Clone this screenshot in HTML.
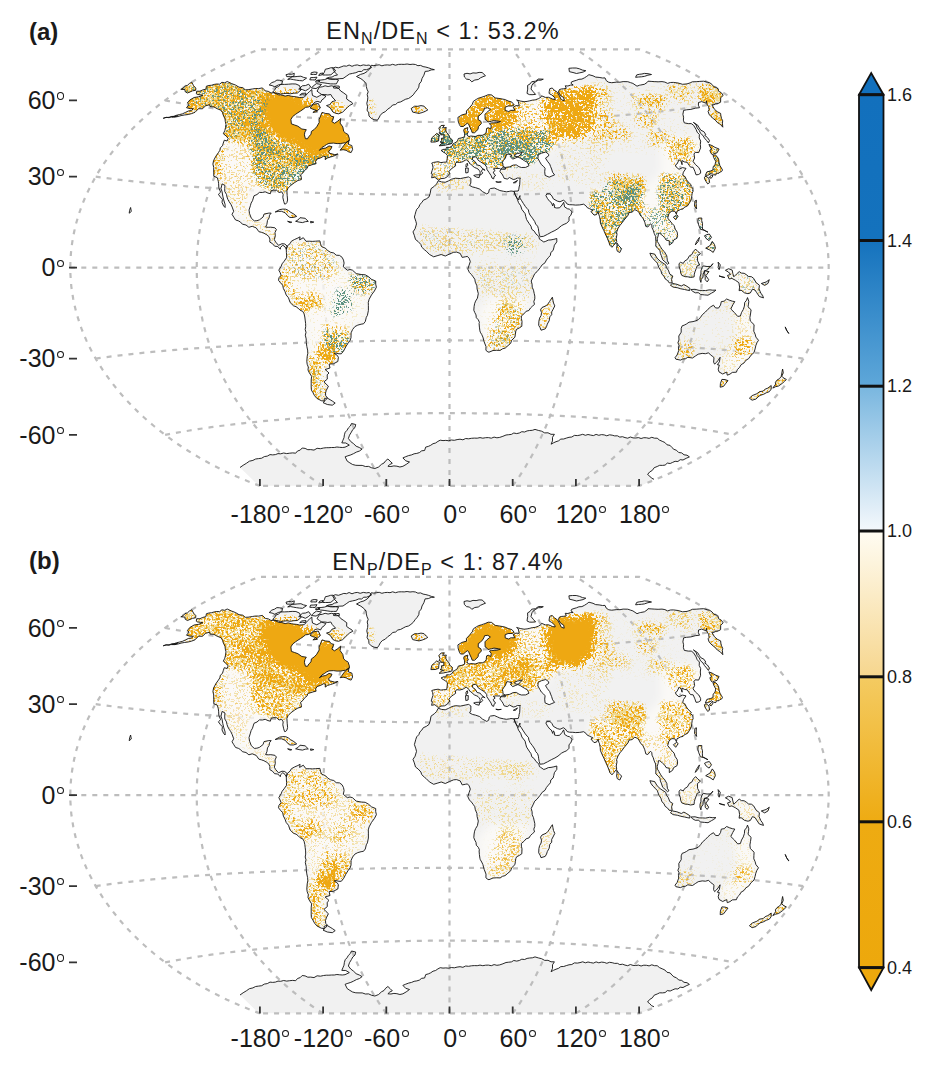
<!DOCTYPE html>
<html><head><meta charset="utf-8"><style>
html,body{margin:0;padding:0;background:#fff;width:933px;height:1066px;overflow:hidden}
body{position:relative;font-family:"Liberation Sans",sans-serif;color:#1a1a1a}
svg{position:absolute;left:0;top:0}
.lab{position:absolute;font-weight:bold;font-size:24px;line-height:30px}
.title{position:absolute;left:0;width:886px;text-align:center;font-size:23.5px;line-height:30px;white-space:nowrap;letter-spacing:1.05px}
.title sub{font-size:16px;vertical-align:-5px;line-height:0}
.lat{position:absolute;right:869px;font-size:25px;line-height:30px;white-space:nowrap}
.lon{position:absolute;width:120px;text-align:center;font-size:25px;line-height:30px;white-space:nowrap}
.dg{display:inline-block;width:5px;height:5.4px;border:1.25px solid #1a1a1a;border-radius:50%;vertical-align:9.5px;margin-left:1.5px}
.cbl{position:absolute;left:887px;font-size:18px;line-height:24px}
</style></head><body>
<svg width="933" height="1066" viewBox="0 0 933 1066">
<defs><filter id="fy" x="0" y="0" width="933" height="1066" filterUnits="userSpaceOnUse" color-interpolation-filters="sRGB"><feGaussianBlur in="SourceAlpha" stdDeviation="3" result="d"/><feTurbulence type="fractalNoise" baseFrequency="0.5" numOctaves="2" seed="11" result="n1"/><feTurbulence type="fractalNoise" baseFrequency="0.06" numOctaves="2" seed="31" result="n2"/><feComposite in="n1" in2="n2" operator="arithmetic" k1="0" k2="0.8" k3="0.2" k4="0" result="n"/><feColorMatrix in="n" type="matrix" values="0 0 0 0 0  0 0 0 0 0  0 0 0 0 0  4.2 0 0 0 -1.6" result="na"/><feComposite in="d" in2="na" operator="arithmetic" k1="0" k2="1.3" k3="1" k4="-1.1" result="s"/><feComponentTransfer in="s" result="th"><feFuncA type="linear" slope="5" intercept="0"/></feComponentTransfer><feFlood flood-color="#efd98f"/><feComposite operator="in" in2="th"/></filter><filter id="fo" x="0" y="0" width="933" height="1066" filterUnits="userSpaceOnUse" color-interpolation-filters="sRGB"><feGaussianBlur in="SourceAlpha" stdDeviation="3" result="d"/><feTurbulence type="fractalNoise" baseFrequency="0.45" numOctaves="2" seed="3" result="n1"/><feTurbulence type="fractalNoise" baseFrequency="0.06" numOctaves="2" seed="23" result="n2"/><feComposite in="n1" in2="n2" operator="arithmetic" k1="0" k2="0.8" k3="0.2" k4="0" result="n"/><feColorMatrix in="n" type="matrix" values="0 0 0 0 0  0 0 0 0 0  0 0 0 0 0  4.2 0 0 0 -1.6" result="na"/><feComposite in="d" in2="na" operator="arithmetic" k1="0" k2="1.3" k3="1" k4="-1.1" result="s"/><feComponentTransfer in="s" result="th"><feFuncA type="linear" slope="5" intercept="0"/></feComponentTransfer><feFlood flood-color="#eea812"/><feComposite operator="in" in2="th"/></filter><filter id="ft" x="0" y="0" width="933" height="1066" filterUnits="userSpaceOnUse" color-interpolation-filters="sRGB"><feGaussianBlur in="SourceAlpha" stdDeviation="3" result="d"/><feTurbulence type="fractalNoise" baseFrequency="0.55" numOctaves="2" seed="7" result="n1"/><feTurbulence type="fractalNoise" baseFrequency="0.06" numOctaves="2" seed="27" result="n2"/><feComposite in="n1" in2="n2" operator="arithmetic" k1="0" k2="0.8" k3="0.2" k4="0" result="n"/><feColorMatrix in="n" type="matrix" values="0 0 0 0 0  0 0 0 0 0  0 0 0 0 0  4.2 0 0 0 -1.6" result="na"/><feComposite in="d" in2="na" operator="arithmetic" k1="0" k2="1.3" k3="1" k4="-1.1" result="s"/><feComponentTransfer in="s" result="th"><feFuncA type="linear" slope="5" intercept="0"/></feComponentTransfer><feFlood flood-color="#5a9080"/><feComposite operator="in" in2="th"/></filter><filter id="bl4" x="0" y="0" width="933" height="1066" filterUnits="userSpaceOnUse"><feGaussianBlur stdDeviation="4"/></filter><filter id="soft" x="0" y="0" width="933" height="1066" filterUnits="userSpaceOnUse"><feGaussianBlur stdDeviation="0.7"/></filter><path id="gratp" d="M323.1,485.9L317.4,482.3L311.9,478.5L306.5,474.6L301.2,470.6L296.1,466.6L291.1,462.5L286.2,458.3L281.4,454.0L276.8,449.6L272.3,445.2L268.0,440.8L263.8,436.2L259.7,431.7L255.8,427.0L252.0,422.3L248.3,417.6L244.7,412.8L241.3,408.0L238.0,403.1L234.9,398.2L231.8,393.2L228.9,388.2L226.2,383.2L223.5,378.2L221.0,373.1L218.6,368.0L216.4,362.8L214.2,357.7L212.2,352.5L210.3,347.3L208.6,342.1L206.9,336.8L205.4,331.6L204.0,326.3L202.7,321.0L201.6,315.7L200.6,310.4L199.7,305.0L198.9,299.7L198.2,294.4L197.7,289.0L197.2,283.7L196.9,278.3L196.8,273.0L196.7,267.6L196.8,262.2L196.9,256.9L197.2,251.5L197.7,246.2L198.2,240.8L198.9,235.5L199.7,230.2L200.6,224.8L201.6,219.5L202.7,214.2L204.0,208.9L205.4,203.6L206.9,198.4L208.6,193.1L210.3,187.9L212.2,182.7L214.2,177.5L216.4,172.4L218.6,167.2L221.0,162.1L223.5,157.0L226.2,152.0L228.9,147.0L231.8,142.0L234.9,137.0L238.0,132.1L241.3,127.2L244.7,122.4L248.3,117.6L252.0,112.9L255.8,108.2L259.7,103.5L263.8,99.0L268.0,94.4L272.3,90.0L276.8,85.6L281.4,81.2L286.2,76.9L291.1,72.7L296.1,68.6L301.2,64.6L306.5,60.6L311.9,56.7L317.4,52.9L323.1,49.3M386.3,485.9L383.1,481.4L379.9,476.8L376.9,472.2L374.0,467.6L371.3,462.9L368.6,458.3L366.0,453.6L363.5,448.8L361.1,444.1L358.9,439.4L356.7,434.6L354.5,429.8L352.5,425.0L350.6,420.2L348.7,415.4L346.9,410.5L345.2,405.7L343.6,400.8L342.0,396.0L340.5,391.1L339.1,386.2L337.7,381.3L336.5,376.4L335.2,371.5L334.1,366.6L333.0,361.7L331.9,356.8L331.0,351.8L330.0,346.9L329.2,342.0L328.4,337.0L327.7,332.1L327.0,327.1L326.4,322.2L325.8,317.2L325.3,312.3L324.8,307.3L324.4,302.4L324.1,297.4L323.8,292.4L323.5,287.5L323.3,282.5L323.2,277.5L323.1,272.6L323.1,267.6L323.1,262.6L323.2,257.7L323.3,252.7L323.5,247.7L323.8,242.8L324.1,237.8L324.4,232.8L324.8,227.9L325.3,222.9L325.8,218.0L326.4,213.0L327.0,208.1L327.7,203.1L328.4,198.2L329.2,193.2L330.0,188.3L331.0,183.4L331.9,178.4L333.0,173.5L334.1,168.6L335.2,163.7L336.5,158.8L337.7,153.9L339.1,149.0L340.5,144.1L342.0,139.2L343.6,134.4L345.2,129.5L346.9,124.7L348.7,119.8L350.6,115.0L352.5,110.2L354.5,105.4L356.7,100.6L358.9,95.8L361.1,91.1L363.5,86.4L366.0,81.6L368.6,76.9L371.3,72.3L374.0,67.6L376.9,63.0L379.9,58.4L383.1,53.8L386.3,49.3M449.5,485.9L449.5,481.1L449.5,476.2L449.5,471.4L449.5,466.5L449.5,461.7L449.5,456.8L449.5,452.0L449.5,447.1L449.5,442.3L449.5,437.4L449.5,432.6L449.5,427.7L449.5,422.9L449.5,418.0L449.5,413.2L449.5,408.3L449.5,403.5L449.5,398.6L449.5,393.8L449.5,388.9L449.5,384.0L449.5,379.2L449.5,374.3L449.5,369.5L449.5,364.6L449.5,359.8L449.5,354.9L449.5,350.1L449.5,345.2L449.5,340.4L449.5,335.5L449.5,330.7L449.5,325.8L449.5,321.0L449.5,316.1L449.5,311.3L449.5,306.4L449.5,301.6L449.5,296.7L449.5,291.9L449.5,287.0L449.5,282.2L449.5,277.3L449.5,272.5L449.5,267.6L449.5,262.7L449.5,257.9L449.5,253.0L449.5,248.2L449.5,243.3L449.5,238.5L449.5,233.6L449.5,228.8L449.5,223.9L449.5,219.1L449.5,214.2L449.5,209.4L449.5,204.5L449.5,199.7L449.5,194.8L449.5,190.0L449.5,185.1L449.5,180.3L449.5,175.4L449.5,170.6L449.5,165.7L449.5,160.9L449.5,156.0L449.5,151.2L449.5,146.3L449.5,141.4L449.5,136.6L449.5,131.7L449.5,126.9L449.5,122.0L449.5,117.2L449.5,112.3L449.5,107.5L449.5,102.6L449.5,97.8L449.5,92.9L449.5,88.1L449.5,83.2L449.5,78.4L449.5,73.5L449.5,68.7L449.5,63.8L449.5,59.0L449.5,54.1L449.5,49.3M512.7,485.9L515.9,481.4L519.1,476.8L522.1,472.2L525.0,467.6L527.7,462.9L530.4,458.3L533.0,453.6L535.5,448.8L537.9,444.1L540.1,439.4L542.3,434.6L544.5,429.8L546.5,425.0L548.4,420.2L550.3,415.4L552.1,410.5L553.8,405.7L555.4,400.8L557.0,396.0L558.5,391.1L559.9,386.2L561.3,381.3L562.5,376.4L563.8,371.5L564.9,366.6L566.0,361.7L567.1,356.8L568.0,351.8L569.0,346.9L569.8,342.0L570.6,337.0L571.3,332.1L572.0,327.1L572.6,322.2L573.2,317.2L573.7,312.3L574.2,307.3L574.6,302.4L574.9,297.4L575.2,292.4L575.5,287.5L575.7,282.5L575.8,277.5L575.9,272.6L575.9,267.6L575.9,262.6L575.8,257.7L575.7,252.7L575.5,247.7L575.2,242.8L574.9,237.8L574.6,232.8L574.2,227.9L573.7,222.9L573.2,218.0L572.6,213.0L572.0,208.1L571.3,203.1L570.6,198.2L569.8,193.2L569.0,188.3L568.0,183.4L567.1,178.4L566.0,173.5L564.9,168.6L563.8,163.7L562.5,158.8L561.3,153.9L559.9,149.0L558.5,144.1L557.0,139.2L555.4,134.4L553.8,129.5L552.1,124.7L550.3,119.8L548.4,115.0L546.5,110.2L544.5,105.4L542.3,100.6L540.1,95.8L537.9,91.1L535.5,86.4L533.0,81.6L530.4,76.9L527.7,72.3L525.0,67.6L522.1,63.0L519.1,58.4L515.9,53.8L512.7,49.3M575.9,485.9L581.6,482.3L587.1,478.5L592.5,474.6L597.8,470.6L602.9,466.6L607.9,462.5L612.8,458.3L617.6,454.0L622.2,449.6L626.7,445.2L631.0,440.8L635.2,436.2L639.3,431.7L643.2,427.0L647.0,422.3L650.7,417.6L654.3,412.8L657.7,408.0L661.0,403.1L664.1,398.2L667.2,393.2L670.1,388.2L672.8,383.2L675.5,378.2L678.0,373.1L680.4,368.0L682.6,362.8L684.8,357.7L686.8,352.5L688.7,347.3L690.4,342.1L692.1,336.8L693.6,331.6L695.0,326.3L696.3,321.0L697.4,315.7L698.4,310.4L699.3,305.0L700.1,299.7L700.8,294.4L701.3,289.0L701.8,283.7L702.1,278.3L702.2,273.0L702.3,267.6L702.2,262.2L702.1,256.9L701.8,251.5L701.3,246.2L700.8,240.8L700.1,235.5L699.3,230.2L698.4,224.8L697.4,219.5L696.3,214.2L695.0,208.9L693.6,203.6L692.1,198.4L690.4,193.1L688.7,187.9L686.8,182.7L684.8,177.5L682.6,172.4L680.4,167.2L678.0,162.1L675.5,157.0L672.8,152.0L670.1,147.0L667.2,142.0L664.1,137.0L661.0,132.1L657.7,127.2L654.3,122.4L650.7,117.6L647.0,112.9L643.2,108.2L639.3,103.5L635.2,99.0L631.0,94.4L626.7,90.0L622.2,85.6L617.6,81.2L612.8,76.9L607.9,72.7L602.9,68.6L597.8,64.6L592.5,60.6L587.1,56.7L581.6,52.9L575.9,49.3M165.1,434.9L169.1,434.1L173.1,433.4L177.2,432.6L181.3,431.9L185.4,431.2L189.6,430.5L193.9,429.8L198.1,429.1L202.4,428.5L206.8,427.8L211.2,427.2L215.6,426.6L220.0,426.0L224.5,425.5L229.0,424.9L233.5,424.4L238.1,423.8L242.7,423.3L247.3,422.8L252.0,422.3L256.6,421.8L261.3,421.4L266.0,420.9L270.7,420.5L275.5,420.1L280.3,419.7L285.1,419.3L289.9,418.9L294.7,418.6L299.5,418.2L304.4,417.9L309.3,417.5L314.1,417.2L319.0,416.9L324.0,416.6L328.9,416.4L333.8,416.1L338.8,415.8L343.7,415.6L348.7,415.4L353.7,415.1L358.7,414.9L363.7,414.7L368.7,414.6L373.7,414.4L378.7,414.2L383.8,414.1L388.8,413.9L393.8,413.8L398.9,413.7L403.9,413.6L409.0,413.5L414.0,413.4L419.1,413.4L424.2,413.3L429.2,413.2L434.3,413.2L439.4,413.2L444.4,413.2L449.5,413.2L454.6,413.2L459.6,413.2L464.7,413.2L469.8,413.2L474.8,413.3L479.9,413.4L485.0,413.4L490.0,413.5L495.1,413.6L500.1,413.7L505.2,413.8L510.2,413.9L515.2,414.1L520.3,414.2L525.3,414.4L530.3,414.6L535.3,414.7L540.3,414.9L545.3,415.1L550.3,415.4L555.3,415.6L560.2,415.8L565.2,416.1L570.1,416.4L575.0,416.6L580.0,416.9L584.9,417.2L589.7,417.5L594.6,417.9L599.5,418.2L604.3,418.6L609.1,418.9L613.9,419.3L618.7,419.7L623.5,420.1L628.3,420.5L633.0,420.9L637.7,421.4L642.4,421.8L647.0,422.3L651.7,422.8L656.3,423.3L660.9,423.8L665.5,424.4L670.0,424.9L674.5,425.5L679.0,426.0L683.4,426.6L687.8,427.2L692.2,427.8L696.6,428.5L700.9,429.1L705.1,429.8L709.4,430.5L713.6,431.2L717.7,431.9L721.8,432.6L725.9,433.4L729.9,434.1L733.9,434.9M95.7,358.6L101.3,357.8L106.8,357.1L112.4,356.3L118.0,355.6L123.7,355.0L129.3,354.3L135.0,353.7L140.7,353.1L146.4,352.5L152.2,351.9L157.9,351.4L163.7,350.9L169.5,350.4L175.3,349.9L181.1,349.4L186.9,348.9L192.8,348.5L198.6,348.1L204.5,347.7L210.3,347.3L216.2,346.9L222.1,346.5L228.0,346.2L233.9,345.8L239.8,345.5L245.7,345.2L251.6,344.9L257.6,344.6L263.5,344.3L269.5,344.1L275.4,343.8L281.4,343.6L287.3,343.3L293.3,343.1L299.3,342.9L305.2,342.7L311.2,342.5L317.2,342.3L323.2,342.1L329.2,342.0L335.2,341.8L341.2,341.7L347.2,341.5L353.2,341.4L359.2,341.3L365.2,341.1L371.2,341.0L377.2,340.9L383.3,340.8L389.3,340.8L395.3,340.7L401.3,340.6L407.3,340.6L413.4,340.5L419.4,340.5L425.4,340.4L431.4,340.4L437.4,340.4L443.5,340.4L449.5,340.4L455.5,340.4L461.6,340.4L467.6,340.4L473.6,340.4L479.6,340.5L485.6,340.5L491.7,340.6L497.7,340.6L503.7,340.7L509.7,340.8L515.7,340.8L521.8,340.9L527.8,341.0L533.8,341.1L539.8,341.3L545.8,341.4L551.8,341.5L557.8,341.7L563.8,341.8L569.8,342.0L575.8,342.1L581.8,342.3L587.8,342.5L593.8,342.7L599.7,342.9L605.7,343.1L611.7,343.3L617.6,343.6L623.6,343.8L629.5,344.1L635.5,344.3L641.4,344.6L647.4,344.9L653.3,345.2L659.2,345.5L665.1,345.8L671.0,346.2L676.9,346.5L682.8,346.9L688.7,347.3L694.5,347.7L700.4,348.1L706.2,348.5L712.1,348.9L717.9,349.4L723.7,349.9L729.5,350.4L735.3,350.9L741.1,351.4L746.8,351.9L752.6,352.5L758.3,353.1L764.0,353.7L769.7,354.3L775.3,355.0L781.0,355.6L786.6,356.3L792.2,357.1L797.7,357.8L803.3,358.6M70.3,267.6L76.6,267.6L82.9,267.6L89.3,267.6L95.6,267.6L101.9,267.6L108.2,267.6L114.5,267.6L120.9,267.6L127.2,267.6L133.5,267.6L139.8,267.6L146.1,267.6L152.5,267.6L158.8,267.6L165.1,267.6L171.4,267.6L177.7,267.6L184.1,267.6L190.4,267.6L196.7,267.6L203.0,267.6L209.3,267.6L215.7,267.6L222.0,267.6L228.3,267.6L234.6,267.6L240.9,267.6L247.3,267.6L253.6,267.6L259.9,267.6L266.2,267.6L272.5,267.6L278.9,267.6L285.2,267.6L291.5,267.6L297.8,267.6L304.1,267.6L310.5,267.6L316.8,267.6L323.1,267.6L329.4,267.6L335.7,267.6L342.1,267.6L348.4,267.6L354.7,267.6L361.0,267.6L367.3,267.6L373.7,267.6L380.0,267.6L386.3,267.6L392.6,267.6L398.9,267.6L405.3,267.6L411.6,267.6L417.9,267.6L424.2,267.6L430.5,267.6L436.9,267.6L443.2,267.6L449.5,267.6L455.8,267.6L462.1,267.6L468.5,267.6L474.8,267.6L481.1,267.6L487.4,267.6L493.7,267.6L500.1,267.6L506.4,267.6L512.7,267.6L519.0,267.6L525.3,267.6L531.7,267.6L538.0,267.6L544.3,267.6L550.6,267.6L556.9,267.6L563.3,267.6L569.6,267.6L575.9,267.6L582.2,267.6L588.5,267.6L594.9,267.6L601.2,267.6L607.5,267.6L613.8,267.6L620.1,267.6L626.5,267.6L632.8,267.6L639.1,267.6L645.4,267.6L651.7,267.6L658.1,267.6L664.4,267.6L670.7,267.6L677.0,267.6L683.3,267.6L689.7,267.6L696.0,267.6L702.3,267.6L708.6,267.6L714.9,267.6L721.3,267.6L727.6,267.6L733.9,267.6L740.2,267.6L746.5,267.6L752.9,267.6L759.2,267.6L765.5,267.6L771.8,267.6L778.1,267.6L784.5,267.6L790.8,267.6L797.1,267.6L803.4,267.6L809.7,267.6L816.1,267.6L822.4,267.6L828.7,267.6M95.7,176.6L101.3,177.4L106.8,178.1L112.4,178.9L118.0,179.6L123.7,180.2L129.3,180.9L135.0,181.5L140.7,182.1L146.4,182.7L152.2,183.3L157.9,183.8L163.7,184.3L169.5,184.8L175.3,185.3L181.1,185.8L186.9,186.3L192.8,186.7L198.6,187.1L204.5,187.5L210.3,187.9L216.2,188.3L222.1,188.7L228.0,189.0L233.9,189.4L239.8,189.7L245.7,190.0L251.6,190.3L257.6,190.6L263.5,190.9L269.5,191.1L275.4,191.4L281.4,191.6L287.3,191.9L293.3,192.1L299.3,192.3L305.2,192.5L311.2,192.7L317.2,192.9L323.2,193.1L329.2,193.2L335.2,193.4L341.2,193.5L347.2,193.7L353.2,193.8L359.2,193.9L365.2,194.1L371.2,194.2L377.2,194.3L383.3,194.4L389.3,194.4L395.3,194.5L401.3,194.6L407.3,194.6L413.4,194.7L419.4,194.7L425.4,194.8L431.4,194.8L437.4,194.8L443.5,194.8L449.5,194.8L455.5,194.8L461.6,194.8L467.6,194.8L473.6,194.8L479.6,194.7L485.6,194.7L491.7,194.6L497.7,194.6L503.7,194.5L509.7,194.4L515.7,194.4L521.8,194.3L527.8,194.2L533.8,194.1L539.8,193.9L545.8,193.8L551.8,193.7L557.8,193.5L563.8,193.4L569.8,193.2L575.8,193.1L581.8,192.9L587.8,192.7L593.8,192.5L599.7,192.3L605.7,192.1L611.7,191.9L617.6,191.6L623.6,191.4L629.5,191.1L635.5,190.9L641.4,190.6L647.4,190.3L653.3,190.0L659.2,189.7L665.1,189.4L671.0,189.0L676.9,188.7L682.8,188.3L688.7,187.9L694.5,187.5L700.4,187.1L706.2,186.7L712.1,186.3L717.9,185.8L723.7,185.3L729.5,184.8L735.3,184.3L741.1,183.8L746.8,183.3L752.6,182.7L758.3,182.1L764.0,181.5L769.7,180.9L775.3,180.2L781.0,179.6L786.6,178.9L792.2,178.1L797.7,177.4L803.3,176.6M165.1,100.3L169.1,101.1L173.1,101.8L177.2,102.6L181.3,103.3L185.4,104.0L189.6,104.7L193.9,105.4L198.1,106.1L202.4,106.7L206.8,107.4L211.2,108.0L215.6,108.6L220.0,109.2L224.5,109.7L229.0,110.3L233.5,110.8L238.1,111.4L242.7,111.9L247.3,112.4L252.0,112.9L256.6,113.4L261.3,113.8L266.0,114.3L270.7,114.7L275.5,115.1L280.3,115.5L285.1,115.9L289.9,116.3L294.7,116.6L299.5,117.0L304.4,117.3L309.3,117.7L314.1,118.0L319.0,118.3L324.0,118.6L328.9,118.8L333.8,119.1L338.8,119.4L343.7,119.6L348.7,119.8L353.7,120.1L358.7,120.3L363.7,120.5L368.7,120.6L373.7,120.8L378.7,121.0L383.8,121.1L388.8,121.3L393.8,121.4L398.9,121.5L403.9,121.6L409.0,121.7L414.0,121.8L419.1,121.8L424.2,121.9L429.2,122.0L434.3,122.0L439.4,122.0L444.4,122.0L449.5,122.0L454.6,122.0L459.6,122.0L464.7,122.0L469.8,122.0L474.8,121.9L479.9,121.8L485.0,121.8L490.0,121.7L495.1,121.6L500.1,121.5L505.2,121.4L510.2,121.3L515.2,121.1L520.3,121.0L525.3,120.8L530.3,120.6L535.3,120.5L540.3,120.3L545.3,120.1L550.3,119.8L555.3,119.6L560.2,119.4L565.2,119.1L570.1,118.8L575.0,118.6L580.0,118.3L584.9,118.0L589.7,117.7L594.6,117.3L599.5,117.0L604.3,116.6L609.1,116.3L613.9,115.9L618.7,115.5L623.5,115.1L628.3,114.7L633.0,114.3L637.7,113.8L642.4,113.4L647.0,112.9L651.7,112.4L656.3,111.9L660.9,111.4L665.5,110.8L670.0,110.3L674.5,109.7L679.0,109.2L683.4,108.6L687.8,108.0L692.2,107.4L696.6,106.7L700.9,106.1L705.1,105.4L709.4,104.7L713.6,104.0L717.7,103.3L721.8,102.6L725.9,101.8L729.9,101.1L733.9,100.3M259.9,485.9L253.3,483.4L246.7,480.8L240.1,478.1L233.5,475.2L227.0,472.2L220.5,469.0L214.0,465.7L207.6,462.3L201.3,458.8L195.1,455.1L188.9,451.3L182.8,447.4L176.8,443.4L170.9,439.2L165.1,434.9L159.4,430.5L153.9,426.0L148.5,421.4L143.2,416.7L138.0,411.9L133.0,407.0L128.2,401.9L123.5,396.8L119.0,391.6L114.7,386.3L110.5,380.9L106.5,375.4L102.7,369.9L99.1,364.3L95.7,358.6L92.5,352.8L89.5,347.0L86.7,341.1L84.1,335.2L81.7,329.2L79.6,323.2L77.7,317.1L75.9,311.0L74.5,304.9L73.2,298.7L72.2,292.5L71.3,286.3L70.8,280.1L70.4,273.8L70.3,267.6L70.4,261.4L70.8,255.1L71.3,248.9L72.2,242.7L73.2,236.5L74.5,230.3L75.9,224.2L77.7,218.1L79.6,212.0L81.7,206.0L84.1,200.0L86.7,194.1L89.5,188.2L92.5,182.4L95.7,176.6L99.1,170.9L102.7,165.3L106.5,159.8L110.5,154.3L114.7,148.9L119.0,143.6L123.5,138.4L128.2,133.3L133.0,128.2L138.0,123.3L143.2,118.5L148.5,113.8L153.9,109.2L159.4,104.7L165.1,100.3L170.9,96.0L176.8,91.8L182.8,87.8L188.9,83.9L195.1,80.1L201.3,76.4L207.6,72.9L214.0,69.5L220.5,66.2L227.0,63.0L233.5,60.0L240.1,57.1L246.7,54.4L253.3,51.8L259.9,49.3L259.9,49.3L266.2,49.3L272.5,49.3L278.9,49.3L285.2,49.3L291.5,49.3L297.8,49.3L304.1,49.3L310.5,49.3L316.8,49.3L323.1,49.3L329.4,49.3L335.7,49.3L342.1,49.3L348.4,49.3L354.7,49.3L361.0,49.3L367.3,49.3L373.7,49.3L380.0,49.3L386.3,49.3L392.6,49.3L398.9,49.3L405.3,49.3L411.6,49.3L417.9,49.3L424.2,49.3L430.5,49.3L436.9,49.3L443.2,49.3L449.5,49.3L455.8,49.3L462.1,49.3L468.5,49.3L474.8,49.3L481.1,49.3L487.4,49.3L493.7,49.3L500.1,49.3L506.4,49.3L512.7,49.3L519.0,49.3L525.3,49.3L531.7,49.3L538.0,49.3L544.3,49.3L550.6,49.3L556.9,49.3L563.3,49.3L569.6,49.3L575.9,49.3L582.2,49.3L588.5,49.3L594.9,49.3L601.2,49.3L607.5,49.3L613.8,49.3L620.1,49.3L626.5,49.3L632.8,49.3L639.1,49.3L639.1,49.3L645.7,51.8L652.3,54.4L658.9,57.1L665.5,60.0L672.0,63.0L678.5,66.2L685.0,69.5L691.4,72.9L697.7,76.4L703.9,80.1L710.1,83.9L716.2,87.8L722.2,91.8L728.1,96.0L733.9,100.3L739.6,104.7L745.1,109.2L750.5,113.8L755.8,118.5L761.0,123.3L766.0,128.2L770.8,133.3L775.5,138.4L780.0,143.6L784.3,148.9L788.5,154.3L792.5,159.8L796.3,165.3L799.9,170.9L803.3,176.6L806.5,182.4L809.5,188.2L812.3,194.1L814.9,200.0L817.3,206.0L819.4,212.0L821.3,218.1L823.1,224.2L824.5,230.3L825.8,236.5L826.8,242.7L827.7,248.9L828.2,255.1L828.6,261.4L828.7,267.6L828.6,273.8L828.2,280.1L827.7,286.3L826.8,292.5L825.8,298.7L824.5,304.9L823.1,311.0L821.3,317.1L819.4,323.2L817.3,329.2L814.9,335.2L812.3,341.1L809.5,347.0L806.5,352.8L803.3,358.6L799.9,364.3L796.3,369.9L792.5,375.4L788.5,380.9L784.3,386.3L780.0,391.6L775.5,396.8L770.8,401.9L766.0,407.0L761.0,411.9L755.8,416.7L750.5,421.4L745.1,426.0L739.6,430.5L733.9,434.9L728.1,439.2L722.2,443.4L716.2,447.4L710.1,451.3L703.9,455.1L697.7,458.8L691.4,462.3L685.0,465.7L678.5,469.0L672.0,472.2L665.5,475.2L658.9,478.1L652.3,480.8L645.7,483.4L639.1,485.9L639.1,485.9L632.8,485.9L626.5,485.9L620.1,485.9L613.8,485.9L607.5,485.9L601.2,485.9L594.9,485.9L588.5,485.9L582.2,485.9L575.9,485.9L569.6,485.9L563.3,485.9L556.9,485.9L550.6,485.9L544.3,485.9L538.0,485.9L531.7,485.9L525.3,485.9L519.0,485.9L512.7,485.9L506.4,485.9L500.1,485.9L493.7,485.9L487.4,485.9L481.1,485.9L474.8,485.9L468.5,485.9L462.1,485.9L455.8,485.9L449.5,485.9L443.2,485.9L436.9,485.9L430.5,485.9L424.2,485.9L417.9,485.9L411.6,485.9L405.3,485.9L398.9,485.9L392.6,485.9L386.3,485.9L380.0,485.9L373.7,485.9L367.3,485.9L361.0,485.9L354.7,485.9L348.4,485.9L342.1,485.9L335.7,485.9L329.4,485.9L323.1,485.9L316.8,485.9L310.5,485.9L304.1,485.9L297.8,485.9L291.5,485.9L285.2,485.9L278.9,485.9L272.5,485.9L266.2,485.9L259.9,485.9Z"/><path id="landp" d="M286.7,76.6L290.2,76.7L293.8,76.4L294.3,73.3L291.6,74.3L288.8,74.0L286.0,74.7ZM309.8,79.8L312.5,79.9L315.2,80.0L317.0,77.2L313.8,77.5L310.6,77.6ZM315.6,82.1L319.4,81.9L319.5,80.1L316.2,80.5ZM299.7,95.1L302.4,94.7L305.3,95.2L306.0,93.1L301.8,93.4ZM322.5,75.0L325.3,75.0L328.1,75.0L330.9,74.8L333.2,72.8L335.6,70.8L333.2,67.7L330.6,67.8L328.0,68.7L325.4,69.2L324.3,72.3ZM310.8,74.5L313.5,74.4L316.4,74.5L317.2,72.3L314.2,72.0L311.3,72.7ZM318.7,75.5L322.0,74.8L323.1,73.0L319.9,73.5ZM333.5,88.0L336.4,88.2L339.4,88.1L339.2,86.1L336.6,86.0L334.0,86.1ZM312.9,112.4L317.4,111.8L315.7,110.3ZM196.7,91.2L199.9,91.2L202.8,89.9L205.9,89.2L206.4,86.2L209.0,85.5L211.7,85.2L214.2,84.4L216.8,84.0L219.6,84.2L221.9,82.3L224.7,82.8L227.2,81.5L231.7,83.6L235.6,85.1L239.0,87.2L242.9,87.7L245.2,89.8L248.1,89.7L252.3,89.0L255.5,88.5L258.7,88.6L262.4,87.9L265.4,90.9L268.4,91.4L271.0,93.0L274.2,92.7L278.6,94.8L281.9,95.1L285.2,96.1L288.2,95.4L291.2,96.2L293.9,96.6L296.7,96.9L299.4,97.5L304.2,97.2L306.0,95.2L307.7,93.2L309.7,91.4L311.8,89.5L312.0,92.6L312.5,95.5L316.8,97.3L319.3,95.9L321.6,94.6L325.9,96.0L324.2,98.3L321.9,99.9L320.5,102.5L317.9,101.4L315.1,102.0L313.2,104.0L311.0,105.6L308.5,107.0L305.6,107.3L303.2,109.2L300.6,111.0L297.9,112.7L295.3,114.5L292.7,116.5L290.9,119.4L291.4,123.9L294.6,125.0L297.9,126.2L301.8,129.0L306.3,129.7L304.9,132.1L304.4,134.8L305.4,138.7L307.5,138.8L308.9,136.4L311.0,134.4L311.4,131.4L314.3,129.4L316.7,126.8L319.2,122.5L319.0,119.7L320.1,117.2L322.0,112.4L325.7,113.5L329.5,113.9L331.0,116.2L333.8,116.8L331.9,121.6L334.5,123.3L337.7,121.2L340.7,118.7L340.1,123.1L342.8,126.9L343.7,131.4L345.7,133.2L348.0,134.5L349.3,138.3L349.4,140.6L345.5,142.7L340.7,143.5L337.1,143.6L333.5,143.1L328.9,143.4L326.5,144.5L324.3,146.1L322.0,147.4L319.4,150.3L322.0,148.7L325.8,148.0L329.0,145.9L332.0,146.7L330.5,149.7L328.6,151.1L329.5,153.3L332.1,153.9L334.8,154.7L337.8,154.0L334.9,155.6L330.3,157.1L327.6,157.9L325.2,159.6L325.4,156.6L323.4,156.3L320.8,157.8L317.1,159.0L315.6,161.4L316.1,163.7L313.1,164.4L308.7,165.8L307.7,166.3L307.1,168.4L304.6,170.4L302.9,172.9L300.6,174.8L301.4,177.8L301.4,179.6L297.9,180.5L294.7,182.5L291.1,185.1L288.0,188.2L286.9,190.8L287.2,195.7L287.6,200.0L286.9,202.6L285.8,203.9L284.6,204.1L283.7,201.3L282.8,197.3L283.2,194.4L281.7,191.8L279.0,192.5L276.7,190.3L273.8,190.1L271.1,190.7L270.4,193.7L268.0,193.1L265.2,191.8L262.4,192.5L259.4,192.4L257.0,194.5L254.0,195.8L252.5,200.7L251.1,203.1L250.4,205.7L249.0,210.1L249.6,213.7L251.3,218.2L254.3,220.9L256.9,220.7L259.4,219.9L263.1,217.0L264.0,214.1L268.8,213.1L271.2,213.1L269.5,215.2L269.1,217.9L267.5,220.4L266.9,224.3L265.6,227.1L268.3,227.3L270.8,227.2L274.9,227.8L276.4,229.5L275.0,232.5L275.3,235.9L274.3,239.7L275.7,242.1L278.5,245.3L282.0,243.7L284.8,244.0L287.3,246.2L286.3,249.3L285.0,246.9L282.8,245.2L280.6,247.3L280.3,249.2L277.8,246.5L274.6,246.2L272.5,243.7L269.8,242.1L269.9,239.1L268.9,236.6L266.8,234.8L263.9,233.2L261.4,232.3L258.9,231.7L256.2,227.9L252.2,226.3L248.9,227.3L246.0,225.0L242.4,224.2L240.5,222.1L238.3,220.8L235.6,220.0L233.8,217.2L232.0,214.3L233.7,211.3L232.2,207.1L230.9,204.3L229.2,201.8L227.9,199.5L227.0,197.0L226.5,194.4L224.8,191.5L224.7,188.6L225.0,185.5L222.1,183.9L221.0,188.6L222.1,191.8L222.8,196.1L223.7,199.9L225.1,204.4L225.1,207.5L223.6,205.9L222.0,202.4L222.4,199.3L220.4,197.1L218.4,194.3L220.6,192.2L218.8,187.7L218.6,183.7L218.3,181.3L217.3,177.7L213.8,176.2L213.7,172.2L213.7,167.4L212.9,164.1L213.6,160.5L215.8,156.3L218.4,152.6L219.8,150.4L220.4,147.7L222.5,145.8L223.3,143.0L224.3,140.2L227.1,141.0L228.2,138.4L226.3,136.2L223.3,133.7L224.8,130.7L225.5,127.6L226.0,124.3L225.3,121.6L225.0,118.9L223.1,114.8L222.6,112.7L220.8,110.1L217.1,108.7L214.0,106.9L210.0,106.6L209.7,104.7L205.7,105.8L202.3,108.8L198.5,108.7L195.0,112.3L191.7,113.6L188.2,114.5L184.3,115.0L181.1,115.6L178.0,116.5L174.9,117.1L171.7,117.1L176.4,115.3L179.4,114.6L182.3,113.9L185.5,112.4L188.6,110.9L191.4,110.6L193.3,108.7L190.1,108.7L186.5,107.7L189.0,104.6L187.4,103.0L189.8,100.0L194.1,97.5L198.7,96.8L202.8,95.2L200.2,94.8L197.3,94.4L196.3,93.7ZM177.7,115.7L174.8,116.5L171.8,116.4L169.0,117.3L166.0,117.5L163.2,118.3L166.1,117.3L169.1,117.7L172.0,116.6L175.0,116.7ZM352.8,103.8L349.8,105.3L347.3,107.6L345.0,109.8L342.7,112.1L338.7,113.8L335.7,113.3L332.9,112.0L330.2,107.8L326.5,105.6L329.8,104.6L332.1,101.6L335.6,100.7L332.2,97.0L330.8,94.5L327.8,95.0L324.8,94.5L321.7,94.5L319.3,92.9L317.0,91.1L319.4,87.2L322.3,86.8L325.1,85.8L328.1,86.5L331.4,85.8L334.5,86.5L338.9,88.7L340.7,91.0L343.2,92.6L346.8,95.3L346.6,98.9L349.2,100.8L351.9,102.4ZM326.5,78.3L329.5,78.7L332.5,78.9L335.4,79.2L339.2,78.7L343.0,78.5L346.2,76.3L349.3,74.1L352.5,73.4L355.8,72.7L358.8,71.4L361.6,71.5L363.8,69.7L366.6,69.7L369.1,68.7L371.6,67.5L369.4,65.0L366.3,65.4L363.3,64.9L360.2,65.8L357.3,64.9L354.6,65.3L352.0,66.3L349.1,65.0L346.5,66.2L343.8,65.9L341.1,66.9L338.4,67.8L335.3,67.2L332.7,68.4L334.6,72.0L337.5,75.0L334.7,75.5L332.1,77.0L329.2,77.3ZM272.7,91.9L275.2,93.0L278.0,93.3L280.6,94.1L283.8,93.6L287.0,93.3L290.2,93.8L293.8,93.2L297.5,93.0L301.1,89.9L299.5,85.6L295.9,84.0L292.2,83.9L288.5,84.2L284.7,84.4L280.8,84.4L278.6,86.5L275.8,87.7L274.6,90.2ZM269.2,85.0L272.1,85.6L274.8,86.8L278.2,85.0L281.9,84.1L282.5,80.9L279.8,80.3L276.9,80.1L274.5,81.7L271.8,82.6ZM320.3,82.5L324.1,82.9L327.9,83.5L330.7,83.9L333.5,83.9L336.4,83.9L338.5,79.9L335.8,79.1L333.0,79.4L330.3,79.3L327.6,78.5L324.4,79.6L321.1,80.0L317.8,80.4ZM287.7,79.4L290.7,79.1L293.7,79.7L296.6,80.2L299.6,80.6L302.6,80.8L306.6,78.1L303.6,77.4L300.9,76.2L297.9,76.4L295.0,76.7L292.1,76.8ZM311.4,88.0L316.0,88.6L319.0,86.8L321.5,84.5L316.4,83.6L313.1,86.1ZM298.7,89.1L302.2,89.5L305.4,90.8L308.3,89.2L310.7,87.0L308.7,84.2L305.6,85.5L302.4,85.8ZM310.0,107.8L312.3,109.0L314.8,109.8L317.2,110.8L320.4,108.0L318.3,103.5L313.6,104.3ZM340.1,150.2L343.1,149.7L346.1,150.3L348.5,151.8L351.1,152.6L352.6,149.5L351.8,145.5L348.4,144.4L348.9,140.4L345.7,143.2L343.8,145.4L342.1,147.8ZM275.2,212.0L279.7,209.6L282.8,209.1L285.8,209.2L288.3,210.4L290.6,212.2L293.9,214.1L296.7,216.4L293.3,217.5L289.8,217.4L287.3,215.4L285.4,212.9L281.5,211.3L278.3,211.4ZM295.6,221.3L298.1,219.9L300.0,217.7L305.1,218.3L308.3,221.4L305.3,221.7L302.5,222.6L299.1,222.1ZM287.6,221.3L291.8,222.2L290.1,222.7ZM310.5,221.4L313.8,222.1L310.7,222.9ZM130.6,207.5L131.3,211.5L129.2,213.2L129.6,210.3ZM287.2,246.0L290.1,243.6L291.3,241.3L294.3,239.6L297.9,238.0L300.1,236.8L299.6,239.9L303.3,237.7L306.0,241.3L309.2,241.2L312.3,241.4L315.5,241.2L319.9,240.9L320.5,243.8L321.5,246.5L325.6,248.3L327.7,250.6L330.6,252.3L333.8,253.0L336.2,255.2L339.5,255.4L342.1,257.3L343.5,260.1L344.1,263.1L343.3,266.8L347.3,270.2L350.0,269.5L352.5,270.2L356.2,273.6L361.1,274.5L365.2,274.8L368.5,276.7L371.6,279.4L375.7,281.0L375.7,284.1L376.4,287.2L374.4,291.0L371.5,294.9L369.1,299.4L368.3,302.4L368.4,305.6L368.4,310.5L367.4,315.4L366.3,317.3L365.3,321.5L363.5,323.8L361.1,324.2L357.8,325.1L354.9,326.6L352.6,329.5L351.1,332.8L351.0,337.7L350.1,340.4L348.3,342.7L345.7,346.9L343.7,350.8L341.3,353.8L338.9,353.8L336.1,353.1L334.2,353.4L337.2,355.3L338.4,357.3L337.8,361.5L333.4,363.8L329.1,364.1L330.0,368.0L325.1,369.5L327.1,371.2L329.0,373.0L327.2,374.8L327.3,379.1L324.0,381.8L326.1,384.1L328.4,386.2L326.3,390.4L325.5,393.0L325.7,395.8L327.4,397.7L324.2,398.8L324.3,401.1L321.3,400.7L316.9,398.4L314.5,395.6L312.8,392.4L311.4,390.1L311.2,387.5L311.2,383.7L311.2,380.0L311.6,376.3L309.2,372.6L308.0,370.0L308.3,367.1L307.2,364.3L306.8,361.4L307.2,356.4L307.8,353.3L307.6,350.1L306.8,346.4L306.3,342.6L306.2,338.9L305.3,335.2L306.0,332.3L305.2,329.5L305.7,326.6L305.6,323.4L305.2,320.1L304.8,317.0L304.1,313.9L302.8,311.4L300.2,310.3L298.2,308.3L296.1,306.7L293.5,305.8L290.1,302.5L288.5,297.8L286.2,295.0L285.0,291.6L283.4,288.6L282.7,285.2L280.5,282.8L278.5,280.3L279.0,277.7L281.1,275.2L280.1,272.6L278.8,270.1L281.1,266.4L282.1,263.8L284.1,261.3L286.5,257.8L286.6,255.1L286.4,252.5L286.3,249.5ZM327.3,398.1L330.1,399.7L332.7,401.3L335.2,403.1L332.3,405.2L327.3,404.5L323.0,402.6L325.3,400.5ZM438.2,180.8L436.6,183.9L434.5,186.1L431.0,188.7L430.1,193.7L429.0,196.9L426.3,198.9L423.3,200.2L421.9,202.5L419.9,204.4L418.8,207.2L416.7,209.3L415.8,211.8L415.1,214.5L414.4,217.0L415.9,221.4L416.5,223.9L415.1,228.7L413.0,231.9L414.3,235.3L415.5,239.5L418.0,241.4L420.9,244.5L421.7,247.1L424.4,249.7L426.3,251.2L429.4,254.4L433.7,256.8L437.9,255.5L441.2,254.5L445.3,256.0L449.5,254.0L453.7,252.3L456.6,252.1L460.2,253.4L462.2,257.4L465.3,256.8L467.4,256.4L469.2,258.4L470.3,261.6L469.1,265.1L467.8,269.1L469.4,272.5L471.4,274.5L473.1,276.8L474.8,279.2L475.3,282.2L476.9,285.8L477.1,289.0L478.3,293.6L477.4,298.2L475.6,301.1L474.6,303.7L474.1,306.5L473.8,310.2L474.8,312.6L476.0,314.9L476.3,317.7L478.3,319.8L479.4,322.3L479.1,323.5L479.4,327.1L479.9,330.8L480.3,332.2L481.7,334.5L482.9,337.1L484.1,341.7L486.0,346.6L485.9,350.3L487.9,351.9L489.0,352.2L493.0,350.5L496.6,350.3L500.2,350.4L502.5,348.8L505.2,348.1L507.9,345.7L510.7,343.3L511.6,340.4L514.9,337.2L515.4,334.1L515.8,331.1L516.6,329.3L519.4,327.9L521.8,326.3L522.0,321.4L521.4,318.7L521.3,316.0L523.9,313.9L526.1,311.3L528.9,310.5L530.5,308.0L532.4,306.2L534.5,304.4L533.8,301.6L534.8,298.9L534.8,296.1L534.2,293.4L533.5,290.2L532.2,287.2L532.1,284.3L531.2,281.0L533.0,277.4L534.7,273.7L537.0,271.7L540.2,267.7L542.2,264.8L545.0,262.8L546.4,260.0L548.3,257.7L550.4,255.3L550.8,252.5L553.1,250.5L553.8,247.9L554.4,245.2L556.0,243.0L556.8,241.9L556.8,238.5L553.9,239.3L551.0,239.9L548.3,240.1L545.8,241.3L543.8,242.0L540.6,239.8L539.5,239.2L538.8,236.4L535.9,233.9L534.3,231.2L531.8,229.3L531.0,226.2L529.2,223.6L526.6,219.6L525.8,216.7L525.1,213.6L521.9,209.5L520.7,205.8L518.5,202.6L517.3,199.2L515.2,194.6L514.0,191.4L511.0,191.0L509.3,191.4L506.4,191.8L503.5,191.3L499.8,190.5L497.4,189.4L494.3,188.0L490.4,188.6L489.3,189.5L488.6,192.8L486.7,193.9L482.6,191.7L479.7,189.1L475.7,187.7L472.4,186.9L469.6,185.4L470.8,183.1L470.9,178.5L469.4,177.4L468.6,176.9L465.1,177.6L460.3,178.6L455.4,178.2L451.5,179.2L448.3,181.0L445.2,182.3L441.6,181.9ZM552.4,297.2L552.9,300.1L553.5,303.0L554.8,305.9L553.0,309.5L551.7,311.9L551.7,314.7L549.8,316.8L549.2,320.7L547.3,324.1L546.5,326.7L545.2,328.9L541.0,330.2L540.1,327.7L538.7,325.3L538.9,321.1L539.6,318.1L541.1,315.5L541.5,312.6L540.5,309.7L542.0,307.5L546.0,305.8L548.0,303.8L549.6,301.5L550.9,299.3ZM438.6,180.2L437.1,179.1L434.8,177.2L431.6,177.8L432.4,174.2L431.2,173.7L432.1,170.5L433.0,167.8L432.6,164.9L431.7,163.1L433.6,162.4L438.1,161.7L440.9,162.6L443.8,162.2L446.7,162.1L447.2,158.4L447.4,155.4L445.5,153.3L443.0,151.9L441.1,150.4L444.0,149.2L445.7,149.7L446.5,147.3L449.6,147.4L452.3,145.8L453.0,144.0L454.8,142.9L456.7,141.9L457.7,140.3L458.4,138.5L462.0,137.8L464.7,136.6L464.5,133.2L463.7,130.5L464.3,128.8L467.8,127.6L467.3,130.6L468.4,131.7L467.1,134.1L467.5,135.7L469.0,136.6L470.8,136.0L475.2,136.5L478.7,135.3L482.3,135.3L484.8,134.2L486.2,132.2L486.6,128.4L488.2,127.7L490.8,129.0L491.2,125.7L489.4,123.6L491.4,122.9L494.2,122.9L496.9,122.7L500.5,121.7L498.3,121.2L494.1,120.6L491.6,121.2L488.0,122.0L487.0,120.6L485.1,119.4L485.0,114.3L486.8,112.4L490.4,109.5L487.8,107.8L484.6,108.2L483.8,110.4L482.5,112.5L480.0,115.1L478.3,116.0L478.2,119.6L480.9,121.3L481.4,123.5L478.4,126.7L478.1,129.1L476.6,130.9L474.4,132.8L472.2,132.7L471.4,130.4L470.0,127.5L468.6,124.1L467.3,123.2L465.7,124.5L463.3,126.5L460.5,126.5L459.3,124.4L458.2,121.1L457.9,117.4L461.9,114.9L466.5,113.7L466.4,111.0L469.4,107.8L472.3,104.3L473.4,101.3L476.3,99.4L478.5,98.2L481.4,97.3L485.0,96.1L488.2,94.7L491.5,94.9L495.2,97.9L500.0,98.6L504.8,99.5L508.2,101.0L511.9,102.1L514.2,104.9L512.1,106.0L508.1,106.0L505.1,107.3L505.2,110.4L508.8,111.6L510.5,110.4L514.9,110.2L513.2,107.2L515.9,105.6L519.2,105.9L518.3,101.4L516.6,100.0L520.7,101.1L524.1,101.7L527.1,101.4L529.8,100.8L532.5,100.1L535.1,99.9L538.4,98.7L540.9,97.2L541.5,95.8L545.4,97.4L548.6,97.3L552.4,99.0L555.1,99.5L554.9,97.8L551.9,95.0L549.1,93.5L549.2,91.6L549.8,88.7L552.1,88.0L554.5,90.3L557.6,92.6L559.4,95.8L561.3,99.7L564.2,100.7L563.7,97.6L560.5,95.6L558.4,91.9L559.5,89.5L561.8,88.9L563.9,88.8L566.3,88.3L565.2,85.8L567.9,86.0L570.5,85.1L573.2,85.0L571.0,83.4L571.5,81.9L574.0,81.0L576.5,80.3L578.9,79.3L581.9,79.1L584.5,77.8L586.7,76.4L588.9,74.7L593.0,75.8L595.6,77.1L599.1,77.4L602.5,78.0L605.0,77.9L606.3,80.7L608.8,82.3L611.7,82.7L616.8,82.1L620.0,82.2L623.1,81.6L627.8,81.7L630.4,82.6L632.9,83.4L637.0,86.2L639.6,85.2L640.7,85.0L644.4,84.3L647.2,82.4L648.0,81.2L651.1,81.4L654.2,81.6L658.1,81.8L662.0,81.6L664.9,82.1L667.6,83.4L670.4,82.5L673.3,82.4L678.1,83.0L682.6,84.3L687.0,83.9L690.1,82.9L692.3,81.8L696.2,81.7L699.8,81.4L703.6,81.2L707.3,82.2L709.9,82.9L712.1,84.5L713.8,86.7L716.3,87.5L718.4,89.2L718.4,91.1L721.3,92.7L723.2,95.4L720.7,97.7L720.6,102.2L718.0,103.5L715.2,103.9L714.1,104.8L711.9,104.8L714.4,109.2L717.2,111.7L720.6,113.4L720.9,115.8L721.5,118.4L722.7,120.8L722.4,123.1L722.8,127.2L720.4,124.4L717.3,122.5L715.4,120.2L713.1,118.4L710.8,116.4L709.0,114.2L708.1,111.3L709.1,109.8L708.6,106.7L706.8,104.1L706.5,100.9L705.9,103.2L701.7,101.6L698.5,102.5L698.4,105.2L699.5,107.7L695.3,108.2L690.9,109.4L686.5,109.8L683.6,110.4L682.9,114.4L683.6,117.2L683.4,120.2L684.3,122.9L688.3,123.6L691.3,123.6L693.6,125.3L696.1,129.4L697.2,132.2L699.4,134.5L699.2,137.9L700.7,141.1L700.3,144.5L700.6,147.9L698.7,152.6L695.2,152.3L694.0,154.0L694.6,158.0L693.0,161.3L695.5,164.6L698.8,167.5L700.6,170.9L700.6,173.2L698.3,174.6L696.0,174.8L694.9,171.4L693.1,167.3L690.5,167.1L689.1,165.2L687.2,162.3L684.4,161.9L681.9,160.5L682.1,164.7L681.2,161.8L679.1,159.7L677.0,164.0L675.4,165.0L676.1,166.9L679.0,169.3L682.5,167.6L686.0,168.4L683.4,172.2L682.7,175.1L685.0,176.7L686.3,179.4L688.0,181.8L691.4,185.0L690.5,186.2L692.8,188.2L693.1,191.2L692.2,193.1L691.8,195.8L691.5,198.5L690.4,201.4L689.5,202.8L687.5,205.9L684.3,207.3L683.1,208.9L680.7,209.4L677.0,211.3L676.4,214.2L674.9,211.3L671.9,211.1L669.0,213.3L667.7,218.1L669.7,220.5L672.2,223.6L674.1,225.6L675.2,229.1L677.2,232.1L677.6,235.5L676.9,238.3L673.6,240.1L672.7,242.7L669.3,245.1L669.3,240.9L666.0,240.0L664.8,237.7L662.8,236.0L661.4,234.5L659.8,233.3L658.5,233.1L658.1,236.0L657.2,238.8L657.4,241.6L658.8,243.8L660.4,246.7L662.3,249.7L664.4,251.7L666.8,255.9L667.0,257.7L667.4,260.8L668.9,263.3L667.5,264.2L664.9,261.7L662.7,259.8L661.3,255.6L660.4,253.6L660.0,250.8L658.3,248.7L655.8,246.4L655.9,241.7L655.6,236.5L654.2,233.4L653.2,230.1L652.0,227.7L651.8,225.2L650.5,223.7L647.8,227.0L645.8,226.4L644.8,222.3L642.9,218.0L640.8,216.1L638.9,212.5L637.4,210.8L634.8,209.7L632.1,212.1L629.0,212.6L628.1,215.2L626.2,217.5L624.2,219.9L622.1,222.8L620.0,225.3L618.0,228.4L616.6,232.2L617.0,234.4L616.2,238.5L616.7,241.6L614.9,244.0L613.7,245.2L612.0,247.3L609.9,245.2L609.0,242.5L607.4,238.4L605.8,235.1L603.9,230.7L602.3,227.4L600.4,223.0L600.2,219.9L599.5,216.2L598.8,214.7L598.1,211.7L596.5,214.6L594.0,215.1L590.9,211.5L592.8,210.3L589.4,208.6L587.3,207.7L585.9,205.8L583.7,204.2L579.7,204.9L575.7,205.1L572.8,204.8L569.5,204.7L567.2,204.1L565.3,201.5L563.4,200.2L560.0,201.8L557.3,201.1L553.4,198.9L551.9,196.0L549.8,193.8L546.9,193.8L545.9,195.6L547.5,198.6L549.8,201.5L551.3,202.5L552.8,206.0L553.4,203.3L554.6,205.2L554.4,207.5L556.7,208.0L559.6,207.8L562.0,205.0L563.7,202.3L564.6,206.9L567.6,208.8L569.3,209.1L572.1,211.8L570.8,215.4L569.0,217.1L569.0,220.8L566.6,223.3L564.1,224.3L561.6,225.6L558.0,228.6L554.9,230.5L551.7,232.0L547.5,234.3L543.5,236.3L540.5,236.7L540.0,236.7L539.2,234.0L538.7,231.3L538.4,228.7L537.6,226.2L535.7,224.1L534.7,221.5L532.4,218.1L530.0,215.0L528.9,212.6L528.4,209.9L527.1,208.6L525.3,206.4L523.3,203.4L521.4,200.3L519.8,198.0L520.0,195.6L518.9,198.0L519.0,199.8L517.3,198.5L515.0,194.6L514.1,191.2L518.2,191.0L518.8,189.2L519.1,187.0L519.7,184.8L519.9,180.8L519.9,179.1L520.4,178.0L519.0,178.1L517.4,178.0L515.2,179.2L513.2,179.5L509.5,177.5L507.3,179.1L504.1,178.3L503.2,176.2L502.0,174.0L500.8,172.9L499.9,171.4L500.7,169.3L499.5,168.5L495.6,168.4L493.4,169.0L495.2,170.5L493.2,172.1L494.6,174.7L495.7,175.4L494.0,176.8L493.7,178.9L492.0,178.1L491.1,175.6L489.1,172.6L486.8,169.2L486.8,167.2L484.8,164.5L484.0,164.0L480.6,161.9L478.2,160.3L476.6,157.4L475.3,156.8L472.5,157.4L472.6,159.9L475.2,161.7L477.1,165.0L480.2,165.7L481.8,167.9L485.1,170.3L483.8,169.7L482.5,169.4L481.4,171.2L482.7,172.9L481.6,174.3L480.1,175.1L480.1,171.9L479.2,170.4L478.0,169.0L476.8,168.4L474.4,167.4L472.8,166.1L470.9,164.3L469.5,163.5L469.1,162.0L466.2,159.7L463.6,161.2L463.3,161.6L459.7,162.5L457.0,162.2L455.4,163.3L455.6,165.9L453.7,167.2L451.2,168.9L448.9,171.7L449.9,173.8L448.4,174.8L447.6,176.5L444.6,178.3L440.9,178.6ZM191.7,82.2L193.6,85.7L195.8,88.1L195.7,90.3L192.6,90.8L190.1,91.9L187.4,93.0L185.1,91.6L185.0,89.6L180.8,89.3L183.1,88.2L184.9,86.2L187.5,85.3L189.4,83.5ZM439.1,145.8L443.1,145.5L447.7,144.6L452.0,143.4L452.4,141.2L452.5,140.0L449.8,137.8L449.0,135.4L446.7,132.6L445.9,131.0L445.9,128.8L446.4,127.6L442.6,127.8L444.4,125.3L441.1,125.5L438.8,128.1L439.8,130.5L440.0,131.3L439.0,133.1L441.1,133.7L440.7,134.9L444.1,134.7L443.7,136.6L444.1,138.0L441.4,138.3L441.8,140.6L440.1,142.1L443.7,142.9L441.4,143.6ZM438.6,140.9L438.8,137.8L439.4,135.0L436.7,133.4L434.6,135.4L431.8,137.8L430.9,142.1L435.0,142.0ZM412.7,112.1L411.2,108.5L414.6,106.2L417.8,106.3L421.0,105.6L424.1,106.2L426.3,108.6L427.8,109.9L425.2,111.4L422.1,112.6L419.0,113.4L415.9,112.8ZM464.4,77.0L466.5,79.1L469.6,79.6L471.8,81.8L474.8,80.0L478.3,79.5L480.5,77.8L483.0,76.7L485.5,75.7L482.1,72.5L479.1,72.4L476.1,73.1L473.0,72.9L470.1,73.9L467.0,73.3L464.0,74.0ZM527.0,93.4L529.4,94.6L532.1,94.7L535.6,94.4L533.2,91.7L531.0,89.0L532.0,85.2L533.6,83.1L535.8,81.8L538.1,80.2L540.9,80.2L543.3,79.2L538.5,79.0L535.4,81.2L531.7,81.7L530.1,83.9L527.6,85.4L527.7,89.1ZM569.4,71.7L573.0,72.5L576.5,73.5L579.8,72.8L583.1,72.1L585.8,70.7L582.5,70.1L579.4,68.8L576.2,68.0L572.5,68.0L568.9,68.3ZM635.6,77.3L638.6,77.0L641.5,76.8L644.4,76.4L647.9,75.2L651.5,74.5L648.0,73.7L644.4,73.4L641.9,74.0L639.3,74.3L636.7,74.9ZM708.4,142.9L709.5,140.6L707.4,137.5L704.7,135.3L705.8,134.6L703.9,131.7L700.8,130.2L699.2,127.8L697.7,125.2L693.4,122.4L696.0,124.7L697.2,128.0L699.2,130.4L700.5,133.3L702.9,135.4L704.5,138.1L706.5,140.4ZM473.7,175.5L476.2,177.0L479.1,177.7L479.8,174.7L475.6,174.9ZM465.8,173.0L468.1,172.5L468.3,168.1L465.5,168.1ZM466.0,167.2L467.8,165.6L467.3,163.2L466.0,164.7ZM495.8,181.7L498.5,182.1L501.3,181.9L497.8,182.3ZM513.3,182.8L517.5,180.4L515.6,182.8ZM616.8,242.8L618.9,245.9L621.6,248.6L619.8,252.5L617.3,251.2L616.6,248.4L617.0,245.6ZM705.3,175.4L706.9,171.9L710.4,171.0L712.9,170.1L713.2,166.8L715.0,164.6L715.8,161.5L713.6,157.4L713.1,155.3L715.3,154.9L717.3,156.8L718.6,159.3L719.1,162.7L719.9,165.6L721.4,168.0L722.5,170.0L721.5,171.6L720.0,172.0L719.0,173.2L716.4,173.3L715.8,175.1L713.5,174.7L711.5,173.3L708.4,175.1ZM704.4,177.2L706.0,176.2L708.9,178.3L709.6,182.6L707.7,183.9L706.2,181.7L704.9,179.5ZM709.3,177.4L711.6,174.9L713.0,175.8L711.2,178.3ZM712.2,154.7L713.9,153.8L717.1,152.8L719.1,149.0L715.0,147.4L712.1,145.6L708.9,144.4L710.1,147.0L711.7,149.2L709.9,150.1L710.6,152.6ZM696.5,200.3L696.2,203.5L696.4,206.7L696.6,208.9L694.5,206.0L694.9,200.9ZM673.4,217.2L676.8,214.8L678.2,216.1L675.7,219.8ZM698.4,218.1L701.8,218.0L701.7,220.7L702.5,223.3L702.4,226.3L702.5,229.2L705.3,230.7L708.0,232.2L706.1,231.4L704.0,230.2L700.4,229.3L698.6,224.8L697.8,221.5ZM705.7,248.2L710.1,245.5L712.3,241.4L714.5,244.5L715.4,248.1L713.2,252.4L710.0,250.1ZM704.5,235.8L706.3,238.7L709.1,240.6L711.5,237.3L709.3,234.0L706.7,234.7ZM695.3,244.9L696.3,242.2L697.8,239.7L699.5,237.4L698.3,241.4ZM679.0,263.7L679.2,267.0L680.4,270.2L680.7,273.0L681.8,275.4L685.3,276.7L687.9,276.8L690.5,277.5L694.1,276.9L694.3,274.2L695.0,271.7L696.2,268.6L697.3,265.7L699.7,265.0L697.6,260.9L697.4,256.1L700.5,253.6L697.9,251.6L695.6,249.1L693.4,251.4L691.8,254.6L689.5,255.7L687.4,259.4L684.6,261.1L683.3,263.4L680.5,262.3ZM649.9,253.2L654.7,254.1L657.1,258.2L660.1,261.1L662.1,262.5L665.7,264.8L666.5,267.8L668.3,270.1L669.8,274.1L672.8,276.0L671.6,279.3L672.2,282.8L669.3,282.9L667.6,280.6L665.1,278.8L664.0,276.2L661.9,274.2L660.9,270.7L658.9,267.7L657.3,263.1L655.1,260.7L652.8,258.5L651.0,256.0ZM670.4,285.2L672.3,283.4L676.9,284.3L681.3,286.0L683.9,284.6L686.3,285.9L689.9,288.3L689.7,290.6L687.1,290.1L684.5,289.5L680.4,288.7L677.7,287.8L673.1,287.1ZM690.8,289.5L695.0,289.3L699.1,290.4L702.3,290.4L705.4,290.6L709.6,289.8L712.8,290.2L715.9,290.1L713.8,291.9L711.4,293.2L708.0,295.2L704.4,294.9L700.7,294.5L698.3,292.7L695.3,292.8L692.8,291.4ZM700.9,282.4L701.3,279.5L703.0,277.1L703.2,274.3L704.4,270.9L707.8,269.7L709.3,267.4L711.4,265.8L712.9,263.6L710.7,266.4L707.0,266.5L703.3,265.9L702.0,267.6L701.0,270.7L700.9,273.9L700.0,277.0L700.0,279.7ZM704.4,270.8L704.7,273.8L705.2,276.7L705.2,279.7L707.2,281.9L708.7,279.7L705.9,275.6L709.0,271.6ZM718.1,262.1L720.3,264.9L719.2,269.7L718.1,267.6L718.5,264.9ZM719.0,275.9L721.9,276.7L724.8,277.5L722.1,277.1ZM725.4,270.3L728.6,268.7L732.2,270.1L732.8,273.4L733.8,276.8L736.4,274.2L739.2,271.6L741.4,273.1L744.2,273.3L746.5,274.8L748.6,276.5L751.4,276.7L753.6,278.3L756.1,282.6L759.4,285.2L759.0,288.9L760.8,293.1L762.5,295.3L763.5,297.9L759.3,296.5L756.6,292.5L755.0,290.1L752.5,289.1L750.3,293.0L748.0,293.7L744.6,292.9L741.1,290.2L739.1,290.7L739.6,287.1L738.9,282.7L735.6,280.4L731.9,278.4L729.2,279.0L727.5,275.4L730.6,274.5L728.4,272.0ZM761.3,283.5L766.1,282.0L769.3,279.7L768.0,283.4L764.7,285.4ZM747.5,297.6L748.8,301.3L748.5,304.1L748.0,306.8L751.1,309.8L750.5,314.0L749.9,317.5L750.3,321.0L754.1,324.7L753.9,328.0L753.8,331.3L755.1,334.1L755.9,337.1L758.5,340.3L756.9,342.8L755.8,345.7L755.1,348.9L754.0,352.6L751.1,355.1L748.6,358.7L745.9,360.3L744.1,362.9L741.1,364.7L739.4,367.6L737.4,369.5L736.4,372.2L732.3,372.4L730.0,374.1L727.3,375.2L726.6,372.1L722.7,374.0L719.0,371.9L718.2,369.2L719.3,365.0L717.3,364.7L719.4,361.9L720.1,357.3L718.0,360.5L716.4,362.5L714.6,364.1L713.6,362.2L714.0,357.7L712.9,356.6L710.5,354.9L708.6,352.8L705.5,353.7L702.2,353.4L698.2,354.2L695.3,356.1L692.5,358.0L687.8,357.3L685.6,358.7L682.9,359.0L680.5,360.1L675.9,359.2L675.0,357.7L677.1,355.0L678.7,350.6L678.5,348.0L679.1,345.3L677.9,342.8L679.0,340.0L678.8,336.0L681.2,332.2L681.2,328.3L682.2,325.8L684.1,325.2L686.6,323.9L689.0,322.2L693.0,321.6L695.8,320.8L698.4,319.6L700.6,317.2L702.4,314.6L705.4,312.0L707.9,309.3L710.6,306.9L713.5,305.2L715.5,307.9L718.5,308.1L720.5,305.1L721.3,301.6L724.1,301.2L726.6,299.0L729.4,300.2L732.3,301.2L734.8,301.6L732.8,304.9L730.8,309.0L734.3,312.4L737.7,316.4L740.4,316.0L741.5,312.6L743.3,309.4L744.4,306.1L744.7,302.5L746.5,300.3ZM721.9,379.4L725.0,379.6L728.0,380.6L725.7,383.5L723.5,386.4L720.2,387.2L720.4,383.6ZM782.6,369.0L783.3,372.8L781.8,376.2L783.0,377.6L786.4,379.5L784.5,381.3L782.6,383.1L778.6,386.0L775.6,386.7L772.8,388.1L775.6,384.2L775.4,382.3L777.0,380.1L779.4,378.7L781.1,376.6L781.7,374.0L782.1,371.4ZM771.2,385.5L771.2,389.1L769.3,391.7L766.2,392.8L763.8,394.2L760.1,395.4L757.9,397.0L756.1,399.0L752.1,400.2L749.4,398.2L752.2,395.6L756.9,393.7L759.7,391.6L763.2,391.1L765.2,389.1L767.9,388.1ZM785.2,326.9L786.7,330.4L789.0,333.5L788.2,332.9L786.5,330.0ZM371.2,65.3L373.9,65.6L376.6,65.2L379.2,64.8L381.9,65.8L384.6,65.1L387.3,64.9L390.0,65.2L392.6,64.3L395.5,65.2L398.4,64.4L401.3,64.3L404.2,64.4L407.1,64.0L410.0,64.5L412.9,64.2L415.5,64.5L417.9,65.7L420.6,65.4L423.1,66.6L425.9,67.1L428.7,67.9L431.4,68.9L434.4,69.7L431.2,69.9L428.3,71.1L425.1,71.4L423.9,75.2L422.0,78.5L421.2,81.6L419.2,84.0L418.8,87.2L417.1,89.9L415.1,92.2L413.3,94.8L410.9,96.9L408.5,98.5L405.7,99.2L403.2,100.5L400.7,101.9L397.8,102.5L395.6,104.5L392.6,105.0L390.6,107.3L387.8,109.1L385.4,111.6L382.3,113.1L380.3,115.3L378.9,118.0L377.4,120.2L374.1,119.7L371.2,118.3L369.0,116.0L368.7,112.8L367.1,110.2L367.6,106.8L366.8,103.4L367.6,100.0L367.8,97.3L367.2,94.5L368.2,91.8L367.0,89.2L366.3,86.5L366.1,83.7L363.8,80.9L360.9,78.7L356.5,76.5L360.5,74.4L364.0,73.4L367.1,71.5L369.7,68.8ZM240.0,467.5L243.1,465.3L246.4,463.3L249.4,461.2L252.9,460.4L255.6,459.0L258.6,458.6L261.7,458.2L264.3,456.6L267.3,456.1L270.0,454.6L272.7,454.9L275.4,454.6L278.0,453.6L280.7,453.8L283.7,453.0L286.7,453.6L289.7,453.2L292.7,452.9L295.7,453.2L297.5,451.0L300.2,450.1L302.2,448.0L305.1,448.4L307.8,449.7L310.7,449.6L314.0,450.1L317.1,448.3L320.4,448.7L323.6,448.0L326.3,447.7L328.9,447.7L331.6,447.5L334.3,447.5L336.9,447.0L339.6,447.3L342.3,447.5L345.0,447.2L349.3,445.1L345.8,443.0L341.8,442.9L342.9,440.3L344.0,437.7L344.4,434.8L345.2,432.2L347.0,430.3L348.4,427.9L350.3,426.0L351.5,423.5L355.7,424.5L355.0,427.5L352.8,429.5L351.4,432.1L349.5,435.2L348.4,438.5L350.7,441.5L353.7,443.8L356.1,446.2L359.3,447.5L362.1,449.1L359.5,451.0L356.4,452.1L353.6,453.6L350.8,454.9L347.9,455.8L345.1,456.8L347.2,461.1L349.9,462.9L352.6,464.5L355.8,465.3L359.0,465.4L362.2,465.4L365.4,466.5L368.6,466.4L371.7,467.8L374.9,468.5L378.6,467.0L381.5,464.3L384.0,463.0L385.7,460.7L387.9,459.0L390.1,461.1L392.3,463.3L389.8,464.5L387.9,466.3L390.9,466.5L393.9,465.9L396.9,466.2L399.9,467.0L402.9,466.3L406.2,464.4L409.5,462.0L405.7,460.8L402.9,457.9L405.7,456.7L408.6,455.6L411.6,454.9L414.1,453.8L416.8,453.4L419.4,452.6L421.7,450.8L424.6,450.5L425.7,447.1L428.3,446.4L430.7,445.3L433.0,443.7L435.6,443.0L437.9,441.4L440.2,440.2L443.0,440.6L445.8,440.4L448.6,440.7L451.4,440.0L454.3,440.3L457.1,439.6L460.0,439.2L462.9,439.8L465.7,438.5L468.6,438.8L471.4,438.3L474.3,438.1L477.2,438.2L480.0,437.6L482.8,438.2L485.6,437.7L488.4,437.6L491.3,438.2L494.1,437.1L496.9,437.8L499.7,437.4L502.9,436.3L506.0,435.0L508.7,434.7L511.4,434.4L513.8,433.0L516.7,433.6L519.3,433.0L521.8,431.7L524.6,432.0L527.1,430.9L529.7,430.5L532.4,430.3L535.0,429.4L538.3,430.4L541.6,431.2L544.7,432.9L548.0,432.8L551.0,434.3L554.4,434.3L552.5,437.3L552.5,440.9L551.1,444.2L553.5,442.8L556.0,441.7L558.6,440.8L560.8,439.1L563.7,439.0L566.3,438.1L569.0,437.3L571.8,437.0L574.4,435.4L577.3,435.6L580.0,435.1L582.7,434.3L585.4,435.3L588.0,434.5L590.7,435.1L593.4,435.6L596.1,434.4L598.8,435.3L601.5,434.6L604.2,434.9L606.8,435.8L609.5,434.8L612.2,435.2L614.7,435.9L617.4,435.8L619.8,437.1L622.5,436.7L625.0,437.6L627.7,438.2L630.4,437.0L633.0,437.9L635.7,438.0L638.4,437.6L641.1,438.5L643.8,437.7L646.5,437.8L649.1,438.4L651.8,437.3L654.5,438.2L657.2,438.2L659.5,440.1L662.2,441.3L664.9,442.5L667.0,444.8L670.1,445.4L671.9,447.5L673.9,449.3L676.5,450.3L678.7,452.5L681.7,452.9L684.0,454.8L687.0,455.2L689.4,456.9L686.2,458.3L683.0,460.0L680.2,459.7L677.9,461.5L675.1,461.3L672.6,462.4L670.2,463.5L667.3,463.1L665.1,465.1L662.4,465.4L659.7,465.3L657.2,466.5L654.2,467.7L652.3,470.4L649.6,472.0L647.6,474.5L649.7,476.1L651.5,478.1L654.0,479.3L641.0,485.8L259.0,485.8Z"/><path id="waterp" d="M537.9,158.4L538.2,154.8L541.5,153.2L545.8,152.0L548.7,154.3L548.6,155.9L545.5,158.1L547.4,161.2L549.7,164.1L550.6,166.6L551.6,169.0L552.6,172.3L554.6,174.9L551.9,176.0L549.2,177.2L545.1,175.4L544.7,171.7L545.1,168.3L543.4,166.3L541.4,164.6L539.8,161.9ZM505.1,167.5L503.0,166.3L502.9,164.1L502.4,162.3L503.5,160.4L505.4,158.0L506.7,154.2L508.7,154.3L512.1,155.4L510.3,156.6L512.6,159.1L515.3,158.1L517.9,157.0L520.6,158.3L524.7,160.9L527.4,162.3L529.0,165.7L525.6,167.4L521.4,167.5L519.0,166.7L516.3,164.9L513.1,165.1L509.8,166.8ZM515.2,156.5L514.7,154.6L517.4,153.6L520.1,153.0L522.3,152.3L520.3,154.8L518.1,156.7ZM500.9,169.2L505.4,169.2L505.6,168.0L502.4,167.8Z"/><path id="coastp" d="M286.7,76.6L290.2,76.7L293.8,76.4L294.3,73.3L291.6,74.3L288.8,74.0L286.0,74.7ZM309.8,79.8L312.5,79.9L315.2,80.0L317.0,77.2L313.8,77.5L310.6,77.6ZM315.6,82.1L319.4,81.9L319.5,80.1L316.2,80.5ZM299.7,95.1L302.4,94.7L305.3,95.2L306.0,93.1L301.8,93.4ZM322.5,75.0L325.3,75.0L328.1,75.0L330.9,74.8L333.2,72.8L335.6,70.8L333.2,67.7L330.6,67.8L328.0,68.7L325.4,69.2L324.3,72.3ZM310.8,74.5L313.5,74.4L316.4,74.5L317.2,72.3L314.2,72.0L311.3,72.7ZM318.7,75.5L322.0,74.8L323.1,73.0L319.9,73.5ZM333.5,88.0L336.4,88.2L339.4,88.1L339.2,86.1L336.6,86.0L334.0,86.1ZM312.9,112.4L317.4,111.8L315.7,110.3ZM196.7,91.2L199.9,91.2L202.8,89.9L205.9,89.2L206.4,86.2L209.0,85.5L211.7,85.2L214.2,84.4L216.8,84.0L219.6,84.2L221.9,82.3L224.7,82.8L227.2,81.5L231.7,83.6L235.6,85.1L239.0,87.2L242.9,87.7L245.2,89.8L248.1,89.7L252.3,89.0L255.5,88.5L258.7,88.6L262.4,87.9L265.4,90.9L268.4,91.4L271.0,93.0L274.2,92.7L278.6,94.8L281.9,95.1L285.2,96.1L288.2,95.4L291.2,96.2L293.9,96.6L296.7,96.9L299.4,97.5L304.2,97.2L306.0,95.2L307.7,93.2L309.7,91.4L311.8,89.5L312.0,92.6L312.5,95.5L316.8,97.3L319.3,95.9L321.6,94.6L325.9,96.0L324.2,98.3L321.9,99.9L320.5,102.5L317.9,101.4L315.1,102.0L313.2,104.0L311.0,105.6L308.5,107.0L305.6,107.3L303.2,109.2L300.6,111.0L297.9,112.7L295.3,114.5L292.7,116.5L290.9,119.4L291.4,123.9L294.6,125.0L297.9,126.2L301.8,129.0L306.3,129.7L304.9,132.1L304.4,134.8L305.4,138.7L307.5,138.8L308.9,136.4L311.0,134.4L311.4,131.4L314.3,129.4L316.7,126.8L319.2,122.5L319.0,119.7L320.1,117.2L322.0,112.4L325.7,113.5L329.5,113.9L331.0,116.2L333.8,116.8L331.9,121.6L334.5,123.3L337.7,121.2L340.7,118.7L340.1,123.1L342.8,126.9L343.7,131.4L345.7,133.2L348.0,134.5L349.3,138.3L349.4,140.6L345.5,142.7L340.7,143.5L337.1,143.6L333.5,143.1L328.9,143.4L326.5,144.5L324.3,146.1L322.0,147.4L319.4,150.3L322.0,148.7L325.8,148.0L329.0,145.9L332.0,146.7L330.5,149.7L328.6,151.1L329.5,153.3L332.1,153.9L334.8,154.7L337.8,154.0L334.9,155.6L330.3,157.1L327.6,157.9L325.2,159.6L325.4,156.6L323.4,156.3L320.8,157.8L317.1,159.0L315.6,161.4L316.1,163.7L313.1,164.4L308.7,165.8L307.7,166.3L307.1,168.4L304.6,170.4L302.9,172.9L300.6,174.8L301.4,177.8L301.4,179.6L297.9,180.5L294.7,182.5L291.1,185.1L288.0,188.2L286.9,190.8L287.2,195.7L287.6,200.0L286.9,202.6L285.8,203.9L284.6,204.1L283.7,201.3L282.8,197.3L283.2,194.4L281.7,191.8L279.0,192.5L276.7,190.3L273.8,190.1L271.1,190.7L270.4,193.7L268.0,193.1L265.2,191.8L262.4,192.5L259.4,192.4L257.0,194.5L254.0,195.8L252.5,200.7L251.1,203.1L250.4,205.7L249.0,210.1L249.6,213.7L251.3,218.2L254.3,220.9L256.9,220.7L259.4,219.9L263.1,217.0L264.0,214.1L268.8,213.1L271.2,213.1L269.5,215.2L269.1,217.9L267.5,220.4L266.9,224.3L265.6,227.1L268.3,227.3L270.8,227.2L274.9,227.8L276.4,229.5L275.0,232.5L275.3,235.9L274.3,239.7L275.7,242.1L278.5,245.3L282.0,243.7L284.8,244.0L287.3,246.2L286.3,249.3L285.0,246.9L282.8,245.2L280.6,247.3L280.3,249.2L277.8,246.5L274.6,246.2L272.5,243.7L269.8,242.1L269.9,239.1L268.9,236.6L266.8,234.8L263.9,233.2L261.4,232.3L258.9,231.7L256.2,227.9L252.2,226.3L248.9,227.3L246.0,225.0L242.4,224.2L240.5,222.1L238.3,220.8L235.6,220.0L233.8,217.2L232.0,214.3L233.7,211.3L232.2,207.1L230.9,204.3L229.2,201.8L227.9,199.5L227.0,197.0L226.5,194.4L224.8,191.5L224.7,188.6L225.0,185.5L222.1,183.9L221.0,188.6L222.1,191.8L222.8,196.1L223.7,199.9L225.1,204.4L225.1,207.5L223.6,205.9L222.0,202.4L222.4,199.3L220.4,197.1L218.4,194.3L220.6,192.2L218.8,187.7L218.6,183.7L218.3,181.3L217.3,177.7L213.8,176.2L213.7,172.2L213.7,167.4L212.9,164.1L213.6,160.5L215.8,156.3L218.4,152.6L219.8,150.4L220.4,147.7L222.5,145.8L223.3,143.0L224.3,140.2L227.1,141.0L228.2,138.4L226.3,136.2L223.3,133.7L224.8,130.7L225.5,127.6L226.0,124.3L225.3,121.6L225.0,118.9L223.1,114.8L222.6,112.7L220.8,110.1L217.1,108.7L214.0,106.9L210.0,106.6L209.7,104.7L205.7,105.8L202.3,108.8L198.5,108.7L195.0,112.3L191.7,113.6L188.2,114.5L184.3,115.0L181.1,115.6L178.0,116.5L174.9,117.1L171.7,117.1L176.4,115.3L179.4,114.6L182.3,113.9L185.5,112.4L188.6,110.9L191.4,110.6L193.3,108.7L190.1,108.7L186.5,107.7L189.0,104.6L187.4,103.0L189.8,100.0L194.1,97.5L198.7,96.8L202.8,95.2L200.2,94.8L197.3,94.4L196.3,93.7ZM177.7,115.7L174.8,116.5L171.8,116.4L169.0,117.3L166.0,117.5L163.2,118.3L166.1,117.3L169.1,117.7L172.0,116.6L175.0,116.7ZM352.8,103.8L349.8,105.3L347.3,107.6L345.0,109.8L342.7,112.1L338.7,113.8L335.7,113.3L332.9,112.0L330.2,107.8L326.5,105.6L329.8,104.6L332.1,101.6L335.6,100.7L332.2,97.0L330.8,94.5L327.8,95.0L324.8,94.5L321.7,94.5L319.3,92.9L317.0,91.1L319.4,87.2L322.3,86.8L325.1,85.8L328.1,86.5L331.4,85.8L334.5,86.5L338.9,88.7L340.7,91.0L343.2,92.6L346.8,95.3L346.6,98.9L349.2,100.8L351.9,102.4ZM326.5,78.3L329.5,78.7L332.5,78.9L335.4,79.2L339.2,78.7L343.0,78.5L346.2,76.3L349.3,74.1L352.5,73.4L355.8,72.7L358.8,71.4L361.6,71.5L363.8,69.7L366.6,69.7L369.1,68.7L371.6,67.5L369.4,65.0L366.3,65.4L363.3,64.9L360.2,65.8L357.3,64.9L354.6,65.3L352.0,66.3L349.1,65.0L346.5,66.2L343.8,65.9L341.1,66.9L338.4,67.8L335.3,67.2L332.7,68.4L334.6,72.0L337.5,75.0L334.7,75.5L332.1,77.0L329.2,77.3ZM272.7,91.9L275.2,93.0L278.0,93.3L280.6,94.1L283.8,93.6L287.0,93.3L290.2,93.8L293.8,93.2L297.5,93.0L301.1,89.9L299.5,85.6L295.9,84.0L292.2,83.9L288.5,84.2L284.7,84.4L280.8,84.4L278.6,86.5L275.8,87.7L274.6,90.2ZM269.2,85.0L272.1,85.6L274.8,86.8L278.2,85.0L281.9,84.1L282.5,80.9L279.8,80.3L276.9,80.1L274.5,81.7L271.8,82.6ZM320.3,82.5L324.1,82.9L327.9,83.5L330.7,83.9L333.5,83.9L336.4,83.9L338.5,79.9L335.8,79.1L333.0,79.4L330.3,79.3L327.6,78.5L324.4,79.6L321.1,80.0L317.8,80.4ZM287.7,79.4L290.7,79.1L293.7,79.7L296.6,80.2L299.6,80.6L302.6,80.8L306.6,78.1L303.6,77.4L300.9,76.2L297.9,76.4L295.0,76.7L292.1,76.8ZM311.4,88.0L316.0,88.6L319.0,86.8L321.5,84.5L316.4,83.6L313.1,86.1ZM298.7,89.1L302.2,89.5L305.4,90.8L308.3,89.2L310.7,87.0L308.7,84.2L305.6,85.5L302.4,85.8ZM310.0,107.8L312.3,109.0L314.8,109.8L317.2,110.8L320.4,108.0L318.3,103.5L313.6,104.3ZM340.1,150.2L343.1,149.7L346.1,150.3L348.5,151.8L351.1,152.6L352.6,149.5L351.8,145.5L348.4,144.4L348.9,140.4L345.7,143.2L343.8,145.4L342.1,147.8ZM275.2,212.0L279.7,209.6L282.8,209.1L285.8,209.2L288.3,210.4L290.6,212.2L293.9,214.1L296.7,216.4L293.3,217.5L289.8,217.4L287.3,215.4L285.4,212.9L281.5,211.3L278.3,211.4ZM295.6,221.3L298.1,219.9L300.0,217.7L305.1,218.3L308.3,221.4L305.3,221.7L302.5,222.6L299.1,222.1ZM287.6,221.3L291.8,222.2L290.1,222.7ZM310.5,221.4L313.8,222.1L310.7,222.9ZM130.6,207.5L131.3,211.5L129.2,213.2L129.6,210.3ZM287.2,246.0L290.1,243.6L291.3,241.3L294.3,239.6L297.9,238.0L300.1,236.8L299.6,239.9L303.3,237.7L306.0,241.3L309.2,241.2L312.3,241.4L315.5,241.2L319.9,240.9L320.5,243.8L321.5,246.5L325.6,248.3L327.7,250.6L330.6,252.3L333.8,253.0L336.2,255.2L339.5,255.4L342.1,257.3L343.5,260.1L344.1,263.1L343.3,266.8L347.3,270.2L350.0,269.5L352.5,270.2L356.2,273.6L361.1,274.5L365.2,274.8L368.5,276.7L371.6,279.4L375.7,281.0L375.7,284.1L376.4,287.2L374.4,291.0L371.5,294.9L369.1,299.4L368.3,302.4L368.4,305.6L368.4,310.5L367.4,315.4L366.3,317.3L365.3,321.5L363.5,323.8L361.1,324.2L357.8,325.1L354.9,326.6L352.6,329.5L351.1,332.8L351.0,337.7L350.1,340.4L348.3,342.7L345.7,346.9L343.7,350.8L341.3,353.8L338.9,353.8L336.1,353.1L334.2,353.4L337.2,355.3L338.4,357.3L337.8,361.5L333.4,363.8L329.1,364.1L330.0,368.0L325.1,369.5L327.1,371.2L329.0,373.0L327.2,374.8L327.3,379.1L324.0,381.8L326.1,384.1L328.4,386.2L326.3,390.4L325.5,393.0L325.7,395.8L327.4,397.7L324.2,398.8L324.3,401.1L321.3,400.7L316.9,398.4L314.5,395.6L312.8,392.4L311.4,390.1L311.2,387.5L311.2,383.7L311.2,380.0L311.6,376.3L309.2,372.6L308.0,370.0L308.3,367.1L307.2,364.3L306.8,361.4L307.2,356.4L307.8,353.3L307.6,350.1L306.8,346.4L306.3,342.6L306.2,338.9L305.3,335.2L306.0,332.3L305.2,329.5L305.7,326.6L305.6,323.4L305.2,320.1L304.8,317.0L304.1,313.9L302.8,311.4L300.2,310.3L298.2,308.3L296.1,306.7L293.5,305.8L290.1,302.5L288.5,297.8L286.2,295.0L285.0,291.6L283.4,288.6L282.7,285.2L280.5,282.8L278.5,280.3L279.0,277.7L281.1,275.2L280.1,272.6L278.8,270.1L281.1,266.4L282.1,263.8L284.1,261.3L286.5,257.8L286.6,255.1L286.4,252.5L286.3,249.5ZM327.3,398.1L330.1,399.7L332.7,401.3L335.2,403.1L332.3,405.2L327.3,404.5L323.0,402.6L325.3,400.5ZM438.2,180.8L436.6,183.9L434.5,186.1L431.0,188.7L430.1,193.7L429.0,196.9L426.3,198.9L423.3,200.2L421.9,202.5L419.9,204.4L418.8,207.2L416.7,209.3L415.8,211.8L415.1,214.5L414.4,217.0L415.9,221.4L416.5,223.9L415.1,228.7L413.0,231.9L414.3,235.3L415.5,239.5L418.0,241.4L420.9,244.5L421.7,247.1L424.4,249.7L426.3,251.2L429.4,254.4L433.7,256.8L437.9,255.5L441.2,254.5L445.3,256.0L449.5,254.0L453.7,252.3L456.6,252.1L460.2,253.4L462.2,257.4L465.3,256.8L467.4,256.4L469.2,258.4L470.3,261.6L469.1,265.1L467.8,269.1L469.4,272.5L471.4,274.5L473.1,276.8L474.8,279.2L475.3,282.2L476.9,285.8L477.1,289.0L478.3,293.6L477.4,298.2L475.6,301.1L474.6,303.7L474.1,306.5L473.8,310.2L474.8,312.6L476.0,314.9L476.3,317.7L478.3,319.8L479.4,322.3L479.1,323.5L479.4,327.1L479.9,330.8L480.3,332.2L481.7,334.5L482.9,337.1L484.1,341.7L486.0,346.6L485.9,350.3L487.9,351.9L489.0,352.2L493.0,350.5L496.6,350.3L500.2,350.4L502.5,348.8L505.2,348.1L507.9,345.7L510.7,343.3L511.6,340.4L514.9,337.2L515.4,334.1L515.8,331.1L516.6,329.3L519.4,327.9L521.8,326.3L522.0,321.4L521.4,318.7L521.3,316.0L523.9,313.9L526.1,311.3L528.9,310.5L530.5,308.0L532.4,306.2L534.5,304.4L533.8,301.6L534.8,298.9L534.8,296.1L534.2,293.4L533.5,290.2L532.2,287.2L532.1,284.3L531.2,281.0L533.0,277.4L534.7,273.7L537.0,271.7L540.2,267.7L542.2,264.8L545.0,262.8L546.4,260.0L548.3,257.7L550.4,255.3L550.8,252.5L553.1,250.5L553.8,247.9L554.4,245.2L556.0,243.0L556.8,241.9L556.8,238.5L553.9,239.3L551.0,239.9L548.3,240.1L545.8,241.3L543.8,242.0L540.6,239.8L539.5,239.2L538.8,236.4L535.9,233.9L534.3,231.2L531.8,229.3L531.0,226.2L529.2,223.6L526.6,219.6L525.8,216.7L525.1,213.6L521.9,209.5L520.7,205.8L518.5,202.6L517.3,199.2L515.2,194.6L514.0,191.4L511.0,191.0L509.3,191.4L506.4,191.8L503.5,191.3L499.8,190.5L497.4,189.4L494.3,188.0L490.4,188.6L489.3,189.5L488.6,192.8L486.7,193.9L482.6,191.7L479.7,189.1L475.7,187.7L472.4,186.9L469.6,185.4L470.8,183.1L470.9,178.5L469.4,177.4L468.6,176.9L465.1,177.6L460.3,178.6L455.4,178.2L451.5,179.2L448.3,181.0L445.2,182.3L441.6,181.9ZM552.4,297.2L552.9,300.1L553.5,303.0L554.8,305.9L553.0,309.5L551.7,311.9L551.7,314.7L549.8,316.8L549.2,320.7L547.3,324.1L546.5,326.7L545.2,328.9L541.0,330.2L540.1,327.7L538.7,325.3L538.9,321.1L539.6,318.1L541.1,315.5L541.5,312.6L540.5,309.7L542.0,307.5L546.0,305.8L548.0,303.8L549.6,301.5L550.9,299.3ZM438.6,180.2L437.1,179.1L434.8,177.2L431.6,177.8L432.4,174.2L431.2,173.7L432.1,170.5L433.0,167.8L432.6,164.9L431.7,163.1L433.6,162.4L438.1,161.7L440.9,162.6L443.8,162.2L446.7,162.1L447.2,158.4L447.4,155.4L445.5,153.3L443.0,151.9L441.1,150.4L444.0,149.2L445.7,149.7L446.5,147.3L449.6,147.4L452.3,145.8L453.0,144.0L454.8,142.9L456.7,141.9L457.7,140.3L458.4,138.5L462.0,137.8L464.7,136.6L464.5,133.2L463.7,130.5L464.3,128.8L467.8,127.6L467.3,130.6L468.4,131.7L467.1,134.1L467.5,135.7L469.0,136.6L470.8,136.0L475.2,136.5L478.7,135.3L482.3,135.3L484.8,134.2L486.2,132.2L486.6,128.4L488.2,127.7L490.8,129.0L491.2,125.7L489.4,123.6L491.4,122.9L494.2,122.9L496.9,122.7L500.5,121.7L498.3,121.2L494.1,120.6L491.6,121.2L488.0,122.0L487.0,120.6L485.1,119.4L485.0,114.3L486.8,112.4L490.4,109.5L487.8,107.8L484.6,108.2L483.8,110.4L482.5,112.5L480.0,115.1L478.3,116.0L478.2,119.6L480.9,121.3L481.4,123.5L478.4,126.7L478.1,129.1L476.6,130.9L474.4,132.8L472.2,132.7L471.4,130.4L470.0,127.5L468.6,124.1L467.3,123.2L465.7,124.5L463.3,126.5L460.5,126.5L459.3,124.4L458.2,121.1L457.9,117.4L461.9,114.9L466.5,113.7L466.4,111.0L469.4,107.8L472.3,104.3L473.4,101.3L476.3,99.4L478.5,98.2L481.4,97.3L485.0,96.1L488.2,94.7L491.5,94.9L495.2,97.9L500.0,98.6L504.8,99.5L508.2,101.0L511.9,102.1L514.2,104.9L512.1,106.0L508.1,106.0L505.1,107.3L505.2,110.4L508.8,111.6L510.5,110.4L514.9,110.2L513.2,107.2L515.9,105.6L519.2,105.9L518.3,101.4L516.6,100.0L520.7,101.1L524.1,101.7L527.1,101.4L529.8,100.8L532.5,100.1L535.1,99.9L538.4,98.7L540.9,97.2L541.5,95.8L545.4,97.4L548.6,97.3L552.4,99.0L555.1,99.5L554.9,97.8L551.9,95.0L549.1,93.5L549.2,91.6L549.8,88.7L552.1,88.0L554.5,90.3L557.6,92.6L559.4,95.8L561.3,99.7L564.2,100.7L563.7,97.6L560.5,95.6L558.4,91.9L559.5,89.5L561.8,88.9L563.9,88.8L566.3,88.3L565.2,85.8L567.9,86.0L570.5,85.1L573.2,85.0L571.0,83.4L571.5,81.9L574.0,81.0L576.5,80.3L578.9,79.3L581.9,79.1L584.5,77.8L586.7,76.4L588.9,74.7L593.0,75.8L595.6,77.1L599.1,77.4L602.5,78.0L605.0,77.9L606.3,80.7L608.8,82.3L611.7,82.7L616.8,82.1L620.0,82.2L623.1,81.6L627.8,81.7L630.4,82.6L632.9,83.4L637.0,86.2L639.6,85.2L640.7,85.0L644.4,84.3L647.2,82.4L648.0,81.2L651.1,81.4L654.2,81.6L658.1,81.8L662.0,81.6L664.9,82.1L667.6,83.4L670.4,82.5L673.3,82.4L678.1,83.0L682.6,84.3L687.0,83.9L690.1,82.9L692.3,81.8L696.2,81.7L699.8,81.4L703.6,81.2L707.3,82.2L709.9,82.9L712.1,84.5L713.8,86.7L716.3,87.5L718.4,89.2L718.4,91.1L721.3,92.7L723.2,95.4L720.7,97.7L720.6,102.2L718.0,103.5L715.2,103.9L714.1,104.8L711.9,104.8L714.4,109.2L717.2,111.7L720.6,113.4L720.9,115.8L721.5,118.4L722.7,120.8L722.4,123.1L722.8,127.2L720.4,124.4L717.3,122.5L715.4,120.2L713.1,118.4L710.8,116.4L709.0,114.2L708.1,111.3L709.1,109.8L708.6,106.7L706.8,104.1L706.5,100.9L705.9,103.2L701.7,101.6L698.5,102.5L698.4,105.2L699.5,107.7L695.3,108.2L690.9,109.4L686.5,109.8L683.6,110.4L682.9,114.4L683.6,117.2L683.4,120.2L684.3,122.9L688.3,123.6L691.3,123.6L693.6,125.3L696.1,129.4L697.2,132.2L699.4,134.5L699.2,137.9L700.7,141.1L700.3,144.5L700.6,147.9L698.7,152.6L695.2,152.3L694.0,154.0L694.6,158.0L693.0,161.3L695.5,164.6L698.8,167.5L700.6,170.9L700.6,173.2L698.3,174.6L696.0,174.8L694.9,171.4L693.1,167.3L690.5,167.1L689.1,165.2L687.2,162.3L684.4,161.9L681.9,160.5L682.1,164.7L681.2,161.8L679.1,159.7L677.0,164.0L675.4,165.0L676.1,166.9L679.0,169.3L682.5,167.6L686.0,168.4L683.4,172.2L682.7,175.1L685.0,176.7L686.3,179.4L688.0,181.8L691.4,185.0L690.5,186.2L692.8,188.2L693.1,191.2L692.2,193.1L691.8,195.8L691.5,198.5L690.4,201.4L689.5,202.8L687.5,205.9L684.3,207.3L683.1,208.9L680.7,209.4L677.0,211.3L676.4,214.2L674.9,211.3L671.9,211.1L669.0,213.3L667.7,218.1L669.7,220.5L672.2,223.6L674.1,225.6L675.2,229.1L677.2,232.1L677.6,235.5L676.9,238.3L673.6,240.1L672.7,242.7L669.3,245.1L669.3,240.9L666.0,240.0L664.8,237.7L662.8,236.0L661.4,234.5L659.8,233.3L658.5,233.1L658.1,236.0L657.2,238.8L657.4,241.6L658.8,243.8L660.4,246.7L662.3,249.7L664.4,251.7L666.8,255.9L667.0,257.7L667.4,260.8L668.9,263.3L667.5,264.2L664.9,261.7L662.7,259.8L661.3,255.6L660.4,253.6L660.0,250.8L658.3,248.7L655.8,246.4L655.9,241.7L655.6,236.5L654.2,233.4L653.2,230.1L652.0,227.7L651.8,225.2L650.5,223.7L647.8,227.0L645.8,226.4L644.8,222.3L642.9,218.0L640.8,216.1L638.9,212.5L637.4,210.8L634.8,209.7L632.1,212.1L629.0,212.6L628.1,215.2L626.2,217.5L624.2,219.9L622.1,222.8L620.0,225.3L618.0,228.4L616.6,232.2L617.0,234.4L616.2,238.5L616.7,241.6L614.9,244.0L613.7,245.2L612.0,247.3L609.9,245.2L609.0,242.5L607.4,238.4L605.8,235.1L603.9,230.7L602.3,227.4L600.4,223.0L600.2,219.9L599.5,216.2L598.8,214.7L598.1,211.7L596.5,214.6L594.0,215.1L590.9,211.5L592.8,210.3L589.4,208.6L587.3,207.7L585.9,205.8L583.7,204.2L579.7,204.9L575.7,205.1L572.8,204.8L569.5,204.7L567.2,204.1L565.3,201.5L563.4,200.2L560.0,201.8L557.3,201.1L553.4,198.9L551.9,196.0L549.8,193.8L546.9,193.8L545.9,195.6L547.5,198.6L549.8,201.5L551.3,202.5L552.8,206.0L553.4,203.3L554.6,205.2L554.4,207.5L556.7,208.0L559.6,207.8L562.0,205.0L563.7,202.3L564.6,206.9L567.6,208.8L569.3,209.1L572.1,211.8L570.8,215.4L569.0,217.1L569.0,220.8L566.6,223.3L564.1,224.3L561.6,225.6L558.0,228.6L554.9,230.5L551.7,232.0L547.5,234.3L543.5,236.3L540.5,236.7L540.0,236.7L539.2,234.0L538.7,231.3L538.4,228.7L537.6,226.2L535.7,224.1L534.7,221.5L532.4,218.1L530.0,215.0L528.9,212.6L528.4,209.9L527.1,208.6L525.3,206.4L523.3,203.4L521.4,200.3L519.8,198.0L520.0,195.6L518.9,198.0L519.0,199.8L517.3,198.5L515.0,194.6L514.1,191.2L518.2,191.0L518.8,189.2L519.1,187.0L519.7,184.8L519.9,180.8L519.9,179.1L520.4,178.0L519.0,178.1L517.4,178.0L515.2,179.2L513.2,179.5L509.5,177.5L507.3,179.1L504.1,178.3L503.2,176.2L502.0,174.0L500.8,172.9L499.9,171.4L500.7,169.3L499.5,168.5L495.6,168.4L493.4,169.0L495.2,170.5L493.2,172.1L494.6,174.7L495.7,175.4L494.0,176.8L493.7,178.9L492.0,178.1L491.1,175.6L489.1,172.6L486.8,169.2L486.8,167.2L484.8,164.5L484.0,164.0L480.6,161.9L478.2,160.3L476.6,157.4L475.3,156.8L472.5,157.4L472.6,159.9L475.2,161.7L477.1,165.0L480.2,165.7L481.8,167.9L485.1,170.3L483.8,169.7L482.5,169.4L481.4,171.2L482.7,172.9L481.6,174.3L480.1,175.1L480.1,171.9L479.2,170.4L478.0,169.0L476.8,168.4L474.4,167.4L472.8,166.1L470.9,164.3L469.5,163.5L469.1,162.0L466.2,159.7L463.6,161.2L463.3,161.6L459.7,162.5L457.0,162.2L455.4,163.3L455.6,165.9L453.7,167.2L451.2,168.9L448.9,171.7L449.9,173.8L448.4,174.8L447.6,176.5L444.6,178.3L440.9,178.6ZM191.7,82.2L193.6,85.7L195.8,88.1L195.7,90.3L192.6,90.8L190.1,91.9L187.4,93.0L185.1,91.6L185.0,89.6L180.8,89.3L183.1,88.2L184.9,86.2L187.5,85.3L189.4,83.5ZM439.1,145.8L443.1,145.5L447.7,144.6L452.0,143.4L452.4,141.2L452.5,140.0L449.8,137.8L449.0,135.4L446.7,132.6L445.9,131.0L445.9,128.8L446.4,127.6L442.6,127.8L444.4,125.3L441.1,125.5L438.8,128.1L439.8,130.5L440.0,131.3L439.0,133.1L441.1,133.7L440.7,134.9L444.1,134.7L443.7,136.6L444.1,138.0L441.4,138.3L441.8,140.6L440.1,142.1L443.7,142.9L441.4,143.6ZM438.6,140.9L438.8,137.8L439.4,135.0L436.7,133.4L434.6,135.4L431.8,137.8L430.9,142.1L435.0,142.0ZM412.7,112.1L411.2,108.5L414.6,106.2L417.8,106.3L421.0,105.6L424.1,106.2L426.3,108.6L427.8,109.9L425.2,111.4L422.1,112.6L419.0,113.4L415.9,112.8ZM464.4,77.0L466.5,79.1L469.6,79.6L471.8,81.8L474.8,80.0L478.3,79.5L480.5,77.8L483.0,76.7L485.5,75.7L482.1,72.5L479.1,72.4L476.1,73.1L473.0,72.9L470.1,73.9L467.0,73.3L464.0,74.0ZM527.0,93.4L529.4,94.6L532.1,94.7L535.6,94.4L533.2,91.7L531.0,89.0L532.0,85.2L533.6,83.1L535.8,81.8L538.1,80.2L540.9,80.2L543.3,79.2L538.5,79.0L535.4,81.2L531.7,81.7L530.1,83.9L527.6,85.4L527.7,89.1ZM569.4,71.7L573.0,72.5L576.5,73.5L579.8,72.8L583.1,72.1L585.8,70.7L582.5,70.1L579.4,68.8L576.2,68.0L572.5,68.0L568.9,68.3ZM635.6,77.3L638.6,77.0L641.5,76.8L644.4,76.4L647.9,75.2L651.5,74.5L648.0,73.7L644.4,73.4L641.9,74.0L639.3,74.3L636.7,74.9ZM708.4,142.9L709.5,140.6L707.4,137.5L704.7,135.3L705.8,134.6L703.9,131.7L700.8,130.2L699.2,127.8L697.7,125.2L693.4,122.4L696.0,124.7L697.2,128.0L699.2,130.4L700.5,133.3L702.9,135.4L704.5,138.1L706.5,140.4ZM473.7,175.5L476.2,177.0L479.1,177.7L479.8,174.7L475.6,174.9ZM465.8,173.0L468.1,172.5L468.3,168.1L465.5,168.1ZM466.0,167.2L467.8,165.6L467.3,163.2L466.0,164.7ZM495.8,181.7L498.5,182.1L501.3,181.9L497.8,182.3ZM513.3,182.8L517.5,180.4L515.6,182.8ZM616.8,242.8L618.9,245.9L621.6,248.6L619.8,252.5L617.3,251.2L616.6,248.4L617.0,245.6ZM705.3,175.4L706.9,171.9L710.4,171.0L712.9,170.1L713.2,166.8L715.0,164.6L715.8,161.5L713.6,157.4L713.1,155.3L715.3,154.9L717.3,156.8L718.6,159.3L719.1,162.7L719.9,165.6L721.4,168.0L722.5,170.0L721.5,171.6L720.0,172.0L719.0,173.2L716.4,173.3L715.8,175.1L713.5,174.7L711.5,173.3L708.4,175.1ZM704.4,177.2L706.0,176.2L708.9,178.3L709.6,182.6L707.7,183.9L706.2,181.7L704.9,179.5ZM709.3,177.4L711.6,174.9L713.0,175.8L711.2,178.3ZM712.2,154.7L713.9,153.8L717.1,152.8L719.1,149.0L715.0,147.4L712.1,145.6L708.9,144.4L710.1,147.0L711.7,149.2L709.9,150.1L710.6,152.6ZM696.5,200.3L696.2,203.5L696.4,206.7L696.6,208.9L694.5,206.0L694.9,200.9ZM673.4,217.2L676.8,214.8L678.2,216.1L675.7,219.8ZM698.4,218.1L701.8,218.0L701.7,220.7L702.5,223.3L702.4,226.3L702.5,229.2L705.3,230.7L708.0,232.2L706.1,231.4L704.0,230.2L700.4,229.3L698.6,224.8L697.8,221.5ZM705.7,248.2L710.1,245.5L712.3,241.4L714.5,244.5L715.4,248.1L713.2,252.4L710.0,250.1ZM704.5,235.8L706.3,238.7L709.1,240.6L711.5,237.3L709.3,234.0L706.7,234.7ZM695.3,244.9L696.3,242.2L697.8,239.7L699.5,237.4L698.3,241.4ZM679.0,263.7L679.2,267.0L680.4,270.2L680.7,273.0L681.8,275.4L685.3,276.7L687.9,276.8L690.5,277.5L694.1,276.9L694.3,274.2L695.0,271.7L696.2,268.6L697.3,265.7L699.7,265.0L697.6,260.9L697.4,256.1L700.5,253.6L697.9,251.6L695.6,249.1L693.4,251.4L691.8,254.6L689.5,255.7L687.4,259.4L684.6,261.1L683.3,263.4L680.5,262.3ZM649.9,253.2L654.7,254.1L657.1,258.2L660.1,261.1L662.1,262.5L665.7,264.8L666.5,267.8L668.3,270.1L669.8,274.1L672.8,276.0L671.6,279.3L672.2,282.8L669.3,282.9L667.6,280.6L665.1,278.8L664.0,276.2L661.9,274.2L660.9,270.7L658.9,267.7L657.3,263.1L655.1,260.7L652.8,258.5L651.0,256.0ZM670.4,285.2L672.3,283.4L676.9,284.3L681.3,286.0L683.9,284.6L686.3,285.9L689.9,288.3L689.7,290.6L687.1,290.1L684.5,289.5L680.4,288.7L677.7,287.8L673.1,287.1ZM690.8,289.5L695.0,289.3L699.1,290.4L702.3,290.4L705.4,290.6L709.6,289.8L712.8,290.2L715.9,290.1L713.8,291.9L711.4,293.2L708.0,295.2L704.4,294.9L700.7,294.5L698.3,292.7L695.3,292.8L692.8,291.4ZM700.9,282.4L701.3,279.5L703.0,277.1L703.2,274.3L704.4,270.9L707.8,269.7L709.3,267.4L711.4,265.8L712.9,263.6L710.7,266.4L707.0,266.5L703.3,265.9L702.0,267.6L701.0,270.7L700.9,273.9L700.0,277.0L700.0,279.7ZM704.4,270.8L704.7,273.8L705.2,276.7L705.2,279.7L707.2,281.9L708.7,279.7L705.9,275.6L709.0,271.6ZM718.1,262.1L720.3,264.9L719.2,269.7L718.1,267.6L718.5,264.9ZM719.0,275.9L721.9,276.7L724.8,277.5L722.1,277.1ZM725.4,270.3L728.6,268.7L732.2,270.1L732.8,273.4L733.8,276.8L736.4,274.2L739.2,271.6L741.4,273.1L744.2,273.3L746.5,274.8L748.6,276.5L751.4,276.7L753.6,278.3L756.1,282.6L759.4,285.2L759.0,288.9L760.8,293.1L762.5,295.3L763.5,297.9L759.3,296.5L756.6,292.5L755.0,290.1L752.5,289.1L750.3,293.0L748.0,293.7L744.6,292.9L741.1,290.2L739.1,290.7L739.6,287.1L738.9,282.7L735.6,280.4L731.9,278.4L729.2,279.0L727.5,275.4L730.6,274.5L728.4,272.0ZM761.3,283.5L766.1,282.0L769.3,279.7L768.0,283.4L764.7,285.4ZM747.5,297.6L748.8,301.3L748.5,304.1L748.0,306.8L751.1,309.8L750.5,314.0L749.9,317.5L750.3,321.0L754.1,324.7L753.9,328.0L753.8,331.3L755.1,334.1L755.9,337.1L758.5,340.3L756.9,342.8L755.8,345.7L755.1,348.9L754.0,352.6L751.1,355.1L748.6,358.7L745.9,360.3L744.1,362.9L741.1,364.7L739.4,367.6L737.4,369.5L736.4,372.2L732.3,372.4L730.0,374.1L727.3,375.2L726.6,372.1L722.7,374.0L719.0,371.9L718.2,369.2L719.3,365.0L717.3,364.7L719.4,361.9L720.1,357.3L718.0,360.5L716.4,362.5L714.6,364.1L713.6,362.2L714.0,357.7L712.9,356.6L710.5,354.9L708.6,352.8L705.5,353.7L702.2,353.4L698.2,354.2L695.3,356.1L692.5,358.0L687.8,357.3L685.6,358.7L682.9,359.0L680.5,360.1L675.9,359.2L675.0,357.7L677.1,355.0L678.7,350.6L678.5,348.0L679.1,345.3L677.9,342.8L679.0,340.0L678.8,336.0L681.2,332.2L681.2,328.3L682.2,325.8L684.1,325.2L686.6,323.9L689.0,322.2L693.0,321.6L695.8,320.8L698.4,319.6L700.6,317.2L702.4,314.6L705.4,312.0L707.9,309.3L710.6,306.9L713.5,305.2L715.5,307.9L718.5,308.1L720.5,305.1L721.3,301.6L724.1,301.2L726.6,299.0L729.4,300.2L732.3,301.2L734.8,301.6L732.8,304.9L730.8,309.0L734.3,312.4L737.7,316.4L740.4,316.0L741.5,312.6L743.3,309.4L744.4,306.1L744.7,302.5L746.5,300.3ZM721.9,379.4L725.0,379.6L728.0,380.6L725.7,383.5L723.5,386.4L720.2,387.2L720.4,383.6ZM782.6,369.0L783.3,372.8L781.8,376.2L783.0,377.6L786.4,379.5L784.5,381.3L782.6,383.1L778.6,386.0L775.6,386.7L772.8,388.1L775.6,384.2L775.4,382.3L777.0,380.1L779.4,378.7L781.1,376.6L781.7,374.0L782.1,371.4ZM771.2,385.5L771.2,389.1L769.3,391.7L766.2,392.8L763.8,394.2L760.1,395.4L757.9,397.0L756.1,399.0L752.1,400.2L749.4,398.2L752.2,395.6L756.9,393.7L759.7,391.6L763.2,391.1L765.2,389.1L767.9,388.1ZM785.2,326.9L786.7,330.4L789.0,333.5L788.2,332.9L786.5,330.0ZM371.2,65.3L373.9,65.6L376.6,65.2L379.2,64.8L381.9,65.8L384.6,65.1L387.3,64.9L390.0,65.2L392.6,64.3L395.5,65.2L398.4,64.4L401.3,64.3L404.2,64.4L407.1,64.0L410.0,64.5L412.9,64.2L415.5,64.5L417.9,65.7L420.6,65.4L423.1,66.6L425.9,67.1L428.7,67.9L431.4,68.9L434.4,69.7L431.2,69.9L428.3,71.1L425.1,71.4L423.9,75.2L422.0,78.5L421.2,81.6L419.2,84.0L418.8,87.2L417.1,89.9L415.1,92.2L413.3,94.8L410.9,96.9L408.5,98.5L405.7,99.2L403.2,100.5L400.7,101.9L397.8,102.5L395.6,104.5L392.6,105.0L390.6,107.3L387.8,109.1L385.4,111.6L382.3,113.1L380.3,115.3L378.9,118.0L377.4,120.2L374.1,119.7L371.2,118.3L369.0,116.0L368.7,112.8L367.1,110.2L367.6,106.8L366.8,103.4L367.6,100.0L367.8,97.3L367.2,94.5L368.2,91.8L367.0,89.2L366.3,86.5L366.1,83.7L363.8,80.9L360.9,78.7L356.5,76.5L360.5,74.4L364.0,73.4L367.1,71.5L369.7,68.8ZM240.0,467.5L243.1,465.3L246.4,463.3L249.4,461.2L252.9,460.4L255.6,459.0L258.6,458.6L261.7,458.2L264.3,456.6L267.3,456.1L270.0,454.6L272.7,454.9L275.4,454.6L278.0,453.6L280.7,453.8L283.7,453.0L286.7,453.6L289.7,453.2L292.7,452.9L295.7,453.2L297.5,451.0L300.2,450.1L302.2,448.0L305.1,448.4L307.8,449.7L310.7,449.6L314.0,450.1L317.1,448.3L320.4,448.7L323.6,448.0L326.3,447.7L328.9,447.7L331.6,447.5L334.3,447.5L336.9,447.0L339.6,447.3L342.3,447.5L345.0,447.2L349.3,445.1L345.8,443.0L341.8,442.9L342.9,440.3L344.0,437.7L344.4,434.8L345.2,432.2L347.0,430.3L348.4,427.9L350.3,426.0L351.5,423.5L355.7,424.5L355.0,427.5L352.8,429.5L351.4,432.1L349.5,435.2L348.4,438.5L350.7,441.5L353.7,443.8L356.1,446.2L359.3,447.5L362.1,449.1L359.5,451.0L356.4,452.1L353.6,453.6L350.8,454.9L347.9,455.8L345.1,456.8L347.2,461.1L349.9,462.9L352.6,464.5L355.8,465.3L359.0,465.4L362.2,465.4L365.4,466.5L368.6,466.4L371.7,467.8L374.9,468.5L378.6,467.0L381.5,464.3L384.0,463.0L385.7,460.7L387.9,459.0L390.1,461.1L392.3,463.3L389.8,464.5L387.9,466.3L390.9,466.5L393.9,465.9L396.9,466.2L399.9,467.0L402.9,466.3L406.2,464.4L409.5,462.0L405.7,460.8L402.9,457.9L405.7,456.7L408.6,455.6L411.6,454.9L414.1,453.8L416.8,453.4L419.4,452.6L421.7,450.8L424.6,450.5L425.7,447.1L428.3,446.4L430.7,445.3L433.0,443.7L435.6,443.0L437.9,441.4L440.2,440.2L443.0,440.6L445.8,440.4L448.6,440.7L451.4,440.0L454.3,440.3L457.1,439.6L460.0,439.2L462.9,439.8L465.7,438.5L468.6,438.8L471.4,438.3L474.3,438.1L477.2,438.2L480.0,437.6L482.8,438.2L485.6,437.7L488.4,437.6L491.3,438.2L494.1,437.1L496.9,437.8L499.7,437.4L502.9,436.3L506.0,435.0L508.7,434.7L511.4,434.4L513.8,433.0L516.7,433.6L519.3,433.0L521.8,431.7L524.6,432.0L527.1,430.9L529.7,430.5L532.4,430.3L535.0,429.4L538.3,430.4L541.6,431.2L544.7,432.9L548.0,432.8L551.0,434.3L554.4,434.3L552.5,437.3L552.5,440.9L551.1,444.2L553.5,442.8L556.0,441.7L558.6,440.8L560.8,439.1L563.7,439.0L566.3,438.1L569.0,437.3L571.8,437.0L574.4,435.4L577.3,435.6L580.0,435.1L582.7,434.3L585.4,435.3L588.0,434.5L590.7,435.1L593.4,435.6L596.1,434.4L598.8,435.3L601.5,434.6L604.2,434.9L606.8,435.8L609.5,434.8L612.2,435.2L614.7,435.9L617.4,435.8L619.8,437.1L622.5,436.7L625.0,437.6L627.7,438.2L630.4,437.0L633.0,437.9L635.7,438.0L638.4,437.6L641.1,438.5L643.8,437.7L646.5,437.8L649.1,438.4L651.8,437.3L654.5,438.2L657.2,438.2L659.5,440.1L662.2,441.3L664.9,442.5L667.0,444.8L670.1,445.4L671.9,447.5L673.9,449.3L676.5,450.3L678.7,452.5L681.7,452.9L684.0,454.8L687.0,455.2L689.4,456.9L686.2,458.3L683.0,460.0L680.2,459.7L677.9,461.5L675.1,461.3L672.6,462.4L670.2,463.5L667.3,463.1L665.1,465.1L662.4,465.4L659.7,465.3L657.2,466.5L654.2,467.7L652.3,470.4L649.6,472.0L647.6,474.5L649.7,476.1L651.5,478.1L654.0,479.3M537.9,158.4L538.2,154.8L541.5,153.2L545.8,152.0L548.7,154.3L548.6,155.9L545.5,158.1L547.4,161.2L549.7,164.1L550.6,166.6L551.6,169.0L552.6,172.3L554.6,174.9L551.9,176.0L549.2,177.2L545.1,175.4L544.7,171.7L545.1,168.3L543.4,166.3L541.4,164.6L539.8,161.9ZM505.1,167.5L503.0,166.3L502.9,164.1L502.4,162.3L503.5,160.4L505.4,158.0L506.7,154.2L508.7,154.3L512.1,155.4L510.3,156.6L512.6,159.1L515.3,158.1L517.9,157.0L520.6,158.3L524.7,160.9L527.4,162.3L529.0,165.7L525.6,167.4L521.4,167.5L519.0,166.7L516.3,164.9L513.1,165.1L509.8,166.8ZM515.2,156.5L514.7,154.6L517.4,153.6L520.1,153.0L522.3,152.3L520.3,154.8L518.1,156.7ZM500.9,169.2L505.4,169.2L505.6,168.0L502.4,167.8Z"/><clipPath id="landclip"><use href="#landp"/></clipPath></defs>
<use href="#landp" fill="#f1f1f1"/><use href="#gratp" fill="none" stroke="#bdbdbd" stroke-width="2.2" stroke-dasharray="5 6"/><g clip-path="url(#landclip)"><g fill="#fdfcf8" fill-opacity="0.75" filter="url(#bl4)"><path d="M167.1,116.6L181.2,83.6L230.7,81.2L247.2,88.3L266.1,88.3L282.6,88.3L292.0,97.7L313.3,107.2L341.6,102.4L348.6,116.6L351.0,147.2L343.9,154.3L325.1,163.8L296.8,182.6L292.0,192.0L292.0,225.1L282.6,248.6L263.8,239.2L230.7,215.6L214.2,166.1L207.2,109.5L188.3,111.9Z"/><path d="M430.1,130.7L460.7,130.7L458.4,116.6L467.8,104.8L484.3,94.2L500.8,95.4L517.3,102.4L550.3,85.9L597.5,85.9L602.2,130.7L555.1,144.9L543.3,159.0L503.2,170.8L489.0,173.2L467.8,163.8L448.9,177.9L430.1,177.9Z"/><path d="M660.7,139.6L696.1,137.2L722.0,142.0L722.0,184.4L698.5,215.1L717.3,250.0L590.0,250.0L590.0,191.5L641.9,191.5L660.7,172.6Z"/><path d="M489.6,297.3L532.0,297.3L527.3,311.5L503.8,353.9L480.2,349.2L477.8,311.5Z"/><path d="M734.3,312.0L750.8,302.6L757.9,333.3L755.5,359.2L729.6,378.1L717.8,363.9L739.0,345.1Z"/><path d="M287.3,246.2L290.2,243.7L291.4,241.4L294.2,239.4L297.9,238.0L300.1,236.8L299.6,240.0L303.2,237.8L306.0,241.3L309.2,241.1L315.5,241.2L319.7,241.0L321.5,246.5L325.6,248.2L327.6,250.7L333.8,253.0L339.5,255.5L342.2,257.2L344.2,263.2L343.3,266.9L347.3,270.1L352.6,270.1L356.2,273.7L361.1,274.5L365.3,274.7L368.5,276.7L371.6,279.3L375.5,281.0L376.2,287.2L374.4,291.1L371.6,295.0L369.1,299.4L368.4,305.6L368.2,310.5L367.3,315.4L366.4,317.3L365.3,321.5L363.5,324.0L361.0,324.0L357.8,325.1L354.9,326.6L351.1,332.8L351.1,337.7L348.4,342.7L345.8,347.0L343.6,350.7L341.2,354.0L338.8,353.8L336.1,352.9L334.4,353.2L337.2,355.4L338.5,357.3L337.8,361.5L333.4,363.6L329.2,364.0L330.0,368.0L325.1,369.4L328.9,373.0L326.9,374.8L327.4,379.2L323.9,381.9L328.4,386.2L326.5,390.5L325.7,395.7L327.4,397.9L324.2,398.8L324.2,401.2L321.3,400.7L316.9,398.4L312.7,392.4L310.9,387.5L311.5,383.7L311.1,380.0L311.8,376.2L309.2,372.6L308.2,367.1L306.8,361.4L307.3,356.4L307.6,350.1L306.2,342.7L305.4,335.2L305.7,326.6L305.1,320.1L304.1,313.9L300.2,310.2L293.5,305.8L290.4,302.4L288.3,297.9L284.9,291.6L282.5,285.3L278.5,280.3L279.0,277.7L281.1,275.2L280.0,272.7L278.9,270.1L281.0,266.3L282.0,263.8L284.2,261.3L286.8,257.8L286.6,252.5L286.1,249.4L287.3,246.2Z"/><path d="M275.2,212.0L279.7,209.6L285.9,209.0L290.5,212.2L296.7,216.6L289.8,217.4L285.3,213.0L281.5,211.2L275.2,212.0Z"/><path d="M295.6,221.4L300.0,217.7L305.1,218.3L308.3,221.4L302.5,222.5L295.6,221.4Z"/><path d="M287.6,221.4L291.8,222.3L290.1,222.8L287.6,221.4Z"/><path d="M310.5,221.4L313.8,222.0L310.8,222.9L310.5,221.4Z"/><path d="M439.1,146.0L443.1,145.6L447.7,144.6L452.0,143.4L452.4,141.2L452.5,140.0L449.9,137.8L449.0,135.4L446.5,132.7L445.8,131.0L446.0,128.8L446.4,127.9L442.6,127.9L444.4,125.4L440.9,125.4L438.8,128.1L439.8,130.5L439.9,131.2L439.0,133.2L440.9,133.7L440.7,134.9L443.9,134.6L443.6,136.6L444.1,138.3L441.3,138.3L442.0,140.7L440.1,142.2L443.7,142.9L441.3,143.6L439.1,146.0Z"/><path d="M438.7,140.9L438.6,137.8L439.4,134.9L436.7,133.4L434.5,135.3L431.7,137.7L430.9,142.1L435.1,142.1L438.7,140.9Z"/><path d="M473.7,175.6L479.0,177.7L479.8,174.6L475.6,174.8L473.7,175.6Z"/><path d="M465.8,172.9L468.1,172.5L468.3,168.1L465.4,168.1L465.8,172.9Z"/><path d="M466.0,167.1L467.7,165.7L467.4,163.2L465.9,164.7L466.0,167.1Z"/><path d="M495.8,181.7L501.3,181.9L497.8,182.4L495.8,181.7Z"/><path d="M513.2,182.7L517.5,180.4L515.6,182.9L513.2,182.7Z"/><path d="M616.7,242.8L621.5,248.6L619.8,252.4L617.2,251.2L616.7,242.8Z"/><path d="M705.3,175.4L706.9,172.0L710.4,171.1L712.9,170.1L713.1,166.7L715.0,164.6L715.8,161.5L713.8,157.3L713.1,155.2L715.2,155.0L718.5,159.3L718.8,162.9L721.3,168.1L722.4,170.0L721.5,171.7L720.1,172.1L719.0,173.0L716.4,173.3L715.7,175.3L713.5,174.7L711.6,173.5L708.4,175.1L705.3,175.4Z"/><path d="M704.4,177.3L706.1,176.1L708.8,178.3L709.6,182.6L707.7,183.9L704.8,179.5L704.4,177.3Z"/><path d="M709.4,177.5L711.6,174.8L713.0,175.8L711.3,178.1L709.4,177.5Z"/><path d="M712.2,154.8L713.9,153.8L717.1,152.8L719.0,149.0L715.1,147.3L708.9,144.5L711.7,149.3L709.9,150.1L712.2,154.8Z"/><path d="M696.5,200.3L696.5,206.7L696.6,208.8L694.4,206.0L694.9,200.9L696.5,200.3Z"/><path d="M673.4,217.3L676.8,214.8L678.1,216.0L675.7,219.8L673.4,217.3Z"/><path d="M698.4,218.1L701.6,218.0L702.3,223.3L702.5,229.2L708.0,232.3L706.2,231.3L703.9,230.3L700.5,229.3L698.4,224.8L698.4,218.1Z"/><path d="M705.7,248.2L710.1,245.5L712.4,241.4L715.4,248.1L713.2,252.4L710.1,250.1L705.7,248.2Z"/><path d="M704.4,235.9L709.1,240.6L711.5,237.3L709.3,233.9L704.4,235.9Z"/><path d="M695.3,244.9L699.5,237.4L698.3,241.4L695.3,244.9Z"/><path d="M679.1,263.7L680.4,270.2L681.7,275.5L685.3,276.6L690.5,277.4L694.1,276.9L694.9,271.6L697.2,265.5L699.8,264.9L697.6,260.9L697.4,256.1L700.4,253.7L695.7,249.2L693.3,251.4L691.8,254.6L689.4,255.7L687.4,259.4L684.3,261.0L683.3,263.4L680.5,262.3L679.1,263.7Z"/><path d="M649.9,253.2L654.6,254.2L657.3,258.0L660.1,261.1L662.2,262.4L665.4,265.0L668.2,270.2L669.8,274.1L672.7,276.0L672.2,282.8L669.2,283.0L665.2,278.8L662.2,274.1L659.1,267.6L657.2,263.2L652.6,258.6L649.9,253.2Z"/><path d="M670.5,285.4L672.3,283.3L676.9,284.1L681.2,285.8L683.8,284.8L686.3,285.9L689.6,288.3L689.6,290.7L684.5,289.5L680.4,288.7L677.7,287.8L673.1,287.0L670.5,285.4Z"/><path d="M690.8,289.4L695.0,289.4L699.1,290.3L705.4,290.4L709.6,290.0L715.9,290.1L711.4,293.3L708.0,295.1L700.8,294.4L692.7,291.5L690.8,289.4Z"/><path d="M700.8,282.3L703.3,274.3L704.4,270.8L708.0,269.8L712.8,263.5L710.7,266.5L703.3,266.0L701.9,267.6L700.0,277.0L700.8,282.3Z"/><path d="M704.4,270.8L705.1,279.7L707.1,281.9L708.7,279.7L705.9,275.7L709.0,271.6L704.4,270.8Z"/><path d="M718.0,262.2L720.2,264.9L719.1,269.8L718.1,267.6L718.0,262.2Z"/><path d="M719.0,275.8L724.8,277.4L722.1,277.1L719.0,275.8Z"/><path d="M725.4,270.3L728.6,268.7L732.2,270.1L733.7,276.7L739.1,271.8L746.4,274.9L753.6,278.3L756.1,282.6L759.4,285.2L759.1,288.9L760.7,293.2L763.6,297.8L759.2,296.5L756.6,292.5L752.4,289.0L750.2,292.9L748.0,293.7L744.5,293.0L741.1,290.1L738.9,290.6L739.7,287.0L738.8,282.9L735.6,280.3L731.9,278.6L729.4,278.9L727.4,275.3L730.6,274.5L725.4,270.3Z"/><path d="M761.3,283.5L766.0,281.9L769.3,279.7L768.0,283.4L764.7,285.3L761.3,283.5Z"/><path d="M721.9,379.3L727.9,380.6L723.5,386.5L720.2,387.2L720.3,383.6L721.9,379.3Z"/><path d="M782.5,369.0L783.2,372.7L781.9,376.2L783.0,377.6L786.5,379.7L782.7,383.3L778.5,385.9L772.9,388.2L775.6,384.2L775.5,382.4L781.1,376.7L782.0,371.4L782.5,369.0Z"/><path d="M771.0,385.5L771.2,389.1L766.2,392.7L763.8,394.1L760.2,395.5L756.1,399.0L752.0,400.3L749.3,398.1L752.2,395.7L756.8,393.5L763.1,391.0L767.8,388.0L771.0,385.5Z"/><path d="M785.1,327.0L788.9,333.5L788.2,332.9L785.1,327.0Z"/><path d="M708.3,142.9L709.5,140.6L704.6,135.2L705.9,134.5L700.8,130.2L697.7,125.2L693.4,122.3L697.2,128.0L703.0,135.4L708.3,142.9Z"/><path d="M552.6,297.2L554.5,305.8L552.8,309.5L549.9,316.8L547.4,324.2L545.3,329.1L541.1,330.2L538.9,325.3L538.9,321.1L541.2,315.5L540.8,309.8L542.0,307.4L546.2,306.0L549.6,301.6L552.6,297.2Z"/></g><g filter="url(#fy)"><path d="M287.3,246.2L290.2,243.7L291.4,241.4L294.2,239.4L297.9,238.0L300.1,236.8L299.6,240.0L303.2,237.8L306.0,241.3L309.2,241.1L315.5,241.2L319.7,241.0L321.5,246.5L325.6,248.2L327.6,250.7L333.8,253.0L339.5,255.5L342.2,257.2L344.2,263.2L343.3,266.9L347.3,270.1L352.6,270.1L356.2,273.7L361.1,274.5L365.3,274.7L368.5,276.7L371.6,279.3L375.5,281.0L376.2,287.2L374.4,291.1L371.6,295.0L369.1,299.4L368.4,305.6L368.2,310.5L367.3,315.4L366.4,317.3L365.3,321.5L363.5,324.0L361.0,324.0L357.8,325.1L354.9,326.6L351.1,332.8L351.1,337.7L348.4,342.7L345.8,347.0L343.6,350.7L341.2,354.0L338.8,353.8L336.1,352.9L334.4,353.2L337.2,355.4L338.5,357.3L337.8,361.5L333.4,363.6L329.2,364.0L330.0,368.0L325.1,369.4L328.9,373.0L326.9,374.8L327.4,379.2L323.9,381.9L328.4,386.2L326.5,390.5L325.7,395.7L327.4,397.9L324.2,398.8L324.2,401.2L321.3,400.7L316.9,398.4L312.7,392.4L310.9,387.5L311.5,383.7L311.1,380.0L311.8,376.2L309.2,372.6L308.2,367.1L306.8,361.4L307.3,356.4L307.6,350.1L306.2,342.7L305.4,335.2L305.7,326.6L305.1,320.1L304.1,313.9L300.2,310.2L293.5,305.8L290.4,302.4L288.3,297.9L284.9,291.6L282.5,285.3L278.5,280.3L279.0,277.7L281.1,275.2L280.0,272.7L278.9,270.1L281.0,266.3L282.0,263.8L284.2,261.3L286.8,257.8L286.6,252.5L286.1,249.4L287.3,246.2Z" fill-opacity="0.135"/><path d="M275.2,212.0L279.7,209.6L285.9,209.0L290.5,212.2L296.7,216.6L289.8,217.4L285.3,213.0L281.5,211.2L275.2,212.0Z" fill-opacity="0.475"/><path d="M782.5,369.0L783.2,372.7L781.9,376.2L783.0,377.6L786.5,379.7L782.7,383.3L778.5,385.9L772.9,388.2L775.6,384.2L775.5,382.4L781.1,376.7L782.0,371.4L782.5,369.0Z" fill-opacity="0.432"/><path d="M771.0,385.5L771.2,389.1L766.2,392.7L763.8,394.1L760.2,395.5L756.1,399.0L752.0,400.3L749.3,398.1L752.2,395.7L756.8,393.5L763.1,391.0L767.8,388.0L771.0,385.5Z" fill-opacity="0.475"/><path d="M721.9,379.3L727.9,380.6L723.5,386.5L720.2,387.2L720.3,383.6L721.9,379.3Z" fill-opacity="0.390"/><path d="M705.3,175.4L706.9,172.0L710.4,171.1L712.9,170.1L713.1,166.7L715.0,164.6L715.8,161.5L713.8,157.3L713.1,155.2L715.2,155.0L718.5,159.3L718.8,162.9L721.3,168.1L722.4,170.0L721.5,171.7L720.1,172.1L719.0,173.0L716.4,173.3L715.7,175.3L713.5,174.7L711.6,173.5L708.4,175.1L705.3,175.4Z" fill-opacity="0.347"/><path d="M214.2,152.0L249.6,142.5L254.3,173.2L259.0,185.0L249.6,192.0L247.2,210.9L259.0,220.3L277.9,229.8L287.3,246.3L273.2,248.6L254.3,229.8L235.5,215.6L226.0,201.5L218.9,182.6L214.2,166.1Z" fill-opacity="0.220"/><path d="M181.2,83.6L230.7,81.2L247.2,88.3L266.1,88.3L270.8,102.4L261.4,118.9L268.5,137.8L277.9,144.9L273.2,154.3L259.0,154.3L249.6,142.5L230.7,140.2L218.9,137.8L216.6,126.0L207.2,109.5L188.3,111.9L167.1,116.6L183.6,104.8L183.6,90.7Z" fill-opacity="0.688"/><path d="M261.5,93.6L291.5,90.6L304.4,100.0L321.5,104.3L317.2,112.9L343.0,112.9L351.5,130.0L351.5,151.5L334.4,155.8L308.7,155.8L291.5,142.9L283.0,142.9L274.4,138.6L265.8,125.7L261.5,108.6Z" fill-opacity="0.300"/><path d="M249.6,142.5L270.8,144.9L292.0,156.7L325.1,156.7L339.2,154.3L325.1,163.8L310.9,173.2L296.8,182.6L292.0,192.0L282.6,192.0L268.5,189.7L259.0,185.0L254.3,173.2Z" fill-opacity="0.577"/><path d="M280.5,270.5L287.0,268.9L291.8,281.8L298.2,293.1L306.3,301.1L307.9,310.7L301.4,312.3L291.8,304.3L285.4,291.4L278.9,280.2Z" fill-opacity="0.475"/><path d="M307.9,294.7L319.1,294.7L320.7,305.9L312.7,309.1L307.1,304.3Z" fill-opacity="0.603"/><path d="M287.0,243.2L325.6,240.0L340.0,268.9L327.2,280.2L303.1,278.6L287.0,272.2Z" fill-opacity="0.237"/><path d="M352.9,272.2L375.4,278.6L373.8,291.4L359.3,293.1L349.7,281.8Z" fill-opacity="0.347"/><path d="M324.0,323.6L349.7,330.0L349.7,352.5L336.8,355.8L324.0,342.9Z" fill-opacity="0.390"/><path d="M319.1,346.1L333.6,346.1L335.2,360.6L325.6,363.8L317.5,355.8Z" fill-opacity="0.300"/><path d="M306.3,355.8L319.1,359.0L322.3,378.3L325.6,397.6L320.7,404.0L314.3,397.6L307.9,378.3Z" fill-opacity="0.518"/><path d="M325.1,100.1L346.3,102.4L348.6,116.6L339.2,116.6L325.1,111.9Z" fill-opacity="0.432"/><path d="M261.4,208.6L292.0,213.3L296.8,222.7L277.9,222.7L263.8,215.6Z" fill-opacity="0.390"/><path d="M367.5,100.1L373.4,97.7L374.6,118.9L367.5,118.9Z" fill-opacity="0.518"/><path d="M458.4,116.6L467.8,104.8L484.3,94.2L500.8,95.4L515.0,104.8L517.3,121.3L507.9,128.4L493.8,130.7L484.3,135.5L472.5,135.5L460.7,130.7Z" fill-opacity="0.300"/><path d="M408.9,104.8L427.7,104.8L427.7,111.9L411.2,113.1Z" fill-opacity="0.713"/><path d="M550.3,88.3L592.8,88.3L597.5,107.2L592.8,126.0L578.6,140.2L555.1,137.8L545.6,121.3L548.0,100.1Z" fill-opacity="0.300"/><path d="M512.6,97.7L550.3,90.7L555.1,140.2L522.0,137.8L512.6,121.3Z" fill-opacity="0.305"/><path d="M432.4,130.7L460.7,133.1L507.9,128.4L550.3,130.7L555.1,144.9L543.3,154.3L531.5,163.8L503.2,168.5L472.5,163.8L448.9,159.0L437.2,154.3L432.4,140.2Z" fill-opacity="0.492"/><path d="M430.1,159.0L460.7,161.4L458.4,177.9L432.4,177.9Z" fill-opacity="0.305"/><path d="M432.4,121.3L451.3,121.3L453.7,144.9L434.8,142.5Z" fill-opacity="0.347"/><path d="M496.1,170.8L550.3,170.8L555.1,192.0L512.6,192.0Z" fill-opacity="0.152"/><path d="M555.1,140.2L610.0,130.7L610.0,192.0L555.1,182.6Z" fill-opacity="0.161"/><path d="M597.5,88.3L610.0,85.9L610.0,130.7L597.5,126.0Z" fill-opacity="0.220"/><path d="M590.0,73.6L722.0,78.3L731.5,104.2L717.3,127.8L693.8,120.7L689.0,149.0L667.8,158.5L590.0,151.4Z" fill-opacity="0.118"/><path d="M632.4,94.8L665.5,97.2L663.1,108.9L637.2,106.6Z" fill-opacity="0.560"/><path d="M637.2,113.7L656.0,112.5L653.7,125.5L634.8,125.5Z" fill-opacity="0.432"/><path d="M590.0,85.4L606.5,85.4L604.1,97.2L590.0,99.5Z" fill-opacity="0.220"/><path d="M590.0,111.3L618.3,113.7L615.9,139.6L590.0,139.6Z" fill-opacity="0.220"/><path d="M611.2,127.8L630.1,127.8L630.1,139.6L611.2,139.6Z" fill-opacity="0.347"/><path d="M648.9,132.5L667.8,132.5L667.8,144.3L648.9,144.3Z" fill-opacity="0.475"/><path d="M667.8,83.0L691.4,85.4L691.4,101.9L670.2,99.5Z" fill-opacity="0.373"/><path d="M698.5,83.0L729.1,90.1L726.8,104.2L700.8,104.2Z" fill-opacity="0.560"/><path d="M707.9,104.2L724.4,106.6L724.4,125.5L712.6,125.5Z" fill-opacity="0.518"/><path d="M670.2,137.2L693.8,139.6L696.1,163.2L674.9,167.9L667.8,153.8Z" fill-opacity="0.475"/><path d="M700.8,142.0L722.0,142.0L722.0,184.4L703.2,184.4Z" fill-opacity="0.518"/><path d="M660.7,172.6L696.1,177.3L696.1,215.1L667.8,219.8L656.0,196.2Z" fill-opacity="0.475"/><path d="M590.0,191.5L641.9,196.2L637.2,250.0L590.0,250.0Z" fill-opacity="0.492"/><path d="M608.9,172.6L646.6,177.3L641.9,191.5L608.9,189.1Z" fill-opacity="0.347"/><path d="M641.9,203.3L689.0,215.1L684.3,250.0L641.9,250.0Z" fill-opacity="0.237"/><path d="M691.4,212.7L722.0,212.7L722.0,250.0L691.4,250.0Z" fill-opacity="0.220"/><path d="M414.1,224.2L532.0,231.3L541.5,247.8L536.8,269.0L532.0,302.0L503.8,353.9L480.2,349.2L468.4,264.3L418.9,247.8Z" fill-opacity="0.101"/><path d="M416.5,224.2L470.7,228.9L532.0,233.7L541.5,247.8L513.2,250.2L470.7,252.5L435.4,254.9L418.9,245.5Z" fill-opacity="0.186"/><path d="M468.4,264.3L536.8,264.3L532.0,299.7L513.2,302.0L477.8,292.6Z" fill-opacity="0.152"/><path d="M499.0,302.0L522.6,304.4L522.6,335.1L503.8,351.6L487.2,349.2L489.6,330.3Z" fill-opacity="0.373"/><path d="M536.8,297.3L555.6,297.3L546.2,332.7L536.8,330.3Z" fill-opacity="0.347"/><path d="M430.7,174.7L473.1,174.7L470.7,191.2L430.7,193.6Z" fill-opacity="0.220"/><path d="M710.7,297.9L750.8,297.9L757.9,333.3L755.5,359.2L729.6,378.1L710.7,363.9L729.6,345.1L734.3,321.5Z" fill-opacity="0.177"/><path d="M677.7,330.9L710.7,297.9L734.3,321.5L729.6,345.1L710.7,363.9L698.9,352.1L677.7,359.2Z" fill-opacity="0.118"/><path d="M732.0,340.3L753.2,340.3L750.8,356.8L734.3,356.8Z" fill-opacity="0.390"/><path d="M675.4,342.7L694.2,342.7L691.9,361.6L675.4,361.6Z" fill-opacity="0.347"/><path d="M717.8,375.7L734.3,375.7L734.3,389.9L717.8,389.9Z" fill-opacity="0.475"/><path d="M748.5,368.6L790.9,368.6L790.9,400.0L748.5,400.0Z" fill-opacity="0.347"/><path d="M717.8,269.6L772.0,269.6L772.0,297.9L717.8,297.9Z" fill-opacity="0.220"/><path d="M649.4,246.0L717.8,246.0L717.8,293.2L649.4,293.2Z" fill-opacity="0.220"/><path d="M613.0,175.0L644.0,176.0L646.0,196.0L615.0,198.0Z" fill-opacity="0.432"/><path d="M210.0,140.0L226.0,140.0L222.0,160.0L218.0,180.0L211.0,178.0L208.0,160.0Z" fill-opacity="0.432"/><path d="M258.0,100.0L266.0,126.0L274.0,139.0L291.0,143.0L309.0,156.0L334.0,156.0L352.0,152.0L352.0,162.0L300.0,166.0L262.0,152.0L250.0,120.0Z" fill-opacity="0.577"/></g><g filter="url(#fo)"><path d="M287.3,246.2L290.2,243.7L291.4,241.4L294.2,239.4L297.9,238.0L300.1,236.8L299.6,240.0L303.2,237.8L306.0,241.3L309.2,241.1L315.5,241.2L319.7,241.0L321.5,246.5L325.6,248.2L327.6,250.7L333.8,253.0L339.5,255.5L342.2,257.2L344.2,263.2L343.3,266.9L347.3,270.1L352.6,270.1L356.2,273.7L361.1,274.5L365.3,274.7L368.5,276.7L371.6,279.3L375.5,281.0L376.2,287.2L374.4,291.1L371.6,295.0L369.1,299.4L368.4,305.6L368.2,310.5L367.3,315.4L366.4,317.3L365.3,321.5L363.5,324.0L361.0,324.0L357.8,325.1L354.9,326.6L351.1,332.8L351.1,337.7L348.4,342.7L345.8,347.0L343.6,350.7L341.2,354.0L338.8,353.8L336.1,352.9L334.4,353.2L337.2,355.4L338.5,357.3L337.8,361.5L333.4,363.6L329.2,364.0L330.0,368.0L325.1,369.4L328.9,373.0L326.9,374.8L327.4,379.2L323.9,381.9L328.4,386.2L326.5,390.5L325.7,395.7L327.4,397.9L324.2,398.8L324.2,401.2L321.3,400.7L316.9,398.4L312.7,392.4L310.9,387.5L311.5,383.7L311.1,380.0L311.8,376.2L309.2,372.6L308.2,367.1L306.8,361.4L307.3,356.4L307.6,350.1L306.2,342.7L305.4,335.2L305.7,326.6L305.1,320.1L304.1,313.9L300.2,310.2L293.5,305.8L290.4,302.4L288.3,297.9L284.9,291.6L282.5,285.3L278.5,280.3L279.0,277.7L281.1,275.2L280.0,272.7L278.9,270.1L281.0,266.3L282.0,263.8L284.2,261.3L286.8,257.8L286.6,252.5L286.1,249.4L287.3,246.2Z" fill-opacity="0.068"/><path d="M275.2,212.0L279.7,209.6L285.9,209.0L290.5,212.2L296.7,216.6L289.8,217.4L285.3,213.0L281.5,211.2L275.2,212.0Z" fill-opacity="0.340"/><path d="M782.5,369.0L783.2,372.7L781.9,376.2L783.0,377.6L786.5,379.7L782.7,383.3L778.5,385.9L772.9,388.2L775.6,384.2L775.5,382.4L781.1,376.7L782.0,371.4L782.5,369.0Z" fill-opacity="0.306"/><path d="M771.0,385.5L771.2,389.1L766.2,392.7L763.8,394.1L760.2,395.5L756.1,399.0L752.0,400.3L749.3,398.1L752.2,395.7L756.8,393.5L763.1,391.0L767.8,388.0L771.0,385.5Z" fill-opacity="0.340"/><path d="M721.9,379.3L727.9,380.6L723.5,386.5L720.2,387.2L720.3,383.6L721.9,379.3Z" fill-opacity="0.272"/><path d="M705.3,175.4L706.9,172.0L710.4,171.1L712.9,170.1L713.1,166.7L715.0,164.6L715.8,161.5L713.8,157.3L713.1,155.2L715.2,155.0L718.5,159.3L718.8,162.9L721.3,168.1L722.4,170.0L721.5,171.7L720.1,172.1L719.0,173.0L716.4,173.3L715.7,175.3L713.5,174.7L711.6,173.5L708.4,175.1L705.3,175.4Z" fill-opacity="0.238"/><path d="M214.2,152.0L249.6,142.5L254.3,173.2L259.0,185.0L249.6,192.0L247.2,210.9L259.0,220.3L277.9,229.8L287.3,246.3L273.2,248.6L254.3,229.8L235.5,215.6L226.0,201.5L218.9,182.6L214.2,166.1Z" fill-opacity="0.136"/><path d="M181.2,83.6L230.7,81.2L247.2,88.3L266.1,88.3L270.8,102.4L261.4,118.9L268.5,137.8L277.9,144.9L273.2,154.3L259.0,154.3L249.6,142.5L230.7,140.2L218.9,137.8L216.6,126.0L207.2,109.5L188.3,111.9L167.1,116.6L183.6,104.8L183.6,90.7Z" fill-opacity="0.510"/><path d="M261.5,93.6L291.5,90.6L304.4,100.0L321.5,104.3L317.2,112.9L343.0,112.9L351.5,130.0L351.5,151.5L334.4,155.8L308.7,155.8L291.5,142.9L283.0,142.9L274.4,138.6L265.8,125.7L261.5,108.6Z" fill-opacity="1.000"/><path d="M249.6,142.5L270.8,144.9L292.0,156.7L325.1,156.7L339.2,154.3L325.1,163.8L310.9,173.2L296.8,182.6L292.0,192.0L282.6,192.0L268.5,189.7L259.0,185.0L254.3,173.2Z" fill-opacity="0.422"/><path d="M280.5,270.5L287.0,268.9L291.8,281.8L298.2,293.1L306.3,301.1L307.9,310.7L301.4,312.3L291.8,304.3L285.4,291.4L278.9,280.2Z" fill-opacity="0.340"/><path d="M307.9,294.7L319.1,294.7L320.7,305.9L312.7,309.1L307.1,304.3Z" fill-opacity="0.442"/><path d="M287.0,243.2L325.6,240.0L340.0,268.9L327.2,280.2L303.1,278.6L287.0,272.2Z" fill-opacity="0.150"/><path d="M352.9,272.2L375.4,278.6L373.8,291.4L359.3,293.1L349.7,281.8Z" fill-opacity="0.238"/><path d="M324.0,323.6L349.7,330.0L349.7,352.5L336.8,355.8L324.0,342.9Z" fill-opacity="0.272"/><path d="M319.1,346.1L333.6,346.1L335.2,360.6L325.6,363.8L317.5,355.8Z" fill-opacity="0.880"/><path d="M306.3,355.8L319.1,359.0L322.3,378.3L325.6,397.6L320.7,404.0L314.3,397.6L307.9,378.3Z" fill-opacity="0.374"/><path d="M325.1,100.1L346.3,102.4L348.6,116.6L339.2,116.6L325.1,111.9Z" fill-opacity="0.306"/><path d="M261.4,208.6L292.0,213.3L296.8,222.7L277.9,222.7L263.8,215.6Z" fill-opacity="0.272"/><path d="M367.5,100.1L373.4,97.7L374.6,118.9L367.5,118.9Z" fill-opacity="0.374"/><path d="M458.4,116.6L467.8,104.8L484.3,94.2L500.8,95.4L515.0,104.8L517.3,121.3L507.9,128.4L493.8,130.7L484.3,135.5L472.5,135.5L460.7,130.7Z" fill-opacity="0.850"/><path d="M408.9,104.8L427.7,104.8L427.7,111.9L411.2,113.1Z" fill-opacity="0.530"/><path d="M550.3,88.3L592.8,88.3L597.5,107.2L592.8,126.0L578.6,140.2L555.1,137.8L545.6,121.3L548.0,100.1Z" fill-opacity="0.800"/><path d="M512.6,97.7L550.3,90.7L555.1,140.2L522.0,137.8L512.6,121.3Z" fill-opacity="0.204"/><path d="M432.4,130.7L460.7,133.1L507.9,128.4L550.3,130.7L555.1,144.9L543.3,154.3L531.5,163.8L503.2,168.5L472.5,163.8L448.9,159.0L437.2,154.3L432.4,140.2Z" fill-opacity="0.354"/><path d="M430.1,159.0L460.7,161.4L458.4,177.9L432.4,177.9Z" fill-opacity="0.204"/><path d="M432.4,121.3L451.3,121.3L453.7,144.9L434.8,142.5Z" fill-opacity="0.238"/><path d="M496.1,170.8L550.3,170.8L555.1,192.0L512.6,192.0Z" fill-opacity="0.082"/><path d="M555.1,140.2L610.0,130.7L610.0,192.0L555.1,182.6Z" fill-opacity="0.088"/><path d="M597.5,88.3L610.0,85.9L610.0,130.7L597.5,126.0Z" fill-opacity="0.136"/><path d="M590.0,73.6L722.0,78.3L731.5,104.2L717.3,127.8L693.8,120.7L689.0,149.0L667.8,158.5L590.0,151.4Z" fill-opacity="0.054"/><path d="M632.4,94.8L665.5,97.2L663.1,108.9L637.2,106.6Z" fill-opacity="0.408"/><path d="M637.2,113.7L656.0,112.5L653.7,125.5L634.8,125.5Z" fill-opacity="0.306"/><path d="M590.0,85.4L606.5,85.4L604.1,97.2L590.0,99.5Z" fill-opacity="0.136"/><path d="M590.0,111.3L618.3,113.7L615.9,139.6L590.0,139.6Z" fill-opacity="0.136"/><path d="M611.2,127.8L630.1,127.8L630.1,139.6L611.2,139.6Z" fill-opacity="0.238"/><path d="M648.9,132.5L667.8,132.5L667.8,144.3L648.9,144.3Z" fill-opacity="0.340"/><path d="M667.8,83.0L691.4,85.4L691.4,101.9L670.2,99.5Z" fill-opacity="0.258"/><path d="M698.5,83.0L729.1,90.1L726.8,104.2L700.8,104.2Z" fill-opacity="0.408"/><path d="M707.9,104.2L724.4,106.6L724.4,125.5L712.6,125.5Z" fill-opacity="0.374"/><path d="M670.2,137.2L693.8,139.6L696.1,163.2L674.9,167.9L667.8,153.8Z" fill-opacity="0.340"/><path d="M700.8,142.0L722.0,142.0L722.0,184.4L703.2,184.4Z" fill-opacity="0.374"/><path d="M660.7,172.6L696.1,177.3L696.1,215.1L667.8,219.8L656.0,196.2Z" fill-opacity="0.340"/><path d="M590.0,191.5L641.9,196.2L637.2,250.0L590.0,250.0Z" fill-opacity="0.354"/><path d="M608.9,172.6L646.6,177.3L641.9,191.5L608.9,189.1Z" fill-opacity="0.238"/><path d="M641.9,203.3L689.0,215.1L684.3,250.0L641.9,250.0Z" fill-opacity="0.150"/><path d="M691.4,212.7L722.0,212.7L722.0,250.0L691.4,250.0Z" fill-opacity="0.136"/><path d="M414.1,224.2L532.0,231.3L541.5,247.8L536.8,269.0L532.0,302.0L503.8,353.9L480.2,349.2L468.4,264.3L418.9,247.8Z" fill-opacity="0.041"/><path d="M416.5,224.2L470.7,228.9L532.0,233.7L541.5,247.8L513.2,250.2L470.7,252.5L435.4,254.9L418.9,245.5Z" fill-opacity="0.109"/><path d="M468.4,264.3L536.8,264.3L532.0,299.7L513.2,302.0L477.8,292.6Z" fill-opacity="0.082"/><path d="M499.0,302.0L522.6,304.4L522.6,335.1L503.8,351.6L487.2,349.2L489.6,330.3Z" fill-opacity="0.258"/><path d="M536.8,297.3L555.6,297.3L546.2,332.7L536.8,330.3Z" fill-opacity="0.238"/><path d="M430.7,174.7L473.1,174.7L470.7,191.2L430.7,193.6Z" fill-opacity="0.136"/><path d="M710.7,297.9L750.8,297.9L757.9,333.3L755.5,359.2L729.6,378.1L710.7,363.9L729.6,345.1L734.3,321.5Z" fill-opacity="0.102"/><path d="M677.7,330.9L710.7,297.9L734.3,321.5L729.6,345.1L710.7,363.9L698.9,352.1L677.7,359.2Z" fill-opacity="0.054"/><path d="M732.0,340.3L753.2,340.3L750.8,356.8L734.3,356.8Z" fill-opacity="0.272"/><path d="M675.4,342.7L694.2,342.7L691.9,361.6L675.4,361.6Z" fill-opacity="0.238"/><path d="M717.8,375.7L734.3,375.7L734.3,389.9L717.8,389.9Z" fill-opacity="0.340"/><path d="M748.5,368.6L790.9,368.6L790.9,400.0L748.5,400.0Z" fill-opacity="0.238"/><path d="M717.8,269.6L772.0,269.6L772.0,297.9L717.8,297.9Z" fill-opacity="0.136"/><path d="M649.4,246.0L717.8,246.0L717.8,293.2L649.4,293.2Z" fill-opacity="0.136"/><path d="M613.0,175.0L644.0,176.0L646.0,196.0L615.0,198.0Z" fill-opacity="0.306"/><path d="M210.0,140.0L226.0,140.0L222.0,160.0L218.0,180.0L211.0,178.0L208.0,160.0Z" fill-opacity="0.306"/><path d="M258.0,100.0L266.0,126.0L274.0,139.0L291.0,143.0L309.0,156.0L334.0,156.0L352.0,152.0L352.0,162.0L300.0,166.0L262.0,152.0L250.0,120.0Z" fill-opacity="0.422"/></g><g filter="url(#ft)"><path d="M705.3,175.4L706.9,172.0L710.4,171.1L712.9,170.1L713.1,166.7L715.0,164.6L715.8,161.5L713.8,157.3L713.1,155.2L715.2,155.0L718.5,159.3L718.8,162.9L721.3,168.1L722.4,170.0L721.5,171.7L720.1,172.1L719.0,173.0L716.4,173.3L715.7,175.3L713.5,174.7L711.6,173.5L708.4,175.1L705.3,175.4Z" fill-opacity="0.200"/><path d="M287.3,246.2L290.2,243.7L291.4,241.4L294.2,239.4L297.9,238.0L300.1,236.8L299.6,240.0L303.2,237.8L306.0,241.3L309.2,241.1L315.5,241.2L319.7,241.0L321.5,246.5L325.6,248.2L327.6,250.7L333.8,253.0L339.5,255.5L342.2,257.2L344.2,263.2L343.3,266.9L347.3,270.1L352.6,270.1L356.2,273.7L361.1,274.5L365.3,274.7L368.5,276.7L371.6,279.3L375.5,281.0L376.2,287.2L374.4,291.1L371.6,295.0L369.1,299.4L368.4,305.6L368.2,310.5L367.3,315.4L366.4,317.3L365.3,321.5L363.5,324.0L361.0,324.0L357.8,325.1L354.9,326.6L351.1,332.8L351.1,337.7L348.4,342.7L345.8,347.0L343.6,350.7L341.2,354.0L338.8,353.8L336.1,352.9L334.4,353.2L337.2,355.4L338.5,357.3L337.8,361.5L333.4,363.6L329.2,364.0L330.0,368.0L325.1,369.4L328.9,373.0L326.9,374.8L327.4,379.2L323.9,381.9L328.4,386.2L326.5,390.5L325.7,395.7L327.4,397.9L324.2,398.8L324.2,401.2L321.3,400.7L316.9,398.4L312.7,392.4L310.9,387.5L311.5,383.7L311.1,380.0L311.8,376.2L309.2,372.6L308.2,367.1L306.8,361.4L307.3,356.4L307.6,350.1L306.2,342.7L305.4,335.2L305.7,326.6L305.1,320.1L304.1,313.9L300.2,310.2L293.5,305.8L290.4,302.4L288.3,297.9L284.9,291.6L282.5,285.3L278.5,280.3L279.0,277.7L281.1,275.2L280.0,272.7L278.9,270.1L281.0,266.3L282.0,263.8L284.2,261.3L286.8,257.8L286.6,252.5L286.1,249.4L287.3,246.2Z" fill-opacity="0.050"/><path d="M214.2,152.0L249.6,142.5L254.3,173.2L259.0,185.0L249.6,192.0L247.2,210.9L259.0,220.3L277.9,229.8L287.3,246.3L273.2,248.6L254.3,229.8L235.5,215.6L226.0,201.5L218.9,182.6L214.2,166.1Z" fill-opacity="0.050"/><path d="M181.2,83.6L230.7,81.2L247.2,88.3L266.1,88.3L270.8,102.4L261.4,118.9L268.5,137.8L277.9,144.9L273.2,154.3L259.0,154.3L249.6,142.5L230.7,140.2L218.9,137.8L216.6,126.0L207.2,109.5L188.3,111.9L167.1,116.6L183.6,104.8L183.6,90.7Z" fill-opacity="0.220"/><path d="M249.6,142.5L270.8,144.9L292.0,156.7L325.1,156.7L339.2,154.3L325.1,163.8L310.9,173.2L296.8,182.6L292.0,192.0L282.6,192.0L268.5,189.7L259.0,185.0L254.3,173.2Z" fill-opacity="0.280"/><path d="M287.0,243.2L325.6,240.0L340.0,268.9L327.2,280.2L303.1,278.6L287.0,272.2Z" fill-opacity="0.100"/><path d="M352.9,272.2L375.4,278.6L373.8,291.4L359.3,293.1L349.7,281.8Z" fill-opacity="0.350"/><path d="M336.8,288.2L352.9,291.4L352.9,307.5L340.0,317.2L330.4,314.0Z" fill-opacity="0.300"/><path d="M324.0,330.0L349.7,336.5L346.5,350.9L333.6,352.5L325.6,342.9Z" fill-opacity="0.400"/><path d="M306.3,362.2L319.1,365.4L322.3,378.3L324.0,397.6L317.5,399.2L311.1,384.7Z" fill-opacity="0.100"/><path d="M432.4,130.7L460.7,133.1L507.9,128.4L550.3,130.7L555.1,144.9L543.3,154.3L531.5,163.8L503.2,168.5L472.5,163.8L448.9,159.0L437.2,154.3L432.4,140.2Z" fill-opacity="0.420"/><path d="M489.0,137.8L531.5,137.8L536.2,159.0L512.6,161.4L493.8,154.3Z" fill-opacity="0.300"/><path d="M430.1,159.0L460.7,161.4L458.4,177.9L432.4,177.9Z" fill-opacity="0.150"/><path d="M432.4,121.3L451.3,121.3L453.7,144.9L434.8,142.5Z" fill-opacity="0.350"/><path d="M670.2,137.2L693.8,139.6L696.1,163.2L674.9,167.9L667.8,153.8Z" fill-opacity="0.120"/><path d="M700.8,142.0L722.0,142.0L722.0,184.4L703.2,184.4Z" fill-opacity="0.200"/><path d="M660.7,172.6L696.1,177.3L696.1,215.1L667.8,219.8L656.0,196.2Z" fill-opacity="0.250"/><path d="M590.0,191.5L641.9,196.2L637.2,250.0L590.0,250.0Z" fill-opacity="0.320"/><path d="M604.1,182.0L641.9,189.1L641.9,203.3L604.1,198.6Z" fill-opacity="0.400"/><path d="M641.9,203.3L689.0,215.1L684.3,250.0L641.9,250.0Z" fill-opacity="0.200"/><path d="M691.4,212.7L722.0,212.7L722.0,250.0L691.4,250.0Z" fill-opacity="0.300"/><path d="M416.5,224.2L470.7,228.9L532.0,233.7L541.5,247.8L513.2,250.2L470.7,252.5L435.4,254.9L418.9,245.5Z" fill-opacity="0.100"/><path d="M506.1,238.4L525.0,238.4L522.6,254.9L508.5,254.9Z" fill-opacity="0.300"/><path d="M468.4,264.3L536.8,264.3L532.0,299.7L513.2,302.0L477.8,292.6Z" fill-opacity="0.100"/><path d="M499.0,302.0L522.6,304.4L522.6,335.1L503.8,351.6L487.2,349.2L489.6,330.3Z" fill-opacity="0.150"/><path d="M430.7,174.7L473.1,174.7L470.7,191.2L430.7,193.6Z" fill-opacity="0.080"/><path d="M717.8,269.6L772.0,269.6L772.0,297.9L717.8,297.9Z" fill-opacity="0.150"/><path d="M649.4,246.0L717.8,246.0L717.8,293.2L649.4,293.2Z" fill-opacity="0.150"/><path d="M613.0,175.0L644.0,176.0L646.0,196.0L615.0,198.0Z" fill-opacity="0.200"/><path d="M258.0,100.0L266.0,126.0L274.0,139.0L291.0,143.0L309.0,156.0L334.0,156.0L352.0,152.0L352.0,162.0L300.0,166.0L262.0,152.0L250.0,120.0Z" fill-opacity="0.250"/></g></g><use href="#waterp" fill="#fff"/><use href="#coastp" fill="none" stroke="#111" stroke-width="0.9" stroke-linejoin="round"/>
<path d="M69,100.3H77M69,176.6H77M69,267.6H77M69,358.6H77M69,434.9H77M259.9,478.9V485.9M323.1,478.9V485.9M386.3,478.9V485.9M449.5,478.9V485.9M512.7,478.9V485.9M575.9,478.9V485.9M639.1,478.9V485.9" stroke="#333" stroke-width="1.8" fill="none"/>
<g transform="translate(0,527.5)"><use href="#landp" fill="#f1f1f1"/><use href="#gratp" fill="none" stroke="#bdbdbd" stroke-width="2.2" stroke-dasharray="5 6"/><g clip-path="url(#landclip)"><g fill="#fdfcf8" fill-opacity="0.75" filter="url(#bl4)"><path d="M167.1,116.6L181.2,83.6L230.7,81.2L247.2,88.3L266.1,88.3L282.6,88.3L292.0,97.7L313.3,107.2L341.6,102.4L348.6,116.6L351.0,147.2L343.9,154.3L325.1,163.8L296.8,182.6L292.0,192.0L292.0,225.1L282.6,248.6L263.8,239.2L230.7,215.6L214.2,166.1L207.2,109.5L188.3,111.9Z"/><path d="M430.1,130.7L460.7,130.7L458.4,116.6L467.8,104.8L484.3,94.2L500.8,95.4L517.3,102.4L550.3,85.9L597.5,85.9L602.2,130.7L555.1,144.9L543.3,159.0L503.2,170.8L489.0,173.2L467.8,163.8L448.9,177.9L430.1,177.9Z"/><path d="M660.7,139.6L696.1,137.2L722.0,142.0L722.0,184.4L698.5,215.1L717.3,250.0L590.0,250.0L590.0,191.5L641.9,191.5L660.7,172.6Z"/><path d="M489.6,297.3L532.0,297.3L527.3,311.5L503.8,353.9L480.2,349.2L477.8,311.5Z"/><path d="M734.3,312.0L750.8,302.6L757.9,333.3L755.5,359.2L729.6,378.1L717.8,363.9L739.0,345.1Z"/><path d="M287.3,246.2L290.2,243.7L291.4,241.4L294.2,239.4L297.9,238.0L300.1,236.8L299.6,240.0L303.2,237.8L306.0,241.3L309.2,241.1L315.5,241.2L319.7,241.0L321.5,246.5L325.6,248.2L327.6,250.7L333.8,253.0L339.5,255.5L342.2,257.2L344.2,263.2L343.3,266.9L347.3,270.1L352.6,270.1L356.2,273.7L361.1,274.5L365.3,274.7L368.5,276.7L371.6,279.3L375.5,281.0L376.2,287.2L374.4,291.1L371.6,295.0L369.1,299.4L368.4,305.6L368.2,310.5L367.3,315.4L366.4,317.3L365.3,321.5L363.5,324.0L361.0,324.0L357.8,325.1L354.9,326.6L351.1,332.8L351.1,337.7L348.4,342.7L345.8,347.0L343.6,350.7L341.2,354.0L338.8,353.8L336.1,352.9L334.4,353.2L337.2,355.4L338.5,357.3L337.8,361.5L333.4,363.6L329.2,364.0L330.0,368.0L325.1,369.4L328.9,373.0L326.9,374.8L327.4,379.2L323.9,381.9L328.4,386.2L326.5,390.5L325.7,395.7L327.4,397.9L324.2,398.8L324.2,401.2L321.3,400.7L316.9,398.4L312.7,392.4L310.9,387.5L311.5,383.7L311.1,380.0L311.8,376.2L309.2,372.6L308.2,367.1L306.8,361.4L307.3,356.4L307.6,350.1L306.2,342.7L305.4,335.2L305.7,326.6L305.1,320.1L304.1,313.9L300.2,310.2L293.5,305.8L290.4,302.4L288.3,297.9L284.9,291.6L282.5,285.3L278.5,280.3L279.0,277.7L281.1,275.2L280.0,272.7L278.9,270.1L281.0,266.3L282.0,263.8L284.2,261.3L286.8,257.8L286.6,252.5L286.1,249.4L287.3,246.2Z"/><path d="M275.2,212.0L279.7,209.6L285.9,209.0L290.5,212.2L296.7,216.6L289.8,217.4L285.3,213.0L281.5,211.2L275.2,212.0Z"/><path d="M295.6,221.4L300.0,217.7L305.1,218.3L308.3,221.4L302.5,222.5L295.6,221.4Z"/><path d="M287.6,221.4L291.8,222.3L290.1,222.8L287.6,221.4Z"/><path d="M310.5,221.4L313.8,222.0L310.8,222.9L310.5,221.4Z"/><path d="M439.1,146.0L443.1,145.6L447.7,144.6L452.0,143.4L452.4,141.2L452.5,140.0L449.9,137.8L449.0,135.4L446.5,132.7L445.8,131.0L446.0,128.8L446.4,127.9L442.6,127.9L444.4,125.4L440.9,125.4L438.8,128.1L439.8,130.5L439.9,131.2L439.0,133.2L440.9,133.7L440.7,134.9L443.9,134.6L443.6,136.6L444.1,138.3L441.3,138.3L442.0,140.7L440.1,142.2L443.7,142.9L441.3,143.6L439.1,146.0Z"/><path d="M438.7,140.9L438.6,137.8L439.4,134.9L436.7,133.4L434.5,135.3L431.7,137.7L430.9,142.1L435.1,142.1L438.7,140.9Z"/><path d="M473.7,175.6L479.0,177.7L479.8,174.6L475.6,174.8L473.7,175.6Z"/><path d="M465.8,172.9L468.1,172.5L468.3,168.1L465.4,168.1L465.8,172.9Z"/><path d="M466.0,167.1L467.7,165.7L467.4,163.2L465.9,164.7L466.0,167.1Z"/><path d="M495.8,181.7L501.3,181.9L497.8,182.4L495.8,181.7Z"/><path d="M513.2,182.7L517.5,180.4L515.6,182.9L513.2,182.7Z"/><path d="M616.7,242.8L621.5,248.6L619.8,252.4L617.2,251.2L616.7,242.8Z"/><path d="M705.3,175.4L706.9,172.0L710.4,171.1L712.9,170.1L713.1,166.7L715.0,164.6L715.8,161.5L713.8,157.3L713.1,155.2L715.2,155.0L718.5,159.3L718.8,162.9L721.3,168.1L722.4,170.0L721.5,171.7L720.1,172.1L719.0,173.0L716.4,173.3L715.7,175.3L713.5,174.7L711.6,173.5L708.4,175.1L705.3,175.4Z"/><path d="M704.4,177.3L706.1,176.1L708.8,178.3L709.6,182.6L707.7,183.9L704.8,179.5L704.4,177.3Z"/><path d="M709.4,177.5L711.6,174.8L713.0,175.8L711.3,178.1L709.4,177.5Z"/><path d="M712.2,154.8L713.9,153.8L717.1,152.8L719.0,149.0L715.1,147.3L708.9,144.5L711.7,149.3L709.9,150.1L712.2,154.8Z"/><path d="M696.5,200.3L696.5,206.7L696.6,208.8L694.4,206.0L694.9,200.9L696.5,200.3Z"/><path d="M673.4,217.3L676.8,214.8L678.1,216.0L675.7,219.8L673.4,217.3Z"/><path d="M698.4,218.1L701.6,218.0L702.3,223.3L702.5,229.2L708.0,232.3L706.2,231.3L703.9,230.3L700.5,229.3L698.4,224.8L698.4,218.1Z"/><path d="M705.7,248.2L710.1,245.5L712.4,241.4L715.4,248.1L713.2,252.4L710.1,250.1L705.7,248.2Z"/><path d="M704.4,235.9L709.1,240.6L711.5,237.3L709.3,233.9L704.4,235.9Z"/><path d="M695.3,244.9L699.5,237.4L698.3,241.4L695.3,244.9Z"/><path d="M679.1,263.7L680.4,270.2L681.7,275.5L685.3,276.6L690.5,277.4L694.1,276.9L694.9,271.6L697.2,265.5L699.8,264.9L697.6,260.9L697.4,256.1L700.4,253.7L695.7,249.2L693.3,251.4L691.8,254.6L689.4,255.7L687.4,259.4L684.3,261.0L683.3,263.4L680.5,262.3L679.1,263.7Z"/><path d="M649.9,253.2L654.6,254.2L657.3,258.0L660.1,261.1L662.2,262.4L665.4,265.0L668.2,270.2L669.8,274.1L672.7,276.0L672.2,282.8L669.2,283.0L665.2,278.8L662.2,274.1L659.1,267.6L657.2,263.2L652.6,258.6L649.9,253.2Z"/><path d="M670.5,285.4L672.3,283.3L676.9,284.1L681.2,285.8L683.8,284.8L686.3,285.9L689.6,288.3L689.6,290.7L684.5,289.5L680.4,288.7L677.7,287.8L673.1,287.0L670.5,285.4Z"/><path d="M690.8,289.4L695.0,289.4L699.1,290.3L705.4,290.4L709.6,290.0L715.9,290.1L711.4,293.3L708.0,295.1L700.8,294.4L692.7,291.5L690.8,289.4Z"/><path d="M700.8,282.3L703.3,274.3L704.4,270.8L708.0,269.8L712.8,263.5L710.7,266.5L703.3,266.0L701.9,267.6L700.0,277.0L700.8,282.3Z"/><path d="M704.4,270.8L705.1,279.7L707.1,281.9L708.7,279.7L705.9,275.7L709.0,271.6L704.4,270.8Z"/><path d="M718.0,262.2L720.2,264.9L719.1,269.8L718.1,267.6L718.0,262.2Z"/><path d="M719.0,275.8L724.8,277.4L722.1,277.1L719.0,275.8Z"/><path d="M725.4,270.3L728.6,268.7L732.2,270.1L733.7,276.7L739.1,271.8L746.4,274.9L753.6,278.3L756.1,282.6L759.4,285.2L759.1,288.9L760.7,293.2L763.6,297.8L759.2,296.5L756.6,292.5L752.4,289.0L750.2,292.9L748.0,293.7L744.5,293.0L741.1,290.1L738.9,290.6L739.7,287.0L738.8,282.9L735.6,280.3L731.9,278.6L729.4,278.9L727.4,275.3L730.6,274.5L725.4,270.3Z"/><path d="M761.3,283.5L766.0,281.9L769.3,279.7L768.0,283.4L764.7,285.3L761.3,283.5Z"/><path d="M721.9,379.3L727.9,380.6L723.5,386.5L720.2,387.2L720.3,383.6L721.9,379.3Z"/><path d="M782.5,369.0L783.2,372.7L781.9,376.2L783.0,377.6L786.5,379.7L782.7,383.3L778.5,385.9L772.9,388.2L775.6,384.2L775.5,382.4L781.1,376.7L782.0,371.4L782.5,369.0Z"/><path d="M771.0,385.5L771.2,389.1L766.2,392.7L763.8,394.1L760.2,395.5L756.1,399.0L752.0,400.3L749.3,398.1L752.2,395.7L756.8,393.5L763.1,391.0L767.8,388.0L771.0,385.5Z"/><path d="M785.1,327.0L788.9,333.5L788.2,332.9L785.1,327.0Z"/><path d="M708.3,142.9L709.5,140.6L704.6,135.2L705.9,134.5L700.8,130.2L697.7,125.2L693.4,122.3L697.2,128.0L703.0,135.4L708.3,142.9Z"/><path d="M552.6,297.2L554.5,305.8L552.8,309.5L549.9,316.8L547.4,324.2L545.3,329.1L541.1,330.2L538.9,325.3L538.9,321.1L541.2,315.5L540.8,309.8L542.0,307.4L546.2,306.0L549.6,301.6L552.6,297.2Z"/></g><g filter="url(#fy)"><path d="M287.3,246.2L290.2,243.7L291.4,241.4L294.2,239.4L297.9,238.0L300.1,236.8L299.6,240.0L303.2,237.8L306.0,241.3L309.2,241.1L315.5,241.2L319.7,241.0L321.5,246.5L325.6,248.2L327.6,250.7L333.8,253.0L339.5,255.5L342.2,257.2L344.2,263.2L343.3,266.9L347.3,270.1L352.6,270.1L356.2,273.7L361.1,274.5L365.3,274.7L368.5,276.7L371.6,279.3L375.5,281.0L376.2,287.2L374.4,291.1L371.6,295.0L369.1,299.4L368.4,305.6L368.2,310.5L367.3,315.4L366.4,317.3L365.3,321.5L363.5,324.0L361.0,324.0L357.8,325.1L354.9,326.6L351.1,332.8L351.1,337.7L348.4,342.7L345.8,347.0L343.6,350.7L341.2,354.0L338.8,353.8L336.1,352.9L334.4,353.2L337.2,355.4L338.5,357.3L337.8,361.5L333.4,363.6L329.2,364.0L330.0,368.0L325.1,369.4L328.9,373.0L326.9,374.8L327.4,379.2L323.9,381.9L328.4,386.2L326.5,390.5L325.7,395.7L327.4,397.9L324.2,398.8L324.2,401.2L321.3,400.7L316.9,398.4L312.7,392.4L310.9,387.5L311.5,383.7L311.1,380.0L311.8,376.2L309.2,372.6L308.2,367.1L306.8,361.4L307.3,356.4L307.6,350.1L306.2,342.7L305.4,335.2L305.7,326.6L305.1,320.1L304.1,313.9L300.2,310.2L293.5,305.8L290.4,302.4L288.3,297.9L284.9,291.6L282.5,285.3L278.5,280.3L279.0,277.7L281.1,275.2L280.0,272.7L278.9,270.1L281.0,266.3L282.0,263.8L284.2,261.3L286.8,257.8L286.6,252.5L286.1,249.4L287.3,246.2Z" fill-opacity="0.188"/><path d="M275.2,212.0L279.7,209.6L285.9,209.0L290.5,212.2L296.7,216.6L289.8,217.4L285.3,213.0L281.5,211.2L275.2,212.0Z" fill-opacity="0.569"/><path d="M782.5,369.0L783.2,372.7L781.9,376.2L783.0,377.6L786.5,379.7L782.7,383.3L778.5,385.9L772.9,388.2L775.6,384.2L775.5,382.4L781.1,376.7L782.0,371.4L782.5,369.0Z" fill-opacity="0.521"/><path d="M771.0,385.5L771.2,389.1L766.2,392.7L763.8,394.1L760.2,395.5L756.1,399.0L752.0,400.3L749.3,398.1L752.2,395.7L756.8,393.5L763.1,391.0L767.8,388.0L771.0,385.5Z" fill-opacity="0.569"/><path d="M721.9,379.3L727.9,380.6L723.5,386.5L720.2,387.2L720.3,383.6L721.9,379.3Z" fill-opacity="0.473"/><path d="M705.3,175.4L706.9,172.0L710.4,171.1L712.9,170.1L713.1,166.7L715.0,164.6L715.8,161.5L713.8,157.3L713.1,155.2L715.2,155.0L718.5,159.3L718.8,162.9L721.3,168.1L722.4,170.0L721.5,171.7L720.1,172.1L719.0,173.0L716.4,173.3L715.7,175.3L713.5,174.7L711.6,173.5L708.4,175.1L705.3,175.4Z" fill-opacity="0.426"/><path d="M214.2,152.0L249.6,142.5L254.3,173.2L259.0,185.0L249.6,192.0L247.2,210.9L259.0,220.3L277.9,229.8L287.3,246.3L273.2,248.6L254.3,229.8L235.5,215.6L226.0,201.5L218.9,182.6L214.2,166.1Z" fill-opacity="0.196"/><path d="M181.2,83.6L230.7,81.2L247.2,88.3L266.1,88.3L270.8,102.4L261.4,118.9L268.5,137.8L277.9,144.9L273.2,154.3L259.0,154.3L249.6,142.5L230.7,140.2L218.9,137.8L216.6,126.0L207.2,109.5L188.3,111.9L167.1,116.6L183.6,104.8L183.6,90.7Z" fill-opacity="0.605"/><path d="M261.5,93.6L291.5,90.6L304.4,100.0L321.5,104.3L317.2,112.9L343.0,112.9L351.5,130.0L351.5,151.5L334.4,155.8L308.7,155.8L291.5,142.9L283.0,142.9L274.4,138.6L265.8,125.7L261.5,108.6Z" fill-opacity="0.300"/><path d="M249.6,142.5L270.8,144.9L292.0,156.7L325.1,156.7L339.2,154.3L325.1,163.8L310.9,173.2L296.8,182.6L292.0,192.0L282.6,192.0L268.5,189.7L259.0,185.0L254.3,173.2Z" fill-opacity="0.529"/><path d="M280.5,270.5L287.0,268.9L291.8,281.8L298.2,293.1L306.3,301.1L307.9,310.7L301.4,312.3L291.8,304.3L285.4,291.4L278.9,280.2Z" fill-opacity="0.390"/><path d="M307.9,294.7L319.1,294.7L320.7,305.9L312.7,309.1L307.1,304.3Z" fill-opacity="0.492"/><path d="M287.0,243.2L325.6,240.0L340.0,268.9L327.2,280.2L303.1,278.6L287.0,272.2Z" fill-opacity="0.220"/><path d="M352.9,272.2L375.4,278.6L373.8,291.4L359.3,293.1L349.7,281.8Z" fill-opacity="0.359"/><path d="M336.8,288.2L352.9,291.4L352.9,307.5L340.0,317.2L330.4,314.0Z" fill-opacity="0.213"/><path d="M324.0,323.6L349.7,330.0L349.7,352.5L336.8,355.8L324.0,342.9Z" fill-opacity="0.322"/><path d="M324.0,330.0L349.7,336.5L346.5,350.9L333.6,352.5L325.6,342.9Z" fill-opacity="0.268"/><path d="M319.1,346.1L333.6,346.1L335.2,360.6L325.6,363.8L317.5,355.8Z" fill-opacity="0.300"/><path d="M306.3,355.8L319.1,359.0L322.3,378.3L325.6,397.6L320.7,404.0L314.3,397.6L307.9,378.3Z" fill-opacity="0.424"/><path d="M306.3,362.2L319.1,365.4L322.3,378.3L324.0,397.6L317.5,399.2L311.1,384.7Z" fill-opacity="0.104"/><path d="M325.1,100.1L346.3,102.4L348.6,116.6L339.2,116.6L325.1,111.9Z" fill-opacity="0.356"/><path d="M261.4,208.6L292.0,213.3L296.8,222.7L277.9,222.7L263.8,215.6Z" fill-opacity="0.322"/><path d="M367.5,100.1L373.4,97.7L374.6,118.9L367.5,118.9Z" fill-opacity="0.424"/><path d="M458.4,116.6L467.8,104.8L484.3,94.2L500.8,95.4L515.0,104.8L517.3,121.3L507.9,128.4L493.8,130.7L484.3,135.5L472.5,135.5L460.7,130.7Z" fill-opacity="0.300"/><path d="M408.9,104.8L427.7,104.8L427.7,111.9L411.2,113.1Z" fill-opacity="0.647"/><path d="M550.3,88.3L592.8,88.3L597.5,107.2L592.8,126.0L578.6,140.2L555.1,137.8L545.6,121.3L548.0,100.1Z" fill-opacity="0.300"/><path d="M512.6,97.7L550.3,90.7L555.1,140.2L522.0,137.8L512.6,121.3Z" fill-opacity="0.280"/><path d="M432.4,130.7L460.7,133.1L507.9,128.4L550.3,130.7L555.1,144.9L543.3,154.3L531.5,163.8L503.2,168.5L472.5,163.8L448.9,159.0L437.2,154.3L432.4,140.2Z" fill-opacity="0.544"/><path d="M489.0,137.8L531.5,137.8L536.2,159.0L512.6,161.4L493.8,154.3Z" fill-opacity="0.234"/><path d="M430.1,159.0L460.7,161.4L458.4,177.9L432.4,177.9Z" fill-opacity="0.314"/><path d="M432.4,121.3L451.3,121.3L453.7,144.9L434.8,142.5Z" fill-opacity="0.398"/><path d="M496.1,170.8L550.3,170.8L555.1,192.0L512.6,192.0Z" fill-opacity="0.142"/><path d="M555.1,140.2L610.0,130.7L610.0,192.0L555.1,182.6Z" fill-opacity="0.149"/><path d="M597.5,88.3L610.0,85.9L610.0,130.7L597.5,126.0Z" fill-opacity="0.203"/><path d="M590.0,73.6L722.0,78.3L731.5,104.2L717.3,127.8L693.8,120.7L689.0,149.0L667.8,158.5L590.0,151.4Z" fill-opacity="0.099"/><path d="M632.4,94.8L665.5,97.2L663.1,108.9L637.2,106.6Z" fill-opacity="0.417"/><path d="M637.2,113.7L656.0,112.5L653.7,125.5L634.8,125.5Z" fill-opacity="0.325"/><path d="M590.0,85.4L606.5,85.4L604.1,97.2L590.0,99.5Z" fill-opacity="0.172"/><path d="M590.0,111.3L618.3,113.7L615.9,139.6L590.0,139.6Z" fill-opacity="0.172"/><path d="M611.2,127.8L630.1,127.8L630.1,139.6L611.2,139.6Z" fill-opacity="0.264"/><path d="M648.9,132.5L667.8,132.5L667.8,144.3L648.9,144.3Z" fill-opacity="0.356"/><path d="M667.8,83.0L691.4,85.4L691.4,101.9L670.2,99.5Z" fill-opacity="0.283"/><path d="M698.5,83.0L729.1,90.1L726.8,104.2L700.8,104.2Z" fill-opacity="0.417"/><path d="M707.9,104.2L724.4,106.6L724.4,125.5L712.6,125.5Z" fill-opacity="0.387"/><path d="M670.2,137.2L693.8,139.6L696.1,163.2L674.9,167.9L667.8,153.8Z" fill-opacity="0.378"/><path d="M700.8,142.0L722.0,142.0L722.0,184.4L703.2,184.4Z" fill-opacity="0.423"/><path d="M660.7,172.6L696.1,177.3L696.1,215.1L667.8,219.8L656.0,196.2Z" fill-opacity="0.402"/><path d="M590.0,191.5L641.9,196.2L637.2,250.0L590.0,250.0Z" fill-opacity="0.427"/><path d="M604.1,182.0L641.9,189.1L641.9,203.3L604.1,198.6Z" fill-opacity="0.246"/><path d="M608.9,172.6L646.6,177.3L641.9,191.5L608.9,189.1Z" fill-opacity="0.264"/><path d="M641.9,203.3L689.0,215.1L684.3,250.0L641.9,250.0Z" fill-opacity="0.221"/><path d="M691.4,212.7L722.0,212.7L722.0,250.0L691.4,250.0Z" fill-opacity="0.227"/><path d="M414.1,224.2L532.0,231.3L541.5,247.8L536.8,269.0L532.0,302.0L503.8,353.9L480.2,349.2L468.4,264.3L418.9,247.8Z" fill-opacity="0.081"/><path d="M416.5,224.2L470.7,228.9L532.0,233.7L541.5,247.8L513.2,250.2L470.7,252.5L435.4,254.9L418.9,245.5Z" fill-opacity="0.147"/><path d="M506.1,238.4L525.0,238.4L522.6,254.9L508.5,254.9Z" fill-opacity="0.172"/><path d="M468.4,264.3L536.8,264.3L532.0,299.7L513.2,302.0L477.8,292.6Z" fill-opacity="0.127"/><path d="M499.0,302.0L522.6,304.4L522.6,335.1L503.8,351.6L487.2,349.2L489.6,330.3Z" fill-opacity="0.267"/><path d="M536.8,297.3L555.6,297.3L546.2,332.7L536.8,330.3Z" fill-opacity="0.228"/><path d="M430.7,174.7L473.1,174.7L470.7,191.2L430.7,193.6Z" fill-opacity="0.164"/><path d="M710.7,297.9L750.8,297.9L757.9,333.3L755.5,359.2L729.6,378.1L710.7,363.9L729.6,345.1L734.3,321.5Z" fill-opacity="0.133"/><path d="M677.7,330.9L710.7,297.9L734.3,321.5L729.6,345.1L710.7,363.9L698.9,352.1L677.7,359.2Z" fill-opacity="0.094"/><path d="M732.0,340.3L753.2,340.3L750.8,356.8L734.3,356.8Z" fill-opacity="0.271"/><path d="M675.4,342.7L694.2,342.7L691.9,361.6L675.4,361.6Z" fill-opacity="0.243"/><path d="M717.8,375.7L734.3,375.7L734.3,389.9L717.8,389.9Z" fill-opacity="0.326"/><path d="M748.5,368.6L790.9,368.6L790.9,400.0L748.5,400.0Z" fill-opacity="0.243"/><path d="M717.8,269.6L772.0,269.6L772.0,297.9L717.8,297.9Z" fill-opacity="0.185"/><path d="M649.4,246.0L717.8,246.0L717.8,293.2L649.4,293.2Z" fill-opacity="0.185"/><path d="M613.0,175.0L644.0,176.0L646.0,196.0L615.0,198.0Z" fill-opacity="0.440"/><path d="M210.0,140.0L226.0,140.0L222.0,160.0L218.0,180.0L211.0,178.0L208.0,160.0Z" fill-opacity="0.394"/><path d="M258.0,100.0L266.0,126.0L274.0,139.0L291.0,143.0L309.0,156.0L334.0,156.0L352.0,152.0L352.0,162.0L300.0,166.0L262.0,152.0L250.0,120.0Z" fill-opacity="0.582"/><path d="M550.3,88.3L592.8,88.3L597.5,107.2L592.8,126.0L578.6,140.2L555.1,137.8L545.6,121.3L548.0,100.1Z" fill-opacity="0.300"/></g><g filter="url(#fo)"><path d="M287.3,246.2L290.2,243.7L291.4,241.4L294.2,239.4L297.9,238.0L300.1,236.8L299.6,240.0L303.2,237.8L306.0,241.3L309.2,241.1L315.5,241.2L319.7,241.0L321.5,246.5L325.6,248.2L327.6,250.7L333.8,253.0L339.5,255.5L342.2,257.2L344.2,263.2L343.3,266.9L347.3,270.1L352.6,270.1L356.2,273.7L361.1,274.5L365.3,274.7L368.5,276.7L371.6,279.3L375.5,281.0L376.2,287.2L374.4,291.1L371.6,295.0L369.1,299.4L368.4,305.6L368.2,310.5L367.3,315.4L366.4,317.3L365.3,321.5L363.5,324.0L361.0,324.0L357.8,325.1L354.9,326.6L351.1,332.8L351.1,337.7L348.4,342.7L345.8,347.0L343.6,350.7L341.2,354.0L338.8,353.8L336.1,352.9L334.4,353.2L337.2,355.4L338.5,357.3L337.8,361.5L333.4,363.6L329.2,364.0L330.0,368.0L325.1,369.4L328.9,373.0L326.9,374.8L327.4,379.2L323.9,381.9L328.4,386.2L326.5,390.5L325.7,395.7L327.4,397.9L324.2,398.8L324.2,401.2L321.3,400.7L316.9,398.4L312.7,392.4L310.9,387.5L311.5,383.7L311.1,380.0L311.8,376.2L309.2,372.6L308.2,367.1L306.8,361.4L307.3,356.4L307.6,350.1L306.2,342.7L305.4,335.2L305.7,326.6L305.1,320.1L304.1,313.9L300.2,310.2L293.5,305.8L290.4,302.4L288.3,297.9L284.9,291.6L282.5,285.3L278.5,280.3L279.0,277.7L281.1,275.2L280.0,272.7L278.9,270.1L281.0,266.3L282.0,263.8L284.2,261.3L286.8,257.8L286.6,252.5L286.1,249.4L287.3,246.2Z" fill-opacity="0.110"/><path d="M275.2,212.0L279.7,209.6L285.9,209.0L290.5,212.2L296.7,216.6L289.8,217.4L285.3,213.0L281.5,211.2L275.2,212.0Z" fill-opacity="0.415"/><path d="M782.5,369.0L783.2,372.7L781.9,376.2L783.0,377.6L786.5,379.7L782.7,383.3L778.5,385.9L772.9,388.2L775.6,384.2L775.5,382.4L781.1,376.7L782.0,371.4L782.5,369.0Z" fill-opacity="0.377"/><path d="M771.0,385.5L771.2,389.1L766.2,392.7L763.8,394.1L760.2,395.5L756.1,399.0L752.0,400.3L749.3,398.1L752.2,395.7L756.8,393.5L763.1,391.0L767.8,388.0L771.0,385.5Z" fill-opacity="0.415"/><path d="M721.9,379.3L727.9,380.6L723.5,386.5L720.2,387.2L720.3,383.6L721.9,379.3Z" fill-opacity="0.339"/><path d="M705.3,175.4L706.9,172.0L710.4,171.1L712.9,170.1L713.1,166.7L715.0,164.6L715.8,161.5L713.8,157.3L713.1,155.2L715.2,155.0L718.5,159.3L718.8,162.9L721.3,168.1L722.4,170.0L721.5,171.7L720.1,172.1L719.0,173.0L716.4,173.3L715.7,175.3L713.5,174.7L711.6,173.5L708.4,175.1L705.3,175.4Z" fill-opacity="0.301"/><path d="M214.2,152.0L249.6,142.5L254.3,173.2L259.0,185.0L249.6,192.0L247.2,210.9L259.0,220.3L277.9,229.8L287.3,246.3L273.2,248.6L254.3,229.8L235.5,215.6L226.0,201.5L218.9,182.6L214.2,166.1Z" fill-opacity="0.117"/><path d="M181.2,83.6L230.7,81.2L247.2,88.3L266.1,88.3L270.8,102.4L261.4,118.9L268.5,137.8L277.9,144.9L273.2,154.3L259.0,154.3L249.6,142.5L230.7,140.2L218.9,137.8L216.6,126.0L207.2,109.5L188.3,111.9L167.1,116.6L183.6,104.8L183.6,90.7Z" fill-opacity="0.444"/><path d="M261.5,93.6L291.5,90.6L304.4,100.0L321.5,104.3L317.2,112.9L343.0,112.9L351.5,130.0L351.5,151.5L334.4,155.8L308.7,155.8L291.5,142.9L283.0,142.9L274.4,138.6L265.8,125.7L261.5,108.6Z" fill-opacity="1.000"/><path d="M249.6,142.5L270.8,144.9L292.0,156.7L325.1,156.7L339.2,154.3L325.1,163.8L310.9,173.2L296.8,182.6L292.0,192.0L282.6,192.0L268.5,189.7L259.0,185.0L254.3,173.2Z" fill-opacity="0.383"/><path d="M280.5,270.5L287.0,268.9L291.8,281.8L298.2,293.1L306.3,301.1L307.9,310.7L301.4,312.3L291.8,304.3L285.4,291.4L278.9,280.2Z" fill-opacity="0.272"/><path d="M307.9,294.7L319.1,294.7L320.7,305.9L312.7,309.1L307.1,304.3Z" fill-opacity="0.354"/><path d="M287.0,243.2L325.6,240.0L340.0,268.9L327.2,280.2L303.1,278.6L287.0,272.2Z" fill-opacity="0.136"/><path d="M352.9,272.2L375.4,278.6L373.8,291.4L359.3,293.1L349.7,281.8Z" fill-opacity="0.248"/><path d="M336.8,288.2L352.9,291.4L352.9,307.5L340.0,317.2L330.4,314.0Z" fill-opacity="0.131"/><path d="M324.0,323.6L349.7,330.0L349.7,352.5L336.8,355.8L324.0,342.9Z" fill-opacity="0.218"/><path d="M324.0,330.0L349.7,336.5L346.5,350.9L333.6,352.5L325.6,342.9Z" fill-opacity="0.174"/><path d="M319.1,346.1L333.6,346.1L335.2,360.6L325.6,363.8L317.5,355.8Z" fill-opacity="1.000"/><path d="M306.3,355.8L319.1,359.0L322.3,378.3L325.6,397.6L320.7,404.0L314.3,397.6L307.9,378.3Z" fill-opacity="0.299"/><path d="M306.3,362.2L319.1,365.4L322.3,378.3L324.0,397.6L317.5,399.2L311.1,384.7Z" fill-opacity="0.044"/><path d="M325.1,100.1L346.3,102.4L348.6,116.6L339.2,116.6L325.1,111.9Z" fill-opacity="0.245"/><path d="M261.4,208.6L292.0,213.3L296.8,222.7L277.9,222.7L263.8,215.6Z" fill-opacity="0.218"/><path d="M367.5,100.1L373.4,97.7L374.6,118.9L367.5,118.9Z" fill-opacity="0.299"/><path d="M458.4,116.6L467.8,104.8L484.3,94.2L500.8,95.4L515.0,104.8L517.3,121.3L507.9,128.4L493.8,130.7L484.3,135.5L472.5,135.5L460.7,130.7Z" fill-opacity="1.000"/><path d="M408.9,104.8L427.7,104.8L427.7,111.9L411.2,113.1Z" fill-opacity="0.477"/><path d="M550.3,88.3L592.8,88.3L597.5,107.2L592.8,126.0L578.6,140.2L555.1,137.8L545.6,121.3L548.0,100.1Z" fill-opacity="1.000"/><path d="M512.6,97.7L550.3,90.7L555.1,140.2L522.0,137.8L512.6,121.3Z" fill-opacity="0.184"/><path d="M432.4,130.7L460.7,133.1L507.9,128.4L550.3,130.7L555.1,144.9L543.3,154.3L531.5,163.8L503.2,168.5L472.5,163.8L448.9,159.0L437.2,154.3L432.4,140.2Z" fill-opacity="0.395"/><path d="M489.0,137.8L531.5,137.8L536.2,159.0L512.6,161.4L493.8,154.3Z" fill-opacity="0.147"/><path d="M430.1,159.0L460.7,161.4L458.4,177.9L432.4,177.9Z" fill-opacity="0.211"/><path d="M432.4,121.3L451.3,121.3L453.7,144.9L434.8,142.5Z" fill-opacity="0.278"/><path d="M496.1,170.8L550.3,170.8L555.1,192.0L512.6,192.0Z" fill-opacity="0.073"/><path d="M555.1,140.2L610.0,130.7L610.0,192.0L555.1,182.6Z" fill-opacity="0.080"/><path d="M597.5,88.3L610.0,85.9L610.0,130.7L597.5,126.0Z" fill-opacity="0.122"/><path d="M590.0,73.6L722.0,78.3L731.5,104.2L717.3,127.8L693.8,120.7L689.0,149.0L667.8,158.5L590.0,151.4Z" fill-opacity="0.039"/><path d="M632.4,94.8L665.5,97.2L663.1,108.9L637.2,106.6Z" fill-opacity="0.294"/><path d="M637.2,113.7L656.0,112.5L653.7,125.5L634.8,125.5Z" fill-opacity="0.220"/><path d="M590.0,85.4L606.5,85.4L604.1,97.2L590.0,99.5Z" fill-opacity="0.098"/><path d="M590.0,111.3L618.3,113.7L615.9,139.6L590.0,139.6Z" fill-opacity="0.098"/><path d="M611.2,127.8L630.1,127.8L630.1,139.6L611.2,139.6Z" fill-opacity="0.171"/><path d="M648.9,132.5L667.8,132.5L667.8,144.3L648.9,144.3Z" fill-opacity="0.245"/><path d="M667.8,83.0L691.4,85.4L691.4,101.9L670.2,99.5Z" fill-opacity="0.186"/><path d="M698.5,83.0L729.1,90.1L726.8,104.2L700.8,104.2Z" fill-opacity="0.294"/><path d="M707.9,104.2L724.4,106.6L724.4,125.5L712.6,125.5Z" fill-opacity="0.269"/><path d="M670.2,137.2L693.8,139.6L696.1,163.2L674.9,167.9L667.8,153.8Z" fill-opacity="0.262"/><path d="M700.8,142.0L722.0,142.0L722.0,184.4L703.2,184.4Z" fill-opacity="0.299"/><path d="M660.7,172.6L696.1,177.3L696.1,215.1L667.8,219.8L656.0,196.2Z" fill-opacity="0.282"/><path d="M590.0,191.5L641.9,196.2L637.2,250.0L590.0,250.0Z" fill-opacity="0.302"/><path d="M604.1,182.0L641.9,189.1L641.9,203.3L604.1,198.6Z" fill-opacity="0.157"/><path d="M608.9,172.6L646.6,177.3L641.9,191.5L608.9,189.1Z" fill-opacity="0.171"/><path d="M641.9,203.3L689.0,215.1L684.3,250.0L641.9,250.0Z" fill-opacity="0.137"/><path d="M691.4,212.7L722.0,212.7L722.0,250.0L691.4,250.0Z" fill-opacity="0.142"/><path d="M414.1,224.2L532.0,231.3L541.5,247.8L536.8,269.0L532.0,302.0L503.8,353.9L480.2,349.2L468.4,264.3L418.9,247.8Z" fill-opacity="0.024"/><path d="M416.5,224.2L470.7,228.9L532.0,233.7L541.5,247.8L513.2,250.2L470.7,252.5L435.4,254.9L418.9,245.5Z" fill-opacity="0.078"/><path d="M506.1,238.4L525.0,238.4L522.6,254.9L508.5,254.9Z" fill-opacity="0.098"/><path d="M468.4,264.3L536.8,264.3L532.0,299.7L513.2,302.0L477.8,292.6Z" fill-opacity="0.061"/><path d="M499.0,302.0L522.6,304.4L522.6,335.1L503.8,351.6L487.2,349.2L489.6,330.3Z" fill-opacity="0.173"/><path d="M536.8,297.3L555.6,297.3L546.2,332.7L536.8,330.3Z" fill-opacity="0.143"/><path d="M430.7,174.7L473.1,174.7L470.7,191.2L430.7,193.6Z" fill-opacity="0.091"/><path d="M710.7,297.9L750.8,297.9L757.9,333.3L755.5,359.2L729.6,378.1L710.7,363.9L729.6,345.1L734.3,321.5Z" fill-opacity="0.066"/><path d="M677.7,330.9L710.7,297.9L734.3,321.5L729.6,345.1L710.7,363.9L698.9,352.1L677.7,359.2Z" fill-opacity="0.035"/><path d="M732.0,340.3L753.2,340.3L750.8,356.8L734.3,356.8Z" fill-opacity="0.177"/><path d="M675.4,342.7L694.2,342.7L691.9,361.6L675.4,361.6Z" fill-opacity="0.155"/><path d="M717.8,375.7L734.3,375.7L734.3,389.9L717.8,389.9Z" fill-opacity="0.221"/><path d="M748.5,368.6L790.9,368.6L790.9,400.0L748.5,400.0Z" fill-opacity="0.155"/><path d="M717.8,269.6L772.0,269.6L772.0,297.9L717.8,297.9Z" fill-opacity="0.108"/><path d="M649.4,246.0L717.8,246.0L717.8,293.2L649.4,293.2Z" fill-opacity="0.108"/><path d="M613.0,175.0L644.0,176.0L646.0,196.0L615.0,198.0Z" fill-opacity="0.312"/><path d="M210.0,140.0L226.0,140.0L222.0,160.0L218.0,180.0L211.0,178.0L208.0,160.0Z" fill-opacity="0.275"/><path d="M258.0,100.0L266.0,126.0L274.0,139.0L291.0,143.0L309.0,156.0L334.0,156.0L352.0,152.0L352.0,162.0L300.0,166.0L262.0,152.0L250.0,120.0Z" fill-opacity="0.425"/><path d="M550.3,88.3L592.8,88.3L597.5,107.2L592.8,126.0L578.6,140.2L555.1,137.8L545.6,121.3L548.0,100.1Z" fill-opacity="0.800"/></g><g filter="url(#ft)"><path d="M705.3,175.4L706.9,172.0L710.4,171.1L712.9,170.1L713.1,166.7L715.0,164.6L715.8,161.5L713.8,157.3L713.1,155.2L715.2,155.0L718.5,159.3L718.8,162.9L721.3,168.1L722.4,170.0L721.5,171.7L720.1,172.1L719.0,173.0L716.4,173.3L715.7,175.3L713.5,174.7L711.6,173.5L708.4,175.1L705.3,175.4Z" fill-opacity="0.020"/><path d="M287.3,246.2L290.2,243.7L291.4,241.4L294.2,239.4L297.9,238.0L300.1,236.8L299.6,240.0L303.2,237.8L306.0,241.3L309.2,241.1L315.5,241.2L319.7,241.0L321.5,246.5L325.6,248.2L327.6,250.7L333.8,253.0L339.5,255.5L342.2,257.2L344.2,263.2L343.3,266.9L347.3,270.1L352.6,270.1L356.2,273.7L361.1,274.5L365.3,274.7L368.5,276.7L371.6,279.3L375.5,281.0L376.2,287.2L374.4,291.1L371.6,295.0L369.1,299.4L368.4,305.6L368.2,310.5L367.3,315.4L366.4,317.3L365.3,321.5L363.5,324.0L361.0,324.0L357.8,325.1L354.9,326.6L351.1,332.8L351.1,337.7L348.4,342.7L345.8,347.0L343.6,350.7L341.2,354.0L338.8,353.8L336.1,352.9L334.4,353.2L337.2,355.4L338.5,357.3L337.8,361.5L333.4,363.6L329.2,364.0L330.0,368.0L325.1,369.4L328.9,373.0L326.9,374.8L327.4,379.2L323.9,381.9L328.4,386.2L326.5,390.5L325.7,395.7L327.4,397.9L324.2,398.8L324.2,401.2L321.3,400.7L316.9,398.4L312.7,392.4L310.9,387.5L311.5,383.7L311.1,380.0L311.8,376.2L309.2,372.6L308.2,367.1L306.8,361.4L307.3,356.4L307.6,350.1L306.2,342.7L305.4,335.2L305.7,326.6L305.1,320.1L304.1,313.9L300.2,310.2L293.5,305.8L290.4,302.4L288.3,297.9L284.9,291.6L282.5,285.3L278.5,280.3L279.0,277.7L281.1,275.2L280.0,272.7L278.9,270.1L281.0,266.3L282.0,263.8L284.2,261.3L286.8,257.8L286.6,252.5L286.1,249.4L287.3,246.2Z" fill-opacity="0.005"/><path d="M214.2,152.0L249.6,142.5L254.3,173.2L259.0,185.0L249.6,192.0L247.2,210.9L259.0,220.3L277.9,229.8L287.3,246.3L273.2,248.6L254.3,229.8L235.5,215.6L226.0,201.5L218.9,182.6L214.2,166.1Z" fill-opacity="0.004"/><path d="M181.2,83.6L230.7,81.2L247.2,88.3L266.1,88.3L270.8,102.4L261.4,118.9L268.5,137.8L277.9,144.9L273.2,154.3L259.0,154.3L249.6,142.5L230.7,140.2L218.9,137.8L216.6,126.0L207.2,109.5L188.3,111.9L167.1,116.6L183.6,104.8L183.6,90.7Z" fill-opacity="0.018"/><path d="M249.6,142.5L270.8,144.9L292.0,156.7L325.1,156.7L339.2,154.3L325.1,163.8L310.9,173.2L296.8,182.6L292.0,192.0L282.6,192.0L268.5,189.7L259.0,185.0L254.3,173.2Z" fill-opacity="0.022"/><path d="M287.0,243.2L325.6,240.0L340.0,268.9L327.2,280.2L303.1,278.6L287.0,272.2Z" fill-opacity="0.008"/><path d="M352.9,272.2L375.4,278.6L373.8,291.4L359.3,293.1L349.7,281.8Z" fill-opacity="0.028"/><path d="M336.8,288.2L352.9,291.4L352.9,307.5L340.0,317.2L330.4,314.0Z" fill-opacity="0.024"/><path d="M324.0,330.0L349.7,336.5L346.5,350.9L333.6,352.5L325.6,342.9Z" fill-opacity="0.032"/><path d="M306.3,362.2L319.1,365.4L322.3,378.3L324.0,397.6L317.5,399.2L311.1,384.7Z" fill-opacity="0.008"/><path d="M432.4,130.7L460.7,133.1L507.9,128.4L550.3,130.7L555.1,144.9L543.3,154.3L531.5,163.8L503.2,168.5L472.5,163.8L448.9,159.0L437.2,154.3L432.4,140.2Z" fill-opacity="0.034"/><path d="M489.0,137.8L531.5,137.8L536.2,159.0L512.6,161.4L493.8,154.3Z" fill-opacity="0.024"/><path d="M430.1,159.0L460.7,161.4L458.4,177.9L432.4,177.9Z" fill-opacity="0.012"/><path d="M432.4,121.3L451.3,121.3L453.7,144.9L434.8,142.5Z" fill-opacity="0.028"/><path d="M670.2,137.2L693.8,139.6L696.1,163.2L674.9,167.9L667.8,153.8Z" fill-opacity="0.010"/><path d="M700.8,142.0L722.0,142.0L722.0,184.4L703.2,184.4Z" fill-opacity="0.016"/><path d="M660.7,172.6L696.1,177.3L696.1,215.1L667.8,219.8L656.0,196.2Z" fill-opacity="0.020"/><path d="M590.0,191.5L641.9,196.2L637.2,250.0L590.0,250.0Z" fill-opacity="0.026"/><path d="M604.1,182.0L641.9,189.1L641.9,203.3L604.1,198.6Z" fill-opacity="0.032"/><path d="M641.9,203.3L689.0,215.1L684.3,250.0L641.9,250.0Z" fill-opacity="0.016"/><path d="M691.4,212.7L722.0,212.7L722.0,250.0L691.4,250.0Z" fill-opacity="0.024"/><path d="M416.5,224.2L470.7,228.9L532.0,233.7L541.5,247.8L513.2,250.2L470.7,252.5L435.4,254.9L418.9,245.5Z" fill-opacity="0.008"/><path d="M506.1,238.4L525.0,238.4L522.6,254.9L508.5,254.9Z" fill-opacity="0.024"/><path d="M468.4,264.3L536.8,264.3L532.0,299.7L513.2,302.0L477.8,292.6Z" fill-opacity="0.008"/><path d="M499.0,302.0L522.6,304.4L522.6,335.1L503.8,351.6L487.2,349.2L489.6,330.3Z" fill-opacity="0.012"/><path d="M430.7,174.7L473.1,174.7L470.7,191.2L430.7,193.6Z" fill-opacity="0.006"/><path d="M717.8,269.6L772.0,269.6L772.0,297.9L717.8,297.9Z" fill-opacity="0.012"/><path d="M649.4,246.0L717.8,246.0L717.8,293.2L649.4,293.2Z" fill-opacity="0.012"/><path d="M613.0,175.0L644.0,176.0L646.0,196.0L615.0,198.0Z" fill-opacity="0.016"/><path d="M258.0,100.0L266.0,126.0L274.0,139.0L291.0,143.0L309.0,156.0L334.0,156.0L352.0,152.0L352.0,162.0L300.0,166.0L262.0,152.0L250.0,120.0Z" fill-opacity="0.020"/></g></g><use href="#waterp" fill="#fff"/><use href="#coastp" fill="none" stroke="#111" stroke-width="0.9" stroke-linejoin="round"/></g>
<path d="M69,627.8H77M69,704.1H77M69,795.1H77M69,886.1H77M69,962.4H77M259.9,1006.4V1013.4M323.1,1006.4V1013.4M386.3,1006.4V1013.4M449.5,1006.4V1013.4M512.7,1006.4V1013.4M575.9,1006.4V1013.4M639.1,1006.4V1013.4" stroke="#333" stroke-width="1.8" fill="none"/>
<defs><linearGradient id="cb" x1="0" y1="94.7" x2="0" y2="967.6" gradientUnits="userSpaceOnUse"><stop offset="0" stop-color="#1270bd"/><stop offset="0.1667" stop-color="#1472bd"/><stop offset="0.3333" stop-color="#5ea7d9"/><stop offset="0.3334" stop-color="#78b6df"/><stop offset="0.4995" stop-color="#f4f8fc"/><stop offset="0.5005" stop-color="#fffcf2"/><stop offset="0.6667" stop-color="#f6d68e"/><stop offset="0.6668" stop-color="#f4cb62"/><stop offset="0.8333" stop-color="#eeab12"/><stop offset="1" stop-color="#eda80c"/></linearGradient></defs><path d="M859,94.7 L871.2,73 L883.5,94.7 Z" fill="#1270bd" stroke="#111" stroke-width="1.8" stroke-linejoin="miter"/><path d="M859,967.6 L871.2,990 L883.5,967.6 Z" fill="#eda80c" stroke="#111" stroke-width="1.8"/><rect x="859" y="94.7" width="24.5" height="872.9" fill="url(#cb)" stroke="#111" stroke-width="1.8"/><path d="M859,94.7H883.5" stroke="#111" stroke-width="3"/><path d="M859,240.5H883.5" stroke="#111" stroke-width="3"/><path d="M859,386.2H883.5" stroke="#111" stroke-width="3"/><path d="M859,531.0H883.5" stroke="#111" stroke-width="3"/><path d="M859,676.8H883.5" stroke="#111" stroke-width="3"/><path d="M859,821.8H883.5" stroke="#111" stroke-width="3"/><path d="M859,967.6H883.5" stroke="#111" stroke-width="3"/>
</svg>
<div class="lab" style="left:29px;top:17.0px">(a)</div><div class="title" style="top:16.0px;left:0px">EN<sub>N</sub>/DE<sub>N</sub> &lt; 1: 53.2%</div><div class="lat" style="top:85.1px">60<span class="dg"></span></div><div class="lat" style="top:161.4px">30<span class="dg"></span></div><div class="lat" style="top:252.4px">0<span class="dg"></span></div><div class="lat" style="top:343.4px">-30<span class="dg"></span></div><div class="lat" style="top:419.7px">-60<span class="dg"></span></div><div class="lon" style="left:199.9px;top:498.9px"><span class="in">-180<span class="dg"></span></span></div><div class="lon" style="left:263.1px;top:498.9px"><span class="in">-120<span class="dg"></span></span></div><div class="lon" style="left:326.3px;top:498.9px"><span class="in">-60<span class="dg"></span></span></div><div class="lon" style="left:394.5px;top:498.9px"><span class="in">0<span class="dg"></span></span></div><div class="lon" style="left:457.7px;top:498.9px"><span class="in">60<span class="dg"></span></span></div><div class="lon" style="left:520.9px;top:498.9px"><span class="in">120<span class="dg"></span></span></div><div class="lon" style="left:584.1px;top:498.9px"><span class="in">180<span class="dg"></span></span></div>
<div class="lab" style="left:29px;top:546.1px">(b)</div><div class="title" style="top:546.7px;left:5px">EN<sub>P</sub>/DE<sub>P</sub> &lt; 1: 87.4%</div><div class="lat" style="top:612.6px">60<span class="dg"></span></div><div class="lat" style="top:688.9px">30<span class="dg"></span></div><div class="lat" style="top:779.9px">0<span class="dg"></span></div><div class="lat" style="top:870.9px">-30<span class="dg"></span></div><div class="lat" style="top:947.2px">-60<span class="dg"></span></div><div class="lon" style="left:199.9px;top:1022.9px"><span class="in">-180<span class="dg"></span></span></div><div class="lon" style="left:263.1px;top:1022.9px"><span class="in">-120<span class="dg"></span></span></div><div class="lon" style="left:326.3px;top:1022.9px"><span class="in">-60<span class="dg"></span></span></div><div class="lon" style="left:394.5px;top:1022.9px"><span class="in">0<span class="dg"></span></span></div><div class="lon" style="left:457.7px;top:1022.9px"><span class="in">60<span class="dg"></span></span></div><div class="lon" style="left:520.9px;top:1022.9px"><span class="in">120<span class="dg"></span></span></div><div class="lon" style="left:584.1px;top:1022.9px"><span class="in">180<span class="dg"></span></span></div>
<div class="cbl" style="top:82.7px">1.6</div><div class="cbl" style="top:228.5px">1.4</div><div class="cbl" style="top:374.2px">1.2</div><div class="cbl" style="top:519.0px">1.0</div><div class="cbl" style="top:664.8px">0.8</div><div class="cbl" style="top:809.8px">0.6</div><div class="cbl" style="top:955.6px">0.4</div>
</body></html>
